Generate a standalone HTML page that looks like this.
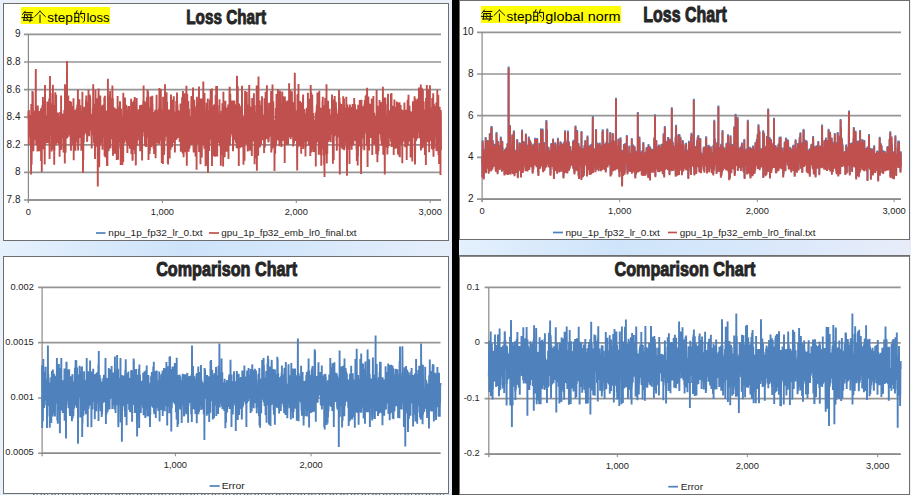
<!DOCTYPE html>
<html><head><meta charset="utf-8"><style>
html,body{margin:0;padding:0;width:911px;height:495px;overflow:hidden;}
body{background:#eaf1fb;font-family:"Liberation Sans", sans-serif;}
svg{position:absolute;left:0;top:0;}
svg text{font-family:"Liberation Sans", sans-serif;}
</style></head><body>
<svg width="911" height="495" viewBox="0 0 911 495">
<defs>
<linearGradient id="gl" x1="0" x2="1" y1="0" y2="0"><stop offset="0" stop-color="#e6f1fd"/><stop offset="0.4" stop-color="#cee3fa"/><stop offset="0.6" stop-color="#d3e6fb"/><stop offset="1" stop-color="#e6eefb"/></linearGradient>
<linearGradient id="gr" x1="0" x2="1" y1="0" y2="0"><stop offset="0" stop-color="#e4f0fd"/><stop offset="0.35" stop-color="#cfe4fa"/><stop offset="0.65" stop-color="#d8e8fb"/><stop offset="1" stop-color="#e8ecf9"/></linearGradient>
</defs>
<rect x="0" y="238" width="452" height="20" fill="url(#gl)"/>
<rect x="459" y="237" width="452" height="20" fill="url(#gr)"/>
<rect x="3.5" y="3.5" width="445" height="237" fill="#fff" stroke="#6e6e6e" stroke-width="1"/>
<rect x="459.5" y="0.5" width="450" height="239" fill="#fff" stroke="#6e6e6e" stroke-width="1"/>
<rect x="3.5" y="256.5" width="445" height="237" fill="#fff" stroke="#6e6e6e" stroke-width="1"/>
<rect x="459.5" y="255.5" width="450" height="239" fill="#fff" stroke="#6e6e6e" stroke-width="1"/>
<line x1="459" y1="256.5" x2="909" y2="256.5" stroke="#8a8a8a" stroke-width="1"/>
<rect x="0" y="494" width="452" height="1" fill="#dbeaf8"/>
<line x1="33" y1="494.5" x2="446" y2="494.5" stroke="#707070" stroke-width="1" stroke-dasharray="1.3 2.2 1 3.1 1.3 1.8"/>
<rect x="452" y="0" width="7" height="495" fill="#000"/>
<line x1="24" y1="34.4" x2="441" y2="34.4" stroke="#959595" stroke-width="1.7"/>
<text x="20.5" y="37.3" text-anchor="end" font-size="10" fill="#1e1e1e">9</text>
<line x1="24" y1="62.0" x2="441" y2="62.0" stroke="#959595" stroke-width="1.7"/>
<text x="20.5" y="64.9" text-anchor="end" font-size="10" fill="#1e1e1e">8.8</text>
<line x1="24" y1="89.6" x2="441" y2="89.6" stroke="#959595" stroke-width="1.7"/>
<text x="20.5" y="92.5" text-anchor="end" font-size="10" fill="#1e1e1e">8.6</text>
<line x1="24" y1="117.2" x2="441" y2="117.2" stroke="#959595" stroke-width="1.7"/>
<text x="20.5" y="120.10000000000001" text-anchor="end" font-size="10" fill="#1e1e1e">8.4</text>
<line x1="24" y1="144.8" x2="441" y2="144.8" stroke="#959595" stroke-width="1.7"/>
<text x="20.5" y="147.70000000000002" text-anchor="end" font-size="10" fill="#1e1e1e">8.2</text>
<line x1="24" y1="172.4" x2="441" y2="172.4" stroke="#959595" stroke-width="1.7"/>
<text x="20.5" y="175.3" text-anchor="end" font-size="10" fill="#1e1e1e">8</text>
<line x1="24" y1="200" x2="441" y2="200" stroke="#959595" stroke-width="1.7"/>
<text x="20.5" y="202.9" text-anchor="end" font-size="10" fill="#1e1e1e">7.8</text>
<line x1="28.4" y1="34.4" x2="28.4" y2="203" stroke="#8a8a8a" stroke-width="1.2"/>
<line x1="28.4" y1="200" x2="441" y2="200" stroke="#8a8a8a" stroke-width="1.3"/>
<line x1="28.4" y1="200" x2="28.4" y2="203" stroke="#8a8a8a" stroke-width="1"/>
<text x="28.4" y="214.8" text-anchor="middle" font-size="9.3" fill="#1e1e1e">0</text>
<line x1="162.4" y1="200" x2="162.4" y2="203" stroke="#8a8a8a" stroke-width="1"/>
<text x="162.4" y="214.8" text-anchor="middle" font-size="9.3" fill="#1e1e1e">1,000</text>
<line x1="296.3" y1="200" x2="296.3" y2="203" stroke="#8a8a8a" stroke-width="1"/>
<text x="296.3" y="214.8" text-anchor="middle" font-size="9.3" fill="#1e1e1e">2,000</text>
<line x1="430.2" y1="200" x2="430.2" y2="203" stroke="#8a8a8a" stroke-width="1"/>
<text x="430.2" y="214.8" text-anchor="middle" font-size="9.3" fill="#1e1e1e">3,000</text>
<polyline fill="none" stroke="#c0504d" stroke-width="1.9" stroke-linejoin="bevel" points="28.4,118.8 28.5,111.3 28.7,119.1 28.8,145.3 28.9,110.0 29.1,117.3 29.2,133.1 29.3,115.2 29.5,118.8 29.6,119.9 29.7,124.2 29.9,115.9 30.0,136.4 30.1,127.3 30.3,132.4 30.4,115.1 30.5,124.1 30.7,129.4 30.8,137.2 30.9,128.8 31.1,174.4 31.2,129.1 31.3,104.0 31.5,108.6 31.6,164.7 31.7,155.0 31.9,127.6 32.0,131.5 32.1,121.3 32.3,121.3 32.4,90.9 32.6,142.6 32.7,130.9 32.8,92.1 33.0,114.4 33.1,114.2 33.2,133.0 33.4,151.2 33.5,122.1 33.6,123.0 33.8,144.4 33.9,135.7 34.0,125.9 34.2,139.9 34.3,126.3 34.4,123.3 34.6,124.2 34.7,132.9 34.8,115.3 35.0,110.5 35.1,119.7 35.2,137.9 35.4,113.2 35.5,132.9 35.6,110.8 35.8,69.1 35.9,110.3 36.0,125.2 36.2,144.9 36.3,129.9 36.4,124.0 36.6,120.6 36.7,140.7 36.8,142.7 37.0,121.7 37.1,132.4 37.2,121.2 37.4,112.8 37.5,151.4 37.6,120.9 37.8,105.4 37.9,129.8 38.0,138.0 38.2,113.0 38.3,121.0 38.4,110.7 38.6,130.5 38.7,148.7 38.8,126.8 39.0,132.2 39.1,112.6 39.2,121.9 39.4,151.2 39.5,144.2 39.6,110.9 39.8,114.2 39.9,135.3 40.1,125.1 40.2,117.9 40.3,117.5 40.5,111.0 40.6,121.0 40.7,126.6 40.9,129.2 41.0,108.2 41.1,161.1 41.3,127.3 41.4,124.5 41.5,147.8 41.7,119.7 41.8,172.1 41.9,111.2 42.1,127.0 42.2,114.3 42.3,105.5 42.5,118.9 42.6,139.0 42.7,149.2 42.9,96.9 43.0,126.8 43.1,136.0 43.3,122.6 43.4,128.0 43.5,111.3 43.7,124.4 43.8,124.7 43.9,136.4 44.1,117.4 44.2,141.4 44.3,114.3 44.5,100.5 44.6,149.3 44.7,164.4 44.9,115.0 45.0,84.9 45.1,140.9 45.3,144.9 45.4,115.5 45.5,138.3 45.7,133.0 45.8,130.4 45.9,116.3 46.1,131.3 46.2,120.4 46.3,127.6 46.5,138.3 46.6,129.9 46.7,140.0 46.9,124.7 47.0,142.8 47.1,142.3 47.3,101.4 47.4,125.6 47.6,125.6 47.7,116.6 47.8,131.5 48.0,128.4 48.1,117.9 48.2,120.2 48.4,143.3 48.5,111.4 48.6,134.2 48.8,141.6 48.9,139.1 49.0,130.9 49.2,98.6 49.3,143.5 49.4,122.1 49.6,158.9 49.7,124.7 49.8,110.3 50.0,76.0 50.1,134.7 50.2,120.9 50.4,113.4 50.5,114.0 50.6,93.1 50.8,121.3 50.9,134.1 51.0,126.7 51.2,125.8 51.3,123.0 51.4,125.2 51.6,121.9 51.7,151.5 51.8,111.4 52.0,133.9 52.1,143.5 52.2,114.5 52.4,103.6 52.5,116.8 52.6,122.1 52.8,139.6 52.9,84.7 53.0,110.6 53.2,142.9 53.3,137.2 53.4,123.3 53.6,149.6 53.7,122.0 53.8,132.1 54.0,105.1 54.1,109.3 54.2,164.7 54.4,124.0 54.5,150.5 54.6,106.8 54.8,121.9 54.9,115.8 55.0,141.7 55.2,95.3 55.3,92.3 55.5,141.7 55.6,118.6 55.7,135.4 55.9,125.0 56.0,144.8 56.1,94.7 56.3,140.1 56.4,129.3 56.5,116.5 56.7,134.9 56.8,128.4 56.9,133.6 57.1,126.7 57.2,143.3 57.3,131.6 57.5,127.9 57.6,129.9 57.7,123.6 57.9,129.2 58.0,112.4 58.1,129.7 58.3,126.6 58.4,135.1 58.5,132.9 58.7,144.7 58.8,116.2 58.9,142.7 59.1,136.4 59.2,118.7 59.3,118.0 59.5,130.8 59.6,156.7 59.7,117.7 59.9,120.3 60.0,147.0 60.1,112.1 60.3,135.6 60.4,142.4 60.5,122.9 60.7,127.2 60.8,121.1 60.9,150.1 61.1,95.4 61.2,134.0 61.3,149.0 61.5,114.5 61.6,130.1 61.7,119.2 61.9,129.8 62.0,125.3 62.1,120.4 62.3,136.3 62.4,113.5 62.5,131.9 62.7,138.3 62.8,123.1 63.0,117.2 63.1,128.0 63.2,138.1 63.4,114.4 63.5,152.5 63.6,140.8 63.8,123.7 63.9,146.1 64.0,123.9 64.2,125.2 64.3,109.9 64.4,139.0 64.6,134.3 64.7,119.0 64.8,163.6 65.0,84.2 65.1,135.5 65.2,136.0 65.4,110.5 65.5,124.9 65.6,152.7 65.8,114.2 65.9,110.6 66.0,131.5 66.2,128.8 66.3,116.5 66.4,138.8 66.6,117.2 66.7,121.0 66.8,135.0 67.0,61.0 67.1,127.8 67.2,138.2 67.4,108.2 67.5,121.9 67.6,111.6 67.8,122.0 67.9,120.0 68.0,136.7 68.2,113.5 68.3,95.6 68.4,129.1 68.6,133.6 68.7,126.7 68.8,131.8 69.0,135.3 69.1,121.9 69.2,128.7 69.4,101.0 69.5,124.0 69.6,118.8 69.8,108.8 69.9,128.8 70.0,101.0 70.2,134.1 70.3,136.9 70.5,129.8 70.6,125.8 70.7,146.4 70.9,124.5 71.0,150.7 71.1,101.7 71.3,125.3 71.4,134.3 71.5,138.6 71.7,130.2 71.8,127.6 71.9,140.7 72.1,138.7 72.2,127.0 72.3,132.3 72.5,108.9 72.6,105.8 72.7,123.7 72.9,116.4 73.0,145.3 73.1,113.7 73.3,124.4 73.4,116.1 73.5,98.2 73.7,160.3 73.8,119.7 73.9,141.5 74.1,114.4 74.2,144.9 74.3,131.8 74.5,120.6 74.6,114.0 74.7,122.7 74.9,136.5 75.0,132.7 75.1,109.7 75.3,123.9 75.4,150.8 75.5,110.3 75.7,117.2 75.8,109.9 75.9,129.3 76.1,110.6 76.2,140.8 76.3,114.7 76.5,131.7 76.6,113.0 76.7,107.7 76.9,135.6 77.0,124.6 77.1,123.2 77.3,104.7 77.4,112.3 77.5,143.2 77.7,116.4 77.8,111.8 77.9,89.7 78.1,150.6 78.2,132.3 78.4,102.4 78.5,145.4 78.6,142.9 78.8,115.4 78.9,107.4 79.0,134.4 79.2,115.0 79.3,121.8 79.4,99.3 79.6,123.7 79.7,107.8 79.8,138.1 80.0,126.5 80.1,125.1 80.2,105.3 80.4,114.3 80.5,135.6 80.6,112.6 80.8,111.2 80.9,125.3 81.0,127.7 81.2,126.6 81.3,150.7 81.4,120.5 81.6,119.8 81.7,137.4 81.8,111.6 82.0,145.5 82.1,132.3 82.2,131.1 82.4,91.7 82.5,149.1 82.6,114.5 82.8,108.4 82.9,117.5 83.0,173.0 83.2,139.6 83.3,160.0 83.4,111.2 83.6,142.6 83.7,128.7 83.8,142.4 84.0,106.7 84.1,109.7 84.2,135.0 84.4,109.0 84.5,121.5 84.6,125.7 84.8,122.6 84.9,126.8 85.0,113.7 85.2,118.6 85.3,129.1 85.4,107.4 85.6,133.3 85.7,118.9 85.9,116.7 86.0,99.8 86.1,131.6 86.3,95.6 86.4,120.7 86.5,126.6 86.7,134.3 86.8,114.2 86.9,122.9 87.1,141.3 87.2,141.7 87.3,132.6 87.5,134.5 87.6,106.2 87.7,101.7 87.9,109.8 88.0,118.0 88.1,130.6 88.3,122.9 88.4,109.6 88.5,89.7 88.7,109.2 88.8,128.3 88.9,123.2 89.1,131.5 89.2,136.3 89.3,126.7 89.5,120.7 89.6,94.4 89.7,123.0 89.9,102.1 90.0,95.6 90.1,122.6 90.3,98.2 90.4,112.4 90.5,130.6 90.7,119.7 90.8,123.6 90.9,127.7 91.1,127.2 91.2,121.7 91.3,117.1 91.5,138.2 91.6,124.2 91.7,148.5 91.9,119.9 92.0,114.1 92.1,121.5 92.3,119.6 92.4,114.7 92.5,134.9 92.7,128.1 92.8,116.1 92.9,108.2 93.1,118.0 93.2,84.3 93.4,125.8 93.5,108.4 93.6,104.1 93.8,126.5 93.9,137.5 94.0,143.4 94.2,121.9 94.3,106.7 94.4,120.2 94.6,121.8 94.7,130.7 94.8,115.7 95.0,158.9 95.1,121.0 95.2,124.3 95.4,146.7 95.5,90.0 95.6,147.0 95.8,142.1 95.9,144.1 96.0,107.1 96.2,139.1 96.3,114.2 96.4,115.5 96.6,120.7 96.7,145.8 96.8,134.7 97.0,98.2 97.1,145.7 97.2,138.3 97.4,127.6 97.5,112.1 97.6,121.0 97.8,186.4 97.9,142.2 98.0,110.0 98.2,116.1 98.3,150.8 98.4,100.6 98.6,88.6 98.7,137.6 98.8,124.4 99.0,103.0 99.1,149.1 99.2,167.3 99.4,146.2 99.5,134.5 99.6,134.7 99.8,115.7 99.9,121.2 100.0,145.4 100.2,116.4 100.3,95.5 100.4,106.3 100.6,109.7 100.7,125.2 100.8,109.8 101.0,141.1 101.1,113.6 101.3,127.1 101.4,107.6 101.5,118.2 101.7,143.2 101.8,123.7 101.9,106.3 102.1,143.8 102.2,134.7 102.3,138.1 102.5,149.8 102.6,110.4 102.7,104.8 102.9,113.0 103.0,121.9 103.1,126.7 103.3,122.0 103.4,137.5 103.5,111.5 103.7,109.1 103.8,110.9 103.9,134.3 104.1,124.6 104.2,128.5 104.3,97.2 104.5,123.0 104.6,156.0 104.7,119.5 104.9,95.7 105.0,114.9 105.1,111.8 105.3,125.3 105.4,157.5 105.5,154.9 105.7,145.9 105.8,128.0 105.9,121.0 106.1,114.9 106.2,131.4 106.3,110.6 106.5,130.4 106.6,137.2 106.7,112.3 106.9,140.5 107.0,165.9 107.1,142.9 107.3,124.4 107.4,165.9 107.5,131.6 107.7,131.2 107.8,148.7 107.9,78.8 108.1,133.3 108.2,134.6 108.3,105.7 108.5,119.8 108.6,151.2 108.8,139.6 108.9,114.6 109.0,95.5 109.2,119.6 109.3,120.9 109.4,96.0 109.6,126.2 109.7,130.8 109.8,148.4 110.0,134.0 110.1,90.9 110.2,148.6 110.4,125.6 110.5,148.3 110.6,123.7 110.8,111.5 110.9,129.6 111.0,114.0 111.2,114.1 111.3,118.5 111.4,98.2 111.6,113.2 111.7,130.5 111.8,136.5 112.0,139.2 112.1,118.0 112.2,130.8 112.4,85.6 112.5,96.1 112.6,129.0 112.8,130.8 112.9,98.5 113.0,155.7 113.2,132.8 113.3,110.3 113.4,140.1 113.6,133.1 113.7,131.0 113.8,114.9 114.0,123.2 114.1,119.0 114.2,115.9 114.4,124.9 114.5,107.6 114.6,137.0 114.8,148.4 114.9,153.8 115.0,151.3 115.2,134.2 115.3,108.8 115.4,122.5 115.6,134.9 115.7,142.4 115.8,133.8 116.0,131.7 116.1,134.3 116.2,148.2 116.4,132.9 116.5,109.0 116.7,160.1 116.8,129.1 116.9,159.2 117.1,122.3 117.2,137.2 117.3,158.6 117.5,123.6 117.6,96.1 117.7,123.4 117.9,106.6 118.0,126.3 118.1,159.7 118.3,117.3 118.4,131.9 118.5,148.5 118.7,112.6 118.8,120.5 118.9,133.6 119.1,111.2 119.2,139.1 119.3,114.8 119.5,140.1 119.6,116.5 119.7,142.7 119.9,101.2 120.0,121.0 120.1,102.1 120.3,138.2 120.4,132.7 120.5,111.6 120.7,165.1 120.8,142.1 120.9,108.5 121.1,117.6 121.2,109.4 121.3,130.1 121.5,116.1 121.6,136.8 121.7,147.1 121.9,152.2 122.0,133.9 122.1,133.9 122.3,135.1 122.4,165.1 122.5,157.0 122.7,133.6 122.8,120.5 122.9,134.3 123.1,139.1 123.2,162.0 123.3,92.7 123.5,142.7 123.6,98.1 123.7,100.1 123.9,120.7 124.0,134.2 124.2,123.0 124.3,143.5 124.4,120.9 124.6,125.0 124.7,116.5 124.8,109.9 125.0,97.4 125.1,131.3 125.2,108.4 125.4,137.8 125.5,139.4 125.6,135.0 125.8,140.8 125.9,109.5 126.0,110.4 126.2,104.8 126.3,125.6 126.4,120.8 126.6,134.4 126.7,143.6 126.8,118.1 127.0,120.9 127.1,142.9 127.2,115.9 127.4,153.1 127.5,128.1 127.6,135.4 127.8,133.7 127.9,142.6 128.0,110.0 128.2,116.2 128.3,106.3 128.4,123.2 128.6,146.1 128.7,131.4 128.8,144.4 129.0,118.2 129.1,106.1 129.2,120.2 129.4,135.1 129.5,131.5 129.6,122.3 129.8,148.7 129.9,123.2 130.0,122.4 130.2,134.3 130.3,132.3 130.4,122.9 130.6,138.8 130.7,138.8 130.8,113.2 131.0,122.1 131.1,98.8 131.2,141.5 131.4,154.2 131.5,110.6 131.7,110.4 131.8,137.6 131.9,149.3 132.1,126.6 132.2,153.9 132.3,131.3 132.5,160.8 132.6,129.7 132.7,159.9 132.9,129.7 133.0,101.7 133.1,130.3 133.3,113.7 133.4,136.3 133.5,140.3 133.7,150.0 133.8,109.4 133.9,127.0 134.1,100.2 134.2,145.0 134.3,129.7 134.5,125.0 134.6,103.6 134.7,97.1 134.9,136.7 135.0,144.5 135.1,154.1 135.3,104.9 135.4,127.7 135.5,136.8 135.7,127.2 135.8,165.6 135.9,154.0 136.1,111.4 136.2,120.1 136.3,124.0 136.5,142.5 136.6,117.0 136.7,98.0 136.9,146.0 137.0,126.2 137.1,133.4 137.3,120.7 137.4,126.2 137.5,128.8 137.7,140.6 137.8,126.7 137.9,136.3 138.1,128.8 138.2,127.5 138.3,116.0 138.5,135.7 138.6,131.6 138.7,109.3 138.9,129.9 139.0,130.6 139.1,112.6 139.3,122.1 139.4,125.0 139.6,122.9 139.7,146.3 139.8,119.0 140.0,105.2 140.1,117.2 140.2,151.3 140.4,121.8 140.5,140.8 140.6,130.0 140.8,124.3 140.9,145.4 141.0,104.9 141.2,127.4 141.3,113.6 141.4,116.2 141.6,104.8 141.7,107.2 141.8,149.8 142.0,125.6 142.1,160.4 142.2,133.3 142.4,114.7 142.5,111.5 142.6,105.5 142.8,132.2 142.9,121.0 143.0,124.6 143.2,105.8 143.3,100.7 143.4,131.8 143.6,85.5 143.7,126.1 143.8,131.9 144.0,116.4 144.1,113.9 144.2,117.3 144.4,136.4 144.5,102.4 144.6,125.1 144.8,101.3 144.9,103.6 145.0,146.3 145.2,141.6 145.3,141.9 145.4,121.9 145.6,125.0 145.7,121.5 145.8,138.8 146.0,119.0 146.1,103.3 146.2,147.1 146.4,128.9 146.5,121.7 146.6,127.8 146.8,128.8 146.9,97.3 147.1,105.1 147.2,112.0 147.3,137.8 147.5,89.7 147.6,119.8 147.7,134.8 147.9,130.9 148.0,133.3 148.1,91.5 148.3,122.2 148.4,124.5 148.5,159.9 148.7,113.6 148.8,142.4 148.9,143.5 149.1,115.6 149.2,139.2 149.3,112.0 149.5,107.4 149.6,154.0 149.7,127.5 149.9,150.5 150.0,126.3 150.1,110.7 150.3,147.1 150.4,96.4 150.5,130.2 150.7,144.2 150.8,127.3 150.9,112.6 151.1,147.3 151.2,125.2 151.3,147.2 151.5,106.0 151.6,122.7 151.7,132.0 151.9,108.6 152.0,145.8 152.1,131.5 152.3,95.7 152.4,127.2 152.5,103.5 152.7,122.0 152.8,136.3 152.9,129.0 153.1,123.8 153.2,131.6 153.3,138.2 153.5,137.5 153.6,148.8 153.7,123.3 153.9,118.7 154.0,113.0 154.1,153.9 154.3,112.1 154.4,125.3 154.6,147.9 154.7,123.4 154.8,111.9 155.0,116.6 155.1,113.3 155.2,109.8 155.4,110.6 155.5,125.5 155.6,158.2 155.8,137.1 155.9,119.2 156.0,132.4 156.2,113.9 156.3,112.1 156.4,124.0 156.6,94.7 156.7,140.4 156.8,109.9 157.0,132.3 157.1,137.2 157.2,115.3 157.4,134.6 157.5,111.0 157.6,143.3 157.8,124.1 157.9,138.1 158.0,128.4 158.2,130.6 158.3,142.7 158.4,114.1 158.6,144.5 158.7,140.2 158.8,110.3 159.0,108.9 159.1,113.8 159.2,119.0 159.4,88.0 159.5,143.8 159.6,136.3 159.8,140.3 159.9,110.0 160.0,119.8 160.2,106.6 160.3,108.8 160.4,128.0 160.6,137.5 160.7,140.3 160.8,89.0 161.0,108.9 161.1,114.9 161.2,129.8 161.4,127.6 161.5,129.9 161.6,129.6 161.8,162.9 161.9,125.3 162.0,130.5 162.2,119.7 162.3,121.0 162.5,110.7 162.6,124.6 162.7,111.6 162.9,164.1 163.0,142.0 163.1,96.7 163.3,143.9 163.4,128.8 163.5,113.0 163.7,138.5 163.8,112.8 163.9,147.2 164.1,155.0 164.2,145.7 164.3,150.8 164.5,124.7 164.6,129.5 164.7,119.1 164.9,141.0 165.0,84.2 165.1,125.9 165.3,125.1 165.4,117.1 165.5,128.3 165.7,134.5 165.8,123.0 165.9,109.7 166.1,113.8 166.2,109.4 166.3,133.5 166.5,136.8 166.6,92.3 166.7,128.2 166.9,116.8 167.0,112.6 167.1,101.7 167.3,146.1 167.4,132.1 167.5,131.4 167.7,129.3 167.8,163.1 167.9,126.1 168.1,164.4 168.2,119.8 168.3,116.0 168.5,115.1 168.6,143.9 168.7,109.4 168.9,138.5 169.0,144.3 169.1,140.4 169.3,138.3 169.4,122.0 169.5,111.5 169.7,158.4 169.8,133.4 170.0,110.3 170.1,121.5 170.2,116.6 170.4,148.8 170.5,109.5 170.6,149.8 170.8,121.7 170.9,102.9 171.0,94.6 171.2,116.5 171.3,110.6 171.4,134.4 171.6,132.4 171.7,106.0 171.8,124.7 172.0,126.8 172.1,147.3 172.2,122.3 172.4,114.4 172.5,137.5 172.6,132.9 172.8,99.5 172.9,121.9 173.0,129.4 173.2,143.0 173.3,134.7 173.4,128.8 173.6,103.0 173.7,134.7 173.8,96.2 174.0,139.8 174.1,130.7 174.2,111.5 174.4,128.8 174.5,138.3 174.6,127.2 174.8,117.9 174.9,152.6 175.0,129.1 175.2,126.9 175.3,131.7 175.4,113.4 175.6,134.3 175.7,131.1 175.8,124.6 176.0,113.6 176.1,128.8 176.2,101.0 176.4,139.8 176.5,104.6 176.6,139.0 176.8,127.9 176.9,119.4 177.0,92.4 177.2,111.0 177.3,131.8 177.5,104.5 177.6,128.7 177.7,138.0 177.9,118.2 178.0,123.9 178.1,110.1 178.3,134.2 178.4,119.3 178.5,115.2 178.7,120.9 178.8,125.9 178.9,136.5 179.1,110.9 179.2,123.2 179.3,117.5 179.5,131.1 179.6,125.2 179.7,142.0 179.9,124.1 180.0,113.2 180.1,124.0 180.3,111.7 180.4,120.4 180.5,103.6 180.7,128.5 180.8,151.7 180.9,118.6 181.1,128.2 181.2,141.1 181.3,115.1 181.5,121.3 181.6,118.5 181.7,130.9 181.9,122.5 182.0,121.5 182.1,97.2 182.3,136.5 182.4,125.7 182.5,119.7 182.7,153.2 182.8,151.2 182.9,90.9 183.1,153.8 183.2,116.3 183.3,139.1 183.5,137.7 183.6,157.3 183.7,140.0 183.9,113.0 184.0,147.8 184.1,116.0 184.3,120.6 184.4,93.2 184.5,133.2 184.7,105.4 184.8,111.4 184.9,130.2 185.1,152.2 185.2,101.5 185.4,147.5 185.5,133.3 185.6,111.6 185.8,107.8 185.9,139.2 186.0,126.2 186.2,129.8 186.3,106.7 186.4,85.7 186.6,155.0 186.7,111.0 186.8,165.7 187.0,125.5 187.1,143.4 187.2,93.8 187.4,123.0 187.5,137.5 187.6,133.7 187.8,134.9 187.9,122.6 188.0,128.2 188.2,115.2 188.3,101.0 188.4,114.5 188.6,145.3 188.7,151.7 188.8,137.8 189.0,108.8 189.1,131.0 189.2,136.4 189.4,123.5 189.5,148.4 189.6,144.0 189.8,117.6 189.9,130.7 190.0,133.1 190.2,120.8 190.3,135.2 190.4,136.8 190.6,133.3 190.7,116.3 190.8,124.9 191.0,145.0 191.1,130.8 191.2,115.6 191.4,96.0 191.5,144.2 191.6,120.5 191.8,130.0 191.9,112.7 192.0,118.7 192.2,102.3 192.3,117.6 192.4,134.6 192.6,134.5 192.7,119.4 192.9,119.6 193.0,87.5 193.1,99.1 193.3,144.7 193.4,120.4 193.5,147.3 193.7,152.5 193.8,114.0 193.9,117.1 194.1,142.6 194.2,99.7 194.3,141.6 194.5,144.7 194.6,115.5 194.7,122.5 194.9,128.6 195.0,127.1 195.1,122.5 195.3,128.3 195.4,128.8 195.5,156.4 195.7,147.6 195.8,116.3 195.9,137.4 196.1,117.4 196.2,106.3 196.3,131.8 196.5,121.6 196.6,169.8 196.7,115.0 196.9,96.7 197.0,101.6 197.1,114.1 197.3,128.0 197.4,139.7 197.5,144.0 197.7,118.4 197.8,118.7 197.9,129.0 198.1,112.7 198.2,135.9 198.3,108.5 198.5,125.6 198.6,126.8 198.7,126.3 198.9,127.8 199.0,86.4 199.1,152.1 199.3,123.4 199.4,106.4 199.5,114.8 199.7,131.1 199.8,98.4 199.9,143.4 200.1,147.2 200.2,117.2 200.4,149.5 200.5,164.3 200.6,112.1 200.8,114.1 200.9,114.5 201.0,134.1 201.2,123.3 201.3,141.7 201.4,98.5 201.6,113.6 201.7,114.4 201.8,157.5 202.0,113.3 202.1,102.4 202.2,106.8 202.4,113.6 202.5,126.3 202.6,131.7 202.8,116.6 202.9,120.1 203.0,122.5 203.2,131.3 203.3,81.4 203.4,145.0 203.6,126.7 203.7,135.6 203.8,109.8 204.0,103.4 204.1,106.4 204.2,114.3 204.4,148.8 204.5,93.0 204.6,118.0 204.8,128.0 204.9,126.0 205.0,131.8 205.2,119.5 205.3,121.3 205.4,132.1 205.6,166.3 205.7,126.9 205.8,118.6 206.0,117.8 206.1,128.7 206.2,119.0 206.4,109.8 206.5,133.7 206.6,102.8 206.8,157.5 206.9,146.4 207.0,140.7 207.2,165.4 207.3,142.2 207.4,106.2 207.6,106.3 207.7,124.6 207.8,98.6 208.0,172.7 208.1,134.1 208.3,122.3 208.4,128.4 208.5,114.4 208.7,150.2 208.8,110.2 208.9,133.5 209.1,112.5 209.2,150.9 209.3,132.9 209.5,124.9 209.6,111.8 209.7,145.7 209.9,99.5 210.0,118.4 210.1,134.6 210.3,106.7 210.4,124.5 210.5,107.6 210.7,88.9 210.8,113.8 210.9,134.6 211.1,133.0 211.2,116.9 211.3,121.5 211.5,139.5 211.6,136.9 211.7,115.5 211.9,88.6 212.0,166.1 212.1,114.5 212.3,129.5 212.4,113.7 212.5,112.3 212.7,125.3 212.8,142.4 212.9,148.4 213.1,156.1 213.2,106.5 213.3,129.4 213.5,134.7 213.6,130.5 213.7,147.5 213.9,121.2 214.0,104.9 214.1,107.9 214.3,151.1 214.4,104.2 214.5,138.3 214.7,156.7 214.8,145.8 214.9,141.6 215.1,126.2 215.2,142.6 215.3,150.3 215.5,130.3 215.6,95.3 215.8,137.3 215.9,118.7 216.0,124.8 216.2,86.0 216.3,156.4 216.4,108.5 216.6,146.5 216.7,135.5 216.8,127.6 217.0,86.1 217.1,138.3 217.2,156.4 217.4,105.3 217.5,139.5 217.6,130.0 217.8,126.5 217.9,124.5 218.0,128.8 218.2,121.8 218.3,119.9 218.4,112.5 218.6,133.0 218.7,138.1 218.8,143.2 219.0,116.7 219.1,126.9 219.2,117.3 219.4,117.6 219.5,99.3 219.6,123.0 219.8,114.2 219.9,145.5 220.0,143.6 220.2,131.3 220.3,145.8 220.4,115.3 220.6,147.7 220.7,125.2 220.8,165.7 221.0,144.0 221.1,131.8 221.2,130.5 221.4,155.1 221.5,124.7 221.6,110.8 221.8,116.0 221.9,136.9 222.0,135.8 222.2,145.4 222.3,116.3 222.4,103.3 222.6,134.9 222.7,153.7 222.8,123.3 223.0,115.1 223.1,166.5 223.3,124.3 223.4,91.8 223.5,113.4 223.7,117.7 223.8,120.1 223.9,109.6 224.1,141.7 224.2,140.1 224.3,120.1 224.5,137.6 224.6,122.5 224.7,157.3 224.9,114.5 225.0,113.1 225.1,126.0 225.3,124.1 225.4,100.8 225.5,144.1 225.7,141.4 225.8,144.3 225.9,133.6 226.1,143.0 226.2,126.2 226.3,137.2 226.5,150.0 226.6,151.6 226.7,107.4 226.9,127.9 227.0,130.4 227.1,126.4 227.3,128.1 227.4,114.7 227.5,117.8 227.7,136.2 227.8,140.0 227.9,144.2 228.1,146.9 228.2,104.4 228.3,141.5 228.5,159.1 228.6,140.3 228.7,139.4 228.9,121.5 229.0,141.0 229.1,118.3 229.3,120.6 229.4,106.6 229.5,92.1 229.7,86.8 229.8,105.2 229.9,145.4 230.1,133.3 230.2,122.8 230.3,93.7 230.5,115.9 230.6,107.5 230.7,129.6 230.9,117.3 231.0,115.3 231.2,134.0 231.3,114.3 231.4,109.6 231.6,129.3 231.7,110.4 231.8,100.4 232.0,125.7 232.1,126.7 232.2,131.7 232.4,136.6 232.5,124.2 232.6,133.3 232.8,131.7 232.9,139.1 233.0,151.3 233.2,141.7 233.3,121.4 233.4,145.7 233.6,137.1 233.7,100.4 233.8,108.7 234.0,137.8 234.1,117.0 234.2,137.1 234.4,100.6 234.5,136.0 234.6,125.4 234.8,104.5 234.9,139.9 235.0,105.7 235.2,139.7 235.3,122.8 235.4,131.3 235.6,128.0 235.7,124.0 235.8,127.7 236.0,142.8 236.1,112.6 236.2,114.9 236.4,105.8 236.5,104.2 236.6,147.9 236.8,105.8 236.9,105.6 237.0,75.8 237.2,109.7 237.3,102.8 237.4,135.0 237.6,148.4 237.7,132.0 237.8,86.2 238.0,122.4 238.1,145.6 238.2,130.2 238.4,142.1 238.5,132.5 238.7,124.6 238.8,166.1 238.9,120.3 239.1,103.4 239.2,129.2 239.3,132.1 239.5,108.5 239.6,146.2 239.7,145.8 239.9,148.2 240.0,128.4 240.1,119.6 240.3,127.3 240.4,117.1 240.5,112.6 240.7,117.9 240.8,138.8 240.9,130.1 241.1,105.8 241.2,142.5 241.3,129.8 241.5,132.4 241.6,128.6 241.7,142.9 241.9,147.3 242.0,85.7 242.1,110.5 242.3,137.0 242.4,126.6 242.5,114.7 242.7,131.0 242.8,115.7 242.9,135.4 243.1,131.3 243.2,126.9 243.3,132.8 243.5,164.8 243.6,125.2 243.7,121.3 243.9,117.8 244.0,141.4 244.1,119.9 244.3,122.0 244.4,153.7 244.5,160.7 244.7,117.7 244.8,140.6 244.9,109.3 245.1,91.0 245.2,134.6 245.3,136.3 245.5,125.5 245.6,114.5 245.7,143.4 245.9,105.3 246.0,109.3 246.1,114.6 246.3,133.8 246.4,110.5 246.6,111.5 246.7,144.4 246.8,91.7 247.0,130.0 247.1,119.3 247.2,133.6 247.4,119.0 247.5,106.6 247.6,138.1 247.8,151.6 247.9,132.3 248.0,146.0 248.2,137.3 248.3,127.2 248.4,126.2 248.6,104.5 248.7,141.4 248.8,119.5 249.0,133.2 249.1,103.2 249.2,85.0 249.4,120.2 249.5,98.3 249.6,133.6 249.8,150.7 249.9,145.4 250.0,150.4 250.2,140.4 250.3,129.0 250.4,106.7 250.6,113.9 250.7,117.7 250.8,131.9 251.0,136.7 251.1,124.5 251.2,122.9 251.4,121.0 251.5,119.1 251.6,127.0 251.8,155.9 251.9,142.9 252.0,138.3 252.2,98.0 252.3,132.0 252.4,114.4 252.6,101.8 252.7,119.9 252.8,131.5 253.0,129.9 253.1,141.6 253.2,120.3 253.4,107.2 253.5,116.1 253.6,112.9 253.8,113.7 253.9,93.2 254.1,135.4 254.2,122.7 254.3,114.0 254.5,105.3 254.6,164.2 254.7,133.7 254.9,128.7 255.0,141.8 255.1,111.8 255.3,121.9 255.4,131.8 255.5,151.6 255.7,146.6 255.8,141.2 255.9,118.1 256.1,144.9 256.2,158.5 256.3,148.7 256.5,134.9 256.6,98.7 256.7,85.4 256.9,170.7 257.0,110.3 257.1,103.0 257.3,104.9 257.4,127.3 257.5,146.3 257.7,133.2 257.8,155.2 257.9,121.6 258.1,113.0 258.2,155.7 258.3,126.3 258.5,76.4 258.6,105.5 258.7,103.4 258.9,112.7 259.0,136.5 259.1,131.4 259.3,106.2 259.4,135.2 259.5,126.2 259.7,100.5 259.8,123.4 259.9,147.5 260.1,130.2 260.2,115.3 260.3,128.6 260.5,107.0 260.6,105.1 260.7,136.0 260.9,133.6 261.0,127.3 261.1,144.8 261.3,119.5 261.4,128.5 261.6,113.0 261.7,135.2 261.8,139.7 262.0,96.2 262.1,139.7 262.2,135.0 262.4,137.3 262.5,130.5 262.6,140.2 262.8,126.3 262.9,136.9 263.0,132.3 263.2,119.8 263.3,114.4 263.4,118.1 263.6,137.4 263.7,119.2 263.8,127.5 264.0,127.2 264.1,153.1 264.2,114.8 264.4,127.7 264.5,98.2 264.6,115.3 264.8,143.4 264.9,147.4 265.0,107.0 265.2,139.4 265.3,114.5 265.4,130.2 265.6,91.7 265.7,124.1 265.8,101.1 266.0,104.0 266.1,132.7 266.2,130.5 266.4,101.4 266.5,125.1 266.6,139.0 266.8,105.8 266.9,85.2 267.0,125.6 267.2,102.4 267.3,127.4 267.4,103.1 267.6,128.5 267.7,103.3 267.8,115.9 268.0,127.4 268.1,120.7 268.2,133.1 268.4,142.4 268.5,141.2 268.6,125.1 268.8,141.1 268.9,117.1 269.0,115.5 269.2,116.4 269.3,131.9 269.5,123.0 269.6,124.3 269.7,102.6 269.9,136.7 270.0,129.9 270.1,127.5 270.3,126.0 270.4,135.6 270.5,133.7 270.7,107.4 270.8,133.8 270.9,108.9 271.1,90.9 271.2,103.0 271.3,152.4 271.5,111.1 271.6,115.8 271.7,114.7 271.9,149.5 272.0,111.2 272.1,140.8 272.3,102.6 272.4,106.2 272.5,84.4 272.7,129.5 272.8,147.7 272.9,106.5 273.1,109.3 273.2,129.4 273.3,101.4 273.5,112.1 273.6,143.8 273.7,128.7 273.9,130.2 274.0,124.8 274.1,120.0 274.3,134.2 274.4,126.2 274.5,171.0 274.7,124.2 274.8,127.4 274.9,127.9 275.1,124.6 275.2,153.7 275.3,120.4 275.5,139.4 275.6,121.2 275.7,146.5 275.9,108.1 276.0,119.1 276.1,144.5 276.3,119.0 276.4,135.0 276.5,94.0 276.7,115.0 276.8,135.5 277.0,119.1 277.1,123.2 277.2,103.5 277.4,116.9 277.5,114.4 277.6,140.5 277.8,109.9 277.9,89.0 278.0,112.3 278.2,123.1 278.3,119.9 278.4,137.7 278.6,119.5 278.7,140.0 278.8,121.7 279.0,128.6 279.1,135.6 279.2,113.0 279.4,146.2 279.5,122.9 279.6,143.5 279.8,93.0 279.9,90.6 280.0,108.7 280.2,91.9 280.3,112.7 280.4,113.5 280.6,129.0 280.7,136.5 280.8,120.1 281.0,130.7 281.1,129.2 281.2,110.5 281.4,124.2 281.5,147.1 281.6,125.6 281.8,134.3 281.9,126.8 282.0,139.6 282.2,102.9 282.3,91.6 282.4,139.8 282.6,111.7 282.7,112.5 282.8,139.3 283.0,120.4 283.1,99.5 283.2,108.5 283.4,96.2 283.5,140.9 283.6,134.1 283.8,117.5 283.9,116.4 284.0,121.7 284.2,128.3 284.3,128.7 284.5,131.9 284.6,114.9 284.7,163.0 284.9,96.5 285.0,130.6 285.1,145.1 285.3,113.5 285.4,144.7 285.5,116.1 285.7,128.7 285.8,112.8 285.9,109.7 286.1,101.6 286.2,130.3 286.3,127.0 286.5,122.6 286.6,145.0 286.7,112.9 286.9,120.3 287.0,143.9 287.1,103.0 287.3,100.6 287.4,143.5 287.5,113.3 287.7,102.4 287.8,109.0 287.9,138.2 288.1,144.9 288.2,124.4 288.3,130.5 288.5,122.7 288.6,124.3 288.7,114.2 288.9,131.6 289.0,125.3 289.1,83.2 289.3,124.8 289.4,110.9 289.5,118.1 289.7,119.3 289.8,137.4 289.9,114.4 290.1,123.6 290.2,109.7 290.3,90.0 290.5,119.9 290.6,110.7 290.7,139.3 290.9,121.0 291.0,98.1 291.1,123.9 291.3,133.2 291.4,119.7 291.5,126.0 291.7,126.9 291.8,129.0 291.9,91.2 292.1,137.0 292.2,129.7 292.4,132.2 292.5,103.2 292.6,127.6 292.8,102.2 292.9,120.5 293.0,123.5 293.2,146.5 293.3,103.8 293.4,114.5 293.6,116.7 293.7,125.1 293.8,129.9 294.0,143.5 294.1,108.1 294.2,118.9 294.4,129.0 294.5,133.4 294.6,121.4 294.8,72.7 294.9,97.1 295.0,111.0 295.2,132.9 295.3,141.1 295.4,127.2 295.6,138.0 295.7,122.2 295.8,116.9 296.0,113.2 296.1,116.8 296.2,126.5 296.4,113.8 296.5,137.6 296.6,124.7 296.8,110.5 296.9,118.9 297.0,143.9 297.2,170.5 297.3,149.4 297.4,94.7 297.6,148.3 297.7,125.8 297.8,94.1 298.0,106.3 298.1,102.5 298.2,131.6 298.4,111.8 298.5,84.1 298.6,124.2 298.8,117.0 298.9,128.7 299.0,123.9 299.2,117.7 299.3,101.5 299.4,138.1 299.6,146.5 299.7,123.3 299.9,120.4 300.0,101.1 300.1,112.3 300.3,133.8 300.4,114.7 300.5,105.9 300.7,119.2 300.8,129.3 300.9,113.0 301.1,129.6 301.2,153.8 301.3,102.6 301.5,144.6 301.6,129.3 301.7,129.1 301.9,129.4 302.0,128.6 302.1,147.2 302.3,115.7 302.4,123.7 302.5,123.6 302.7,107.1 302.8,106.6 302.9,102.8 303.1,94.6 303.2,117.0 303.3,148.9 303.5,120.9 303.6,124.1 303.7,123.2 303.9,133.9 304.0,138.5 304.1,111.6 304.3,108.9 304.4,142.3 304.5,115.8 304.7,127.2 304.8,130.7 304.9,113.5 305.1,125.3 305.2,133.4 305.3,123.6 305.5,156.5 305.6,134.1 305.7,131.7 305.9,147.0 306.0,121.8 306.1,120.4 306.3,134.3 306.4,127.4 306.5,113.9 306.7,107.7 306.8,136.9 306.9,119.3 307.1,108.2 307.2,125.3 307.4,137.2 307.5,137.1 307.6,130.0 307.8,141.4 307.9,92.7 308.0,134.0 308.2,118.9 308.3,122.1 308.4,114.8 308.6,131.2 308.7,145.8 308.8,98.8 309.0,126.3 309.1,123.2 309.2,121.9 309.4,104.9 309.5,112.9 309.6,106.3 309.8,112.0 309.9,122.7 310.0,121.0 310.2,137.0 310.3,156.1 310.4,128.9 310.6,142.3 310.7,85.1 310.8,100.1 311.0,106.3 311.1,133.9 311.2,92.2 311.4,152.4 311.5,144.5 311.6,137.6 311.8,140.5 311.9,123.0 312.0,122.0 312.2,94.5 312.3,109.2 312.4,105.6 312.6,118.4 312.7,127.5 312.8,136.1 313.0,149.3 313.1,139.1 313.2,131.2 313.4,112.9 313.5,152.1 313.6,147.0 313.8,121.6 313.9,141.9 314.0,119.7 314.2,131.7 314.3,137.1 314.4,146.4 314.6,126.6 314.7,136.7 314.8,134.8 315.0,135.2 315.1,122.0 315.3,122.7 315.4,152.5 315.5,127.6 315.7,118.7 315.8,166.5 315.9,112.5 316.1,121.7 316.2,143.3 316.3,137.4 316.5,110.4 316.6,136.2 316.7,108.6 316.9,104.6 317.0,142.0 317.1,118.0 317.3,126.8 317.4,92.6 317.5,111.6 317.7,133.2 317.8,118.5 317.9,139.7 318.1,127.5 318.2,121.7 318.3,122.6 318.5,120.1 318.6,139.5 318.7,154.7 318.9,130.8 319.0,139.2 319.1,136.1 319.3,90.7 319.4,106.3 319.5,127.7 319.7,147.8 319.8,145.7 319.9,119.1 320.1,107.7 320.2,129.5 320.3,122.7 320.5,120.8 320.6,107.8 320.7,154.9 320.9,122.3 321.0,118.3 321.1,109.6 321.3,165.8 321.4,142.4 321.5,134.1 321.7,149.2 321.8,121.7 321.9,121.7 322.1,116.6 322.2,140.3 322.3,143.0 322.5,100.4 322.6,121.8 322.8,96.8 322.9,117.6 323.0,148.1 323.2,111.8 323.3,104.9 323.4,131.8 323.6,155.4 323.7,114.0 323.8,126.9 324.0,120.2 324.1,164.6 324.2,117.3 324.4,164.6 324.5,177.0 324.6,110.4 324.8,153.8 324.9,154.4 325.0,131.7 325.2,98.1 325.3,98.6 325.4,134.2 325.6,108.4 325.7,115.2 325.8,120.3 326.0,118.7 326.1,136.0 326.2,111.6 326.4,107.4 326.5,84.3 326.6,109.7 326.8,163.6 326.9,143.6 327.0,119.0 327.2,123.2 327.3,154.1 327.4,126.5 327.6,130.0 327.7,125.1 327.8,126.2 328.0,109.5 328.1,100.8 328.2,113.3 328.4,142.0 328.5,138.1 328.6,134.8 328.8,125.1 328.9,131.0 329.0,129.8 329.2,138.9 329.3,108.9 329.4,110.5 329.6,108.8 329.7,125.4 329.8,116.8 330.0,138.6 330.1,140.2 330.3,132.7 330.4,114.6 330.5,126.4 330.7,142.3 330.8,122.5 330.9,117.1 331.1,121.3 331.2,134.5 331.3,122.8 331.5,130.6 331.6,129.1 331.7,125.3 331.9,111.8 332.0,94.6 332.1,98.8 332.3,113.7 332.4,130.1 332.5,128.7 332.7,128.0 332.8,105.2 332.9,163.7 333.1,119.5 333.2,155.5 333.3,123.7 333.5,102.4 333.6,138.1 333.7,160.1 333.9,102.8 334.0,99.4 334.1,115.5 334.3,103.4 334.4,136.2 334.5,104.6 334.7,96.1 334.8,113.1 334.9,118.8 335.1,102.7 335.2,105.2 335.3,135.3 335.5,101.5 335.6,111.3 335.7,120.7 335.9,102.4 336.0,108.4 336.1,111.3 336.3,131.3 336.4,109.8 336.5,140.9 336.7,125.1 336.8,150.2 336.9,150.3 337.1,116.0 337.2,124.4 337.3,121.7 337.5,113.6 337.6,117.5 337.7,137.3 337.9,121.8 338.0,124.1 338.2,131.3 338.3,125.0 338.4,128.9 338.6,133.4 338.7,128.4 338.8,119.3 339.0,90.0 339.1,136.1 339.2,114.6 339.4,146.4 339.5,97.5 339.6,128.3 339.8,174.4 339.9,102.5 340.0,107.1 340.2,146.8 340.3,114.0 340.4,126.5 340.6,112.9 340.7,120.4 340.8,111.0 341.0,118.1 341.1,125.0 341.2,104.0 341.4,147.5 341.5,129.8 341.6,138.1 341.8,125.1 341.9,129.7 342.0,125.2 342.2,130.8 342.3,130.4 342.4,149.3 342.6,123.6 342.7,118.1 342.8,132.5 343.0,133.5 343.1,133.4 343.2,96.2 343.4,120.1 343.5,116.9 343.6,127.9 343.8,131.1 343.9,137.2 344.0,98.4 344.2,150.3 344.3,118.3 344.4,123.5 344.6,127.2 344.7,148.2 344.8,142.9 345.0,107.5 345.1,134.3 345.2,109.1 345.4,112.5 345.5,114.0 345.7,111.1 345.8,142.6 345.9,130.9 346.1,112.5 346.2,143.6 346.3,96.8 346.5,132.4 346.6,124.5 346.7,139.9 346.9,117.6 347.0,175.8 347.1,127.4 347.3,141.7 347.4,104.5 347.5,149.7 347.7,116.4 347.8,119.8 347.9,116.6 348.1,140.0 348.2,107.2 348.3,108.3 348.5,121.2 348.6,118.7 348.7,126.3 348.9,113.5 349.0,137.0 349.1,114.9 349.3,117.3 349.4,146.4 349.5,163.9 349.7,125.8 349.8,126.6 349.9,104.5 350.1,123.1 350.2,132.0 350.3,145.9 350.5,125.5 350.6,133.5 350.7,141.9 350.9,126.2 351.0,107.4 351.1,122.8 351.3,141.1 351.4,119.1 351.5,142.0 351.7,149.7 351.8,116.5 351.9,133.3 352.1,106.7 352.2,119.5 352.3,137.4 352.5,121.0 352.6,103.9 352.7,127.6 352.9,141.6 353.0,135.3 353.2,137.7 353.3,143.6 353.4,145.5 353.6,118.0 353.7,107.1 353.8,130.6 354.0,112.3 354.1,110.4 354.2,98.0 354.4,128.0 354.5,130.6 354.6,118.2 354.8,123.4 354.9,120.2 355.0,104.3 355.2,132.0 355.3,121.7 355.4,140.9 355.6,127.8 355.7,136.0 355.8,137.4 356.0,128.8 356.1,132.4 356.2,119.3 356.4,112.4 356.5,149.2 356.6,109.3 356.8,161.0 356.9,121.4 357.0,114.0 357.2,135.8 357.3,129.1 357.4,138.0 357.6,111.2 357.7,165.5 357.8,141.1 358.0,156.6 358.1,122.6 358.2,104.8 358.4,106.5 358.5,114.9 358.6,121.6 358.8,137.9 358.9,106.2 359.0,115.7 359.2,139.2 359.3,146.2 359.4,135.8 359.6,108.4 359.7,105.7 359.8,99.9 360.0,138.2 360.1,131.5 360.2,103.6 360.4,122.2 360.5,113.5 360.6,146.9 360.8,131.7 360.9,126.0 361.1,174.0 361.2,132.4 361.3,151.9 361.5,99.7 361.6,123.4 361.7,149.1 361.9,108.5 362.0,124.7 362.1,114.2 362.3,128.8 362.4,138.2 362.5,137.8 362.7,120.1 362.8,113.2 362.9,117.7 363.1,115.2 363.2,106.3 363.3,120.9 363.5,109.4 363.6,107.7 363.7,120.7 363.9,126.6 364.0,132.3 364.1,144.5 364.3,150.2 364.4,104.2 364.5,125.4 364.7,133.9 364.8,99.9 364.9,109.6 365.1,124.1 365.2,108.9 365.3,128.0 365.5,119.2 365.6,95.8 365.7,108.0 365.9,129.2 366.0,113.7 366.1,105.9 366.3,126.6 366.4,131.4 366.5,94.6 366.7,129.4 366.8,145.7 366.9,122.2 367.1,87.7 367.2,114.2 367.3,108.9 367.5,158.8 367.6,167.1 367.7,104.5 367.9,130.2 368.0,102.6 368.1,115.9 368.3,117.2 368.4,96.6 368.6,131.5 368.7,130.9 368.8,121.6 369.0,119.8 369.1,150.4 369.2,103.5 369.4,119.5 369.5,125.8 369.6,113.2 369.8,129.5 369.9,103.8 370.0,122.0 370.2,111.5 370.3,137.2 370.4,127.5 370.6,117.0 370.7,138.1 370.8,133.6 371.0,123.8 371.1,105.2 371.2,110.8 371.4,108.6 371.5,118.1 371.6,108.6 371.8,98.4 371.9,120.3 372.0,116.1 372.2,113.7 372.3,155.1 372.4,124.6 372.6,116.4 372.7,111.0 372.8,128.2 373.0,107.4 373.1,133.3 373.2,125.8 373.4,96.1 373.5,144.7 373.6,124.3 373.8,125.4 373.9,124.5 374.0,131.6 374.2,112.7 374.3,140.2 374.4,144.2 374.6,115.4 374.7,142.1 374.8,117.1 375.0,122.8 375.1,134.1 375.2,128.7 375.4,124.7 375.5,116.0 375.6,133.3 375.8,126.6 375.9,146.2 376.0,127.7 376.2,154.0 376.3,124.1 376.5,130.6 376.6,89.9 376.7,102.8 376.9,125.8 377.0,108.3 377.1,119.0 377.3,141.8 377.4,162.3 377.5,105.8 377.7,117.4 377.8,154.9 377.9,113.4 378.1,109.1 378.2,134.6 378.3,111.1 378.5,151.2 378.6,127.2 378.7,123.2 378.9,111.2 379.0,117.4 379.1,120.2 379.3,114.9 379.4,134.2 379.5,100.1 379.7,129.2 379.8,111.0 379.9,123.7 380.1,127.6 380.2,114.3 380.3,116.5 380.5,102.1 380.6,106.5 380.7,132.7 380.9,115.7 381.0,122.0 381.1,136.4 381.3,141.3 381.4,119.6 381.5,132.2 381.7,145.8 381.8,125.2 381.9,120.1 382.1,122.0 382.2,142.9 382.3,132.9 382.5,101.8 382.6,136.0 382.7,128.9 382.9,86.8 383.0,118.1 383.1,131.7 383.3,154.8 383.4,118.8 383.5,146.0 383.7,124.2 383.8,137.7 384.0,150.6 384.1,97.4 384.2,125.6 384.4,109.2 384.5,112.1 384.6,135.7 384.8,174.4 384.9,129.7 385.0,108.6 385.2,117.1 385.3,129.7 385.4,97.5 385.6,115.7 385.7,116.7 385.8,136.6 386.0,117.5 386.1,147.5 386.2,116.7 386.4,139.0 386.5,121.1 386.6,128.5 386.8,120.4 386.9,118.4 387.0,125.0 387.2,125.0 387.3,148.0 387.4,154.6 387.6,104.0 387.7,115.0 387.8,147.9 388.0,93.7 388.1,135.6 388.2,116.1 388.4,117.5 388.5,122.6 388.6,114.6 388.8,146.3 388.9,124.9 389.0,128.4 389.2,123.0 389.3,128.8 389.4,134.6 389.6,136.1 389.7,110.3 389.8,138.0 390.0,118.7 390.1,118.9 390.2,126.1 390.4,117.7 390.5,115.9 390.6,133.1 390.8,119.2 390.9,94.1 391.0,141.7 391.2,129.4 391.3,136.9 391.5,92.9 391.6,147.1 391.7,124.6 391.9,109.8 392.0,138.6 392.1,126.9 392.3,136.2 392.4,146.2 392.5,126.0 392.7,116.9 392.8,131.2 392.9,122.2 393.1,113.9 393.2,105.8 393.3,144.6 393.5,115.0 393.6,134.8 393.7,155.1 393.9,137.4 394.0,114.7 394.1,120.1 394.3,142.5 394.4,99.4 394.5,118.6 394.7,126.1 394.8,133.7 394.9,118.4 395.1,131.3 395.2,107.0 395.3,120.1 395.5,115.3 395.6,130.1 395.7,148.8 395.9,116.7 396.0,141.3 396.1,126.9 396.3,125.5 396.4,137.8 396.5,111.1 396.7,148.1 396.8,101.5 396.9,134.7 397.1,109.9 397.2,104.7 397.3,139.1 397.5,137.1 397.6,110.4 397.7,122.4 397.9,124.1 398.0,154.6 398.1,151.6 398.3,116.9 398.4,102.6 398.5,136.8 398.7,139.2 398.8,122.1 398.9,118.1 399.1,116.5 399.2,132.5 399.4,156.5 399.5,102.3 399.6,133.4 399.8,105.5 399.9,157.2 400.0,119.6 400.2,133.4 400.3,142.7 400.4,110.0 400.6,104.9 400.7,134.8 400.8,115.2 401.0,142.6 401.1,135.3 401.2,129.5 401.4,131.1 401.5,115.4 401.6,144.7 401.8,110.1 401.9,110.1 402.0,129.0 402.2,144.3 402.3,163.3 402.4,126.5 402.6,136.9 402.7,123.9 402.8,142.3 403.0,125.5 403.1,126.6 403.2,125.4 403.4,121.0 403.5,120.9 403.6,110.2 403.8,138.0 403.9,114.1 404.0,123.0 404.2,132.2 404.3,141.3 404.4,102.4 404.6,121.7 404.7,133.6 404.8,124.2 405.0,125.3 405.1,133.7 405.2,147.2 405.4,122.9 405.5,127.9 405.6,129.8 405.8,109.7 405.9,146.0 406.0,140.4 406.2,122.7 406.3,112.1 406.4,115.5 406.6,113.7 406.7,160.1 406.9,117.4 407.0,118.6 407.1,114.4 407.3,136.1 407.4,117.1 407.5,109.2 407.7,99.7 407.8,121.1 407.9,146.1 408.1,124.1 408.2,114.8 408.3,116.9 408.5,94.7 408.6,128.1 408.7,141.1 408.9,135.0 409.0,114.5 409.1,137.6 409.3,141.4 409.4,138.1 409.5,105.7 409.7,121.1 409.8,130.1 409.9,111.4 410.1,114.0 410.2,140.2 410.3,111.6 410.5,120.9 410.6,157.4 410.7,143.5 410.9,120.6 411.0,117.0 411.1,129.2 411.3,140.5 411.4,120.7 411.5,153.6 411.7,115.8 411.8,127.0 411.9,125.0 412.1,134.9 412.2,111.5 412.3,161.4 412.5,138.3 412.6,115.3 412.7,135.6 412.9,101.3 413.0,117.7 413.1,136.5 413.3,106.8 413.4,125.7 413.5,115.0 413.7,134.0 413.8,133.7 413.9,113.0 414.1,122.6 414.2,136.1 414.4,138.0 414.5,113.8 414.6,96.2 414.8,137.3 414.9,113.2 415.0,164.6 415.2,145.8 415.3,113.2 415.4,98.8 415.6,122.9 415.7,115.2 415.8,119.8 416.0,107.9 416.1,141.0 416.2,113.7 416.4,130.6 416.5,129.2 416.6,123.9 416.8,127.0 416.9,135.9 417.0,127.8 417.2,138.7 417.3,100.3 417.4,112.7 417.6,130.3 417.7,98.6 417.8,103.4 418.0,116.0 418.1,132.2 418.2,119.7 418.4,114.7 418.5,101.8 418.6,126.6 418.8,132.7 418.9,87.5 419.0,101.8 419.2,118.8 419.3,138.3 419.4,116.1 419.6,106.1 419.7,111.8 419.8,110.8 420.0,123.1 420.1,105.8 420.2,133.3 420.4,130.7 420.5,131.7 420.6,134.0 420.8,84.6 420.9,150.6 421.0,120.1 421.2,139.5 421.3,143.6 421.4,122.3 421.6,148.7 421.7,125.4 421.8,87.7 422.0,125.8 422.1,116.7 422.3,137.5 422.4,116.4 422.5,147.7 422.7,121.1 422.8,126.2 422.9,89.8 423.1,125.6 423.2,130.1 423.3,133.3 423.5,143.5 423.6,112.3 423.7,101.5 423.9,130.4 424.0,113.3 424.1,130.3 424.3,118.3 424.4,117.4 424.5,147.5 424.7,137.0 424.8,109.8 424.9,155.1 425.1,124.7 425.2,130.2 425.3,139.6 425.5,124.0 425.6,119.9 425.7,116.3 425.9,165.1 426.0,98.1 426.1,132.5 426.3,108.3 426.4,126.8 426.5,134.2 426.7,126.0 426.8,85.1 426.9,100.0 427.1,130.5 427.2,121.4 427.3,107.1 427.5,115.7 427.6,123.6 427.7,128.0 427.9,142.2 428.0,113.0 428.1,107.4 428.3,89.4 428.4,133.9 428.5,114.7 428.7,125.7 428.8,105.1 428.9,126.7 429.1,135.6 429.2,152.3 429.3,113.8 429.5,122.7 429.6,107.3 429.8,134.1 429.9,85.3 430.0,136.6 430.2,117.1 430.3,118.6 430.4,107.6 430.6,128.0 430.7,140.1 430.8,141.2 431.0,112.3 431.1,123.7 431.2,119.9 431.4,138.5 431.5,123.3 431.6,122.1 431.8,115.7 431.9,149.0 432.0,137.9 432.2,98.0 432.3,132.0 432.4,127.1 432.6,132.1 432.7,149.7 432.8,143.0 433.0,119.8 433.1,136.5 433.2,93.3 433.4,149.7 433.5,156.8 433.6,132.0 433.8,145.1 433.9,103.7 434.0,132.6 434.2,117.6 434.3,148.5 434.4,115.3 434.6,115.7 434.7,106.1 434.8,122.4 435.0,117.7 435.1,123.3 435.2,111.2 435.4,132.6 435.5,117.3 435.6,135.1 435.8,114.7 435.9,130.5 436.0,136.4 436.2,136.9 436.3,102.5 436.4,151.0 436.6,149.8 436.7,115.9 436.8,142.1 437.0,133.7 437.1,134.1 437.3,89.8 437.4,137.1 437.5,137.9 437.7,132.6 437.8,122.6 437.9,118.3 438.1,149.9 438.2,119.2 438.3,95.1 438.5,155.0 438.6,117.2 438.7,114.1 438.9,123.9 439.0,129.5 439.1,164.1 439.3,107.2 439.4,131.6 439.5,129.7 439.7,106.8 439.8,163.9 439.9,127.5 440.1,116.9 440.2,114.9 440.3,116.7 440.5,175.0 440.6,121.9 440.7,110.1 440.9,114.1 441.0,150.1"/>
<line x1="477" y1="32.3" x2="901" y2="32.3" stroke="#959595" stroke-width="1.7"/>
<text x="473.5" y="35.199999999999996" text-anchor="end" font-size="10" fill="#1e1e1e">10</text>
<line x1="477" y1="74.0" x2="901" y2="74.0" stroke="#959595" stroke-width="1.7"/>
<text x="473.5" y="76.9" text-anchor="end" font-size="10" fill="#1e1e1e">8</text>
<line x1="477" y1="115.7" x2="901" y2="115.7" stroke="#959595" stroke-width="1.7"/>
<text x="473.5" y="118.60000000000001" text-anchor="end" font-size="10" fill="#1e1e1e">6</text>
<line x1="477" y1="157.4" x2="901" y2="157.4" stroke="#959595" stroke-width="1.7"/>
<text x="473.5" y="160.3" text-anchor="end" font-size="10" fill="#1e1e1e">4</text>
<line x1="477" y1="199.1" x2="901" y2="199.1" stroke="#959595" stroke-width="1.7"/>
<text x="473.5" y="202.0" text-anchor="end" font-size="10" fill="#1e1e1e">2</text>
<line x1="482.1" y1="32.3" x2="482.1" y2="202.1" stroke="#8a8a8a" stroke-width="1.2"/>
<line x1="482.1" y1="199.1" x2="901" y2="199.1" stroke="#8a8a8a" stroke-width="1.3"/>
<line x1="482.1" y1="199.1" x2="482.1" y2="202.1" stroke="#8a8a8a" stroke-width="1"/>
<text x="482.1" y="214.3" text-anchor="middle" font-size="9.3" fill="#1e1e1e">0</text>
<line x1="619.7" y1="199.1" x2="619.7" y2="202.1" stroke="#8a8a8a" stroke-width="1"/>
<text x="619.7" y="214.3" text-anchor="middle" font-size="9.3" fill="#1e1e1e">1,000</text>
<line x1="757.3" y1="199.1" x2="757.3" y2="202.1" stroke="#8a8a8a" stroke-width="1"/>
<text x="757.3" y="214.3" text-anchor="middle" font-size="9.3" fill="#1e1e1e">2,000</text>
<line x1="894.1" y1="199.1" x2="894.1" y2="202.1" stroke="#8a8a8a" stroke-width="1"/>
<text x="894.1" y="214.3" text-anchor="middle" font-size="9.3" fill="#1e1e1e">3,000</text>
<polyline fill="none" stroke="#4f81bd" stroke-width="1.9" stroke-linejoin="bevel" points="482.1,156.6 482.2,162.9 482.4,162.0 482.5,176.5 482.6,140.2 482.8,147.2 482.9,161.2 483.1,151.0 483.2,155.8 483.3,163.1 483.5,148.9 483.6,161.0 483.7,178.3 483.9,164.9 484.0,154.0 484.2,159.1 484.3,153.1 484.4,163.4 484.6,157.1 484.7,165.7 484.8,150.3 485.0,156.5 485.1,155.2 485.3,154.4 485.4,166.6 485.5,150.8 485.7,137.1 485.8,171.2 485.9,171.8 486.1,170.3 486.2,150.2 486.4,157.0 486.5,147.8 486.6,151.4 486.8,156.2 486.9,155.6 487.0,159.6 487.2,149.8 487.3,167.4 487.5,161.8 487.6,155.9 487.7,139.9 487.9,164.6 488.0,167.0 488.1,162.9 488.3,148.8 488.4,160.1 488.6,145.0 488.7,172.6 488.8,147.1 489.0,148.1 489.1,169.5 489.2,156.6 489.4,146.2 489.5,157.2 489.7,148.4 489.8,133.1 489.9,155.5 490.1,160.4 490.2,164.5 490.3,151.9 490.5,159.7 490.6,159.6 490.7,158.9 490.9,151.9 491.0,166.8 491.2,170.2 491.3,126.3 491.4,146.4 491.6,157.3 491.7,126.1 491.8,158.1 492.0,164.3 492.1,153.5 492.3,158.7 492.4,168.2 492.5,165.4 492.7,140.1 492.8,154.7 492.9,154.1 493.1,160.3 493.2,163.8 493.4,149.4 493.5,158.8 493.6,164.4 493.8,159.1 493.9,165.5 494.0,156.2 494.2,147.0 494.3,165.0 494.5,143.8 494.6,163.7 494.7,156.6 494.9,165.0 495.0,159.9 495.1,157.5 495.3,161.7 495.4,164.0 495.6,163.7 495.7,164.9 495.8,170.5 496.0,160.3 496.1,154.2 496.2,149.3 496.4,151.9 496.5,132.0 496.7,155.0 496.8,161.8 496.9,138.9 497.1,166.6 497.2,148.6 497.3,165.8 497.5,154.6 497.6,173.0 497.8,149.3 497.9,159.3 498.0,165.9 498.2,141.0 498.3,150.6 498.4,157.5 498.6,164.2 498.7,158.3 498.9,159.4 499.0,151.1 499.1,150.4 499.3,163.6 499.4,162.6 499.5,162.5 499.7,168.8 499.8,163.0 499.9,158.8 500.1,151.4 500.2,145.0 500.4,164.8 500.5,152.8 500.6,161.8 500.8,136.6 500.9,158.4 501.0,153.3 501.2,165.8 501.3,164.8 501.5,156.2 501.6,161.3 501.7,154.7 501.9,170.5 502.0,151.8 502.1,165.6 502.3,140.7 502.4,160.5 502.6,147.4 502.7,169.3 502.8,154.0 503.0,165.5 503.1,162.2 503.2,157.7 503.4,160.7 503.5,155.6 503.7,150.9 503.8,151.9 503.9,158.8 504.1,169.0 504.2,164.8 504.3,159.7 504.5,174.2 504.6,150.9 504.8,160.1 504.9,160.2 505.0,148.9 505.2,151.7 505.3,156.0 505.4,166.3 505.6,155.2 505.7,154.8 505.9,165.4 506.0,148.0 506.1,153.3 506.3,173.2 506.4,156.9 506.5,168.4 506.7,147.0 506.8,150.4 507.0,167.1 507.1,165.5 507.2,157.1 507.4,160.1 507.5,142.9 507.6,151.1 507.8,160.6 507.9,152.7 508.0,173.7 508.2,155.2 508.3,149.8 508.5,159.6 508.6,66.6 508.7,152.8 508.9,138.1 509.0,156.2 509.1,167.4 509.3,143.8 509.4,172.8 509.6,153.5 509.7,163.1 509.8,149.3 510.0,125.1 510.1,145.2 510.2,155.4 510.4,171.8 510.5,173.4 510.7,160.9 510.8,145.5 510.9,157.0 511.1,157.6 511.2,160.3 511.3,151.2 511.5,154.7 511.6,155.7 511.8,166.4 511.9,146.7 512.0,144.8 512.2,168.8 512.3,134.2 512.4,151.4 512.6,162.4 512.7,172.9 512.9,152.0 513.0,152.9 513.1,163.2 513.3,172.1 513.4,147.2 513.5,163.1 513.7,162.1 513.8,130.4 514.0,136.1 514.1,148.8 514.2,161.9 514.4,151.8 514.5,175.1 514.6,156.9 514.8,164.3 514.9,168.4 515.1,170.5 515.2,153.0 515.3,157.0 515.5,156.4 515.6,149.8 515.7,165.0 515.9,168.0 516.0,171.8 516.2,160.7 516.3,150.6 516.4,159.1 516.6,151.8 516.7,167.5 516.8,161.8 517.0,164.2 517.1,167.9 517.2,138.9 517.4,149.6 517.5,164.1 517.7,164.1 517.8,177.1 517.9,169.2 518.1,153.6 518.2,168.1 518.3,160.8 518.5,166.1 518.6,161.7 518.8,168.3 518.9,170.1 519.0,165.6 519.2,163.3 519.3,160.0 519.4,156.8 519.6,142.3 519.7,149.7 519.9,159.6 520.0,150.5 520.1,163.2 520.3,143.0 520.4,152.2 520.5,168.3 520.7,150.1 520.8,149.5 521.0,176.2 521.1,163.5 521.2,161.3 521.4,172.1 521.5,166.0 521.6,165.1 521.8,152.4 521.9,154.3 522.1,129.5 522.2,160.4 522.3,145.8 522.5,156.2 522.6,154.4 522.7,166.4 522.9,171.7 523.0,163.3 523.2,149.6 523.3,141.0 523.4,151.1 523.6,152.1 523.7,163.7 523.8,141.4 524.0,143.4 524.1,161.2 524.3,157.0 524.4,164.9 524.5,142.0 524.7,152.8 524.8,157.4 524.9,152.7 525.1,152.4 525.2,160.0 525.3,166.6 525.5,166.9 525.6,170.1 525.8,152.2 525.9,133.4 526.0,169.8 526.2,155.1 526.3,152.6 526.4,164.6 526.6,154.5 526.7,165.4 526.9,144.6 527.0,161.4 527.1,155.3 527.3,149.8 527.4,159.9 527.5,170.2 527.7,160.7 527.8,148.9 528.0,156.8 528.1,154.0 528.2,165.0 528.4,154.8 528.5,149.2 528.6,155.7 528.8,136.6 528.9,157.9 529.1,164.7 529.2,168.9 529.3,144.9 529.5,156.5 529.6,146.3 529.7,151.8 529.9,139.8 530.0,143.7 530.2,159.3 530.3,153.5 530.4,145.5 530.6,166.1 530.7,141.6 530.8,144.2 531.0,146.6 531.1,157.7 531.3,153.2 531.4,165.2 531.5,155.4 531.7,161.0 531.8,155.2 531.9,160.2 532.1,153.3 532.2,144.5 532.4,166.6 532.5,147.1 532.6,171.3 532.8,172.3 532.9,156.9 533.0,155.8 533.2,151.8 533.3,168.9 533.4,156.4 533.6,154.7 533.7,143.6 533.9,156.8 534.0,150.9 534.1,164.0 534.3,157.5 534.4,159.7 534.5,149.2 534.7,164.1 534.8,162.9 535.0,150.4 535.1,137.8 535.2,152.3 535.4,153.1 535.5,158.9 535.6,145.4 535.8,150.8 535.9,138.4 536.1,152.9 536.2,163.8 536.3,160.8 536.5,164.1 536.6,166.1 536.7,143.5 536.9,148.2 537.0,166.0 537.2,137.9 537.3,153.7 537.4,163.9 537.6,152.4 537.7,156.6 537.8,162.5 538.0,171.0 538.1,155.6 538.3,153.3 538.4,174.9 538.5,150.8 538.7,150.2 538.8,160.1 538.9,155.0 539.1,158.4 539.2,163.0 539.4,159.1 539.5,142.7 539.6,167.7 539.8,153.8 539.9,154.3 540.0,162.0 540.2,159.8 540.3,167.3 540.5,163.2 540.6,155.9 540.7,153.0 540.9,163.6 541.0,128.5 541.1,161.0 541.3,154.9 541.4,158.1 541.6,159.6 541.7,143.4 541.8,160.3 542.0,143.1 542.1,145.1 542.2,164.8 542.4,146.2 542.5,161.7 542.6,128.6 542.8,159.5 542.9,164.1 543.1,171.0 543.2,166.8 543.3,161.2 543.5,164.6 543.6,166.3 543.7,162.2 543.9,158.1 544.0,141.9 544.2,169.7 544.3,161.1 544.4,164.3 544.6,168.4 544.7,166.7 544.8,164.0 545.0,149.6 545.1,158.1 545.3,161.0 545.4,150.7 545.5,153.8 545.7,158.4 545.8,152.9 545.9,163.4 546.1,150.5 546.2,152.1 546.4,120.1 546.5,166.4 546.6,141.3 546.8,155.6 546.9,128.9 547.0,162.1 547.2,148.4 547.3,160.3 547.5,154.2 547.6,148.6 547.7,163.3 547.9,157.4 548.0,155.1 548.1,155.5 548.3,151.0 548.4,146.7 548.6,148.7 548.7,154.2 548.8,159.6 549.0,165.8 549.1,162.8 549.2,161.1 549.4,150.1 549.5,159.7 549.7,166.7 549.8,150.7 549.9,163.4 550.1,163.1 550.2,158.6 550.3,152.2 550.5,174.5 550.6,165.8 550.7,155.0 550.9,159.7 551.0,163.8 551.2,161.2 551.3,142.9 551.4,160.5 551.6,149.9 551.7,149.1 551.8,160.5 552.0,152.5 552.1,160.5 552.3,161.8 552.4,165.9 552.5,148.3 552.7,160.1 552.8,161.4 552.9,165.9 553.1,138.4 553.2,149.7 553.4,157.8 553.5,162.6 553.6,168.9 553.8,154.0 553.9,177.7 554.0,168.1 554.2,145.4 554.3,149.4 554.5,164.7 554.6,161.5 554.7,160.4 554.9,155.3 555.0,158.0 555.1,169.8 555.3,142.2 555.4,153.9 555.6,144.5 555.7,144.6 555.8,158.7 556.0,153.7 556.1,149.9 556.2,149.6 556.4,158.3 556.5,162.1 556.7,156.5 556.8,163.6 556.9,161.7 557.1,172.5 557.2,156.1 557.3,165.5 557.5,161.7 557.6,157.5 557.8,154.1 557.9,137.8 558.0,155.1 558.2,168.4 558.3,155.8 558.4,162.1 558.6,153.3 558.7,162.9 558.9,163.0 559.0,161.4 559.1,162.4 559.3,171.4 559.4,162.8 559.5,157.2 559.7,145.5 559.8,159.7 559.9,160.4 560.1,151.8 560.2,152.2 560.4,141.3 560.5,151.8 560.6,157.4 560.8,144.1 560.9,142.1 561.0,161.4 561.2,155.9 561.3,170.6 561.5,160.5 561.6,164.8 561.7,159.3 561.9,161.6 562.0,158.9 562.1,158.3 562.3,152.9 562.4,155.3 562.6,162.3 562.7,168.0 562.8,145.4 563.0,143.5 563.1,161.4 563.2,152.3 563.4,169.7 563.5,177.2 563.7,159.9 563.8,143.0 563.9,166.3 564.1,164.6 564.2,141.6 564.3,172.3 564.5,151.6 564.6,153.1 564.8,159.5 564.9,156.0 565.0,130.2 565.2,167.1 565.3,160.5 565.4,159.9 565.6,163.7 565.7,168.7 565.9,142.0 566.0,155.8 566.1,171.7 566.3,163.9 566.4,154.1 566.5,154.2 566.7,169.6 566.8,158.8 567.0,155.6 567.1,154.4 567.2,154.4 567.4,172.3 567.5,139.4 567.6,156.2 567.8,139.9 567.9,130.6 568.0,159.5 568.2,168.2 568.3,149.9 568.5,159.8 568.6,162.1 568.7,166.8 568.9,141.3 569.0,162.1 569.1,169.6 569.3,162.1 569.4,167.8 569.6,156.9 569.7,162.0 569.8,167.1 570.0,152.7 570.1,163.9 570.2,151.5 570.4,146.1 570.5,161.5 570.7,163.9 570.8,156.6 570.9,149.9 571.1,158.4 571.2,157.1 571.3,158.6 571.5,155.6 571.6,152.6 571.8,164.5 571.9,162.7 572.0,158.1 572.2,164.3 572.3,157.4 572.4,153.6 572.6,158.8 572.7,163.8 572.9,165.2 573.0,141.0 573.1,150.3 573.3,167.9 573.4,165.8 573.5,139.7 573.7,143.7 573.8,157.5 574.0,147.4 574.1,170.6 574.2,158.6 574.4,151.7 574.5,173.2 574.6,165.3 574.8,151.3 574.9,147.7 575.1,163.8 575.2,156.0 575.3,142.7 575.5,125.4 575.6,169.5 575.7,159.2 575.9,162.1 576.0,145.9 576.1,157.2 576.3,165.4 576.4,133.5 576.6,162.9 576.7,154.2 576.8,152.3 577.0,151.2 577.1,157.1 577.2,130.0 577.4,159.2 577.5,170.1 577.7,160.6 577.8,160.4 577.9,160.2 578.1,157.4 578.2,164.0 578.3,145.6 578.5,143.0 578.6,175.3 578.8,158.6 578.9,164.7 579.0,177.7 579.2,154.9 579.3,163.9 579.4,162.0 579.6,164.2 579.7,148.2 579.9,146.6 580.0,156.1 580.1,152.1 580.3,159.6 580.4,157.3 580.5,164.9 580.7,158.3 580.8,164.6 581.0,155.1 581.1,150.7 581.2,155.6 581.4,178.7 581.5,130.9 581.6,174.6 581.8,158.4 581.9,163.4 582.1,162.5 582.2,169.5 582.3,158.0 582.5,160.7 582.6,163.9 582.7,160.7 582.9,163.5 583.0,176.0 583.2,148.0 583.3,161.0 583.4,166.3 583.6,155.5 583.7,164.0 583.8,174.8 584.0,149.8 584.1,171.5 584.3,160.2 584.4,157.1 584.5,144.9 584.7,146.6 584.8,156.6 584.9,164.6 585.1,161.7 585.2,147.6 585.3,140.0 585.5,153.0 585.6,163.6 585.8,148.1 585.9,161.3 586.0,161.5 586.2,160.4 586.3,152.4 586.4,155.4 586.6,148.4 586.7,145.2 586.9,153.1 587.0,175.3 587.1,171.2 587.3,156.3 587.4,158.3 587.5,135.5 587.7,158.0 587.8,159.1 588.0,148.7 588.1,147.5 588.2,159.8 588.4,153.3 588.5,167.0 588.6,165.5 588.8,145.6 588.9,168.9 589.1,148.7 589.2,151.2 589.3,150.3 589.5,148.8 589.6,152.3 589.7,173.8 589.9,165.8 590.0,162.6 590.2,148.7 590.3,166.7 590.4,163.3 590.6,160.4 590.7,144.3 590.8,168.8 591.0,168.1 591.1,151.3 591.3,173.3 591.4,154.1 591.5,161.0 591.7,169.7 591.8,160.7 591.9,165.4 592.1,155.5 592.2,153.6 592.4,142.2 592.5,157.0 592.6,156.0 592.8,116.1 592.9,157.1 593.0,146.8 593.2,171.8 593.3,150.7 593.4,161.4 593.6,156.1 593.7,153.8 593.9,148.7 594.0,154.6 594.1,160.1 594.3,153.8 594.4,156.6 594.5,158.5 594.7,154.8 594.8,148.3 595.0,155.3 595.1,155.2 595.2,167.1 595.4,157.6 595.5,171.0 595.6,149.7 595.8,164.3 595.9,143.8 596.1,128.9 596.2,159.9 596.3,143.4 596.5,152.7 596.6,161.2 596.7,163.5 596.9,151.1 597.0,142.6 597.2,153.1 597.3,168.4 597.4,165.0 597.6,158.3 597.7,143.0 597.8,153.7 598.0,153.3 598.1,144.5 598.3,158.1 598.4,157.0 598.5,157.8 598.7,170.1 598.8,151.9 598.9,152.4 599.1,146.8 599.2,165.9 599.4,163.0 599.5,147.2 599.6,153.1 599.8,142.5 599.9,163.3 600.0,154.2 600.2,161.8 600.3,153.2 600.5,160.2 600.6,151.0 600.7,145.6 600.9,149.7 601.0,170.1 601.1,147.0 601.3,151.8 601.4,164.6 601.6,163.4 601.7,155.9 601.8,150.6 602.0,159.9 602.1,168.9 602.2,153.4 602.4,154.4 602.5,130.4 602.6,166.5 602.8,129.3 602.9,138.4 603.1,153.2 603.2,139.3 603.3,155.0 603.5,146.6 603.6,162.2 603.7,155.2 603.9,164.4 604.0,168.4 604.2,158.3 604.3,161.5 604.4,150.5 604.6,143.4 604.7,157.4 604.8,155.3 605.0,154.2 605.1,169.1 605.3,153.4 605.4,155.8 605.5,156.3 605.7,165.0 605.8,171.2 605.9,158.1 606.1,153.0 606.2,142.8 606.4,145.0 606.5,141.6 606.6,152.6 606.8,144.8 606.9,157.8 607.0,150.1 607.2,147.1 607.3,128.5 607.5,153.8 607.6,166.4 607.7,142.5 607.9,162.7 608.0,156.6 608.1,158.6 608.3,163.6 608.4,142.9 608.6,150.5 608.7,161.4 608.8,155.5 609.0,159.9 609.1,150.4 609.2,159.5 609.4,162.7 609.5,161.8 609.7,160.1 609.8,153.6 609.9,164.0 610.1,157.1 610.2,152.2 610.3,131.9 610.5,148.2 610.6,175.4 610.7,160.8 610.9,159.9 611.0,153.5 611.2,140.8 611.3,149.5 611.4,173.8 611.6,153.7 611.7,155.5 611.8,152.7 612.0,143.2 612.1,165.6 612.3,145.9 612.4,169.7 612.5,156.1 612.7,153.1 612.8,132.9 612.9,162.6 613.1,170.0 613.2,150.2 613.4,162.4 613.5,141.2 613.6,162.8 613.8,164.2 613.9,144.7 614.0,156.1 614.2,147.3 614.3,168.4 614.5,140.4 614.6,162.0 614.7,149.2 614.9,165.4 615.0,169.4 615.1,159.3 615.3,155.4 615.4,141.4 615.6,153.9 615.7,150.4 615.8,151.0 616.0,97.7 616.1,164.1 616.2,145.0 616.4,158.6 616.5,154.9 616.7,162.0 616.8,146.1 616.9,167.6 617.1,168.1 617.2,159.2 617.3,166.9 617.5,150.8 617.6,148.7 617.8,163.9 617.9,150.1 618.0,163.2 618.2,158.0 618.3,157.6 618.4,138.6 618.6,157.6 618.7,165.3 618.9,165.4 619.0,146.0 619.1,171.0 619.3,161.8 619.4,161.1 619.5,176.0 619.7,161.9 619.8,148.2 619.9,155.8 620.1,165.5 620.2,151.4 620.4,153.2 620.5,137.2 620.6,164.3 620.8,161.4 620.9,157.6 621.0,159.2 621.2,157.2 621.3,159.0 621.5,164.0 621.6,170.8 621.7,162.9 621.9,169.4 622.0,166.9 622.1,185.3 622.3,153.5 622.4,150.1 622.6,166.8 622.7,155.4 622.8,150.7 623.0,158.7 623.1,171.3 623.2,174.7 623.4,150.9 623.5,149.7 623.7,155.9 623.8,167.1 623.9,144.1 624.1,146.7 624.2,158.9 624.3,160.4 624.5,173.6 624.6,151.5 624.8,171.3 624.9,152.2 625.0,151.7 625.2,157.7 625.3,142.9 625.4,161.4 625.6,153.1 625.7,151.1 625.9,156.4 626.0,162.2 626.1,146.7 626.3,154.7 626.4,160.3 626.5,160.0 626.7,157.4 626.8,134.9 627.0,157.6 627.1,160.7 627.2,167.4 627.4,168.6 627.5,173.3 627.6,156.5 627.8,158.4 627.9,167.2 628.0,170.6 628.2,161.5 628.3,163.2 628.5,169.5 628.6,156.0 628.7,157.5 628.9,159.2 629.0,151.5 629.1,164.3 629.3,145.5 629.4,167.2 629.6,154.0 629.7,152.8 629.8,161.0 630.0,155.5 630.1,169.1 630.2,170.7 630.4,160.5 630.5,164.9 630.7,153.2 630.8,158.5 630.9,153.0 631.1,155.8 631.2,156.9 631.3,157.9 631.5,162.0 631.6,162.8 631.8,138.0 631.9,172.5 632.0,160.4 632.2,149.2 632.3,154.9 632.4,144.9 632.6,153.7 632.7,169.0 632.9,161.7 633.0,170.1 633.1,149.4 633.3,144.6 633.4,162.6 633.5,153.7 633.7,162.3 633.8,170.3 634.0,162.6 634.1,171.3 634.2,163.6 634.4,156.9 634.5,152.0 634.6,146.1 634.8,161.6 634.9,156.6 635.1,154.8 635.2,153.6 635.3,177.3 635.5,165.2 635.6,151.2 635.7,167.8 635.9,156.4 636.0,150.8 636.1,173.3 636.3,160.4 636.4,156.5 636.6,158.6 636.7,170.8 636.8,155.5 637.0,163.5 637.1,150.9 637.2,154.7 637.4,163.4 637.5,157.1 637.7,164.6 637.8,112.1 637.9,171.2 638.1,160.8 638.2,151.2 638.3,157.7 638.5,158.9 638.6,164.1 638.8,163.2 638.9,151.8 639.0,170.6 639.2,137.8 639.3,159.3 639.4,136.5 639.6,147.5 639.7,162.3 639.9,151.9 640.0,156.4 640.1,154.6 640.3,151.4 640.4,163.5 640.5,164.1 640.7,162.4 640.8,169.7 641.0,161.1 641.1,156.8 641.2,156.6 641.4,157.1 641.5,162.3 641.6,151.5 641.8,174.3 641.9,162.2 642.1,161.7 642.2,150.5 642.3,152.7 642.5,151.5 642.6,158.8 642.7,150.0 642.9,167.1 643.0,158.3 643.2,174.7 643.3,142.1 643.4,143.4 643.6,164.0 643.7,166.0 643.8,174.6 644.0,170.9 644.1,157.9 644.3,160.3 644.4,170.5 644.5,163.1 644.7,164.4 644.8,154.6 644.9,152.3 645.1,160.7 645.2,157.8 645.3,158.9 645.5,174.5 645.6,157.2 645.8,159.3 645.9,151.8 646.0,172.8 646.2,151.7 646.3,164.1 646.4,156.3 646.6,147.1 646.7,170.3 646.9,169.1 647.0,149.3 647.1,167.9 647.3,166.5 647.4,153.1 647.5,160.4 647.7,151.4 647.8,155.9 648.0,158.7 648.1,149.3 648.2,176.7 648.4,159.3 648.5,144.1 648.6,147.7 648.8,157.5 648.9,154.3 649.1,166.1 649.2,163.6 649.3,155.9 649.5,176.6 649.6,145.9 649.7,168.7 649.9,160.9 650.0,179.4 650.2,159.7 650.3,147.2 650.4,168.0 650.6,150.4 650.7,163.3 650.8,161.0 651.0,148.8 651.1,160.7 651.3,152.0 651.4,157.2 651.5,159.7 651.7,161.3 651.8,171.5 651.9,164.4 652.1,156.7 652.2,156.3 652.4,169.9 652.5,148.7 652.6,152.8 652.8,168.5 652.9,166.6 653.0,153.4 653.2,171.6 653.3,164.2 653.4,158.5 653.6,159.1 653.7,158.5 653.9,154.4 654.0,164.6 654.1,162.1 654.3,137.2 654.4,169.1 654.5,161.8 654.7,157.0 654.8,163.4 655.0,114.3 655.1,157.3 655.2,150.9 655.4,176.1 655.5,146.6 655.6,147.0 655.8,164.3 655.9,145.3 656.1,155.6 656.2,149.2 656.3,139.9 656.5,157.1 656.6,166.3 656.7,158.0 656.9,168.2 657.0,164.6 657.2,164.3 657.3,163.9 657.4,146.8 657.6,150.1 657.7,165.3 657.8,147.0 658.0,170.9 658.1,163.3 658.3,159.0 658.4,146.3 658.5,151.0 658.7,153.6 658.8,145.1 658.9,151.1 659.1,144.5 659.2,164.3 659.4,171.0 659.5,161.3 659.6,149.9 659.8,155.4 659.9,149.4 660.0,151.1 660.2,153.0 660.3,150.0 660.5,163.8 660.6,147.3 660.7,166.1 660.9,158.8 661.0,169.1 661.1,153.1 661.3,170.0 661.4,144.0 661.6,168.5 661.7,155.4 661.8,159.0 662.0,165.1 662.1,145.7 662.2,161.5 662.4,143.4 662.5,166.2 662.6,164.5 662.8,173.0 662.9,152.6 663.1,149.1 663.2,155.7 663.3,159.1 663.5,165.4 663.6,133.3 663.7,150.7 663.9,171.9 664.0,160.4 664.2,176.2 664.3,142.1 664.4,137.6 664.6,143.3 664.7,158.1 664.8,126.1 665.0,168.9 665.1,152.8 665.3,164.0 665.4,160.9 665.5,163.1 665.7,160.3 665.8,149.1 665.9,140.7 666.1,156.2 666.2,157.4 666.4,166.7 666.5,167.6 666.6,166.3 666.8,149.2 666.9,155.3 667.0,148.3 667.2,153.7 667.3,161.0 667.5,167.6 667.6,160.7 667.7,169.0 667.9,137.1 668.0,155.1 668.1,160.7 668.3,137.1 668.4,160.8 668.6,152.3 668.7,158.9 668.8,154.1 669.0,160.6 669.1,152.8 669.2,143.3 669.4,167.6 669.5,174.1 669.7,144.1 669.8,155.8 669.9,149.0 670.1,159.8 670.2,141.9 670.3,138.8 670.5,166.9 670.6,150.9 670.7,162.5 670.9,170.1 671.0,159.9 671.2,151.9 671.3,168.3 671.4,167.7 671.6,145.2 671.7,157.0 671.8,107.2 672.0,166.8 672.1,163.0 672.3,156.3 672.4,155.7 672.5,156.1 672.7,141.5 672.8,156.0 672.9,169.7 673.1,164.8 673.2,158.0 673.4,145.1 673.5,163.4 673.6,160.9 673.8,157.8 673.9,163.5 674.0,164.5 674.2,159.7 674.3,148.1 674.5,153.2 674.6,160.1 674.7,153.9 674.9,168.0 675.0,148.1 675.1,150.7 675.3,154.9 675.4,170.4 675.6,136.8 675.7,175.5 675.8,165.8 676.0,165.2 676.1,124.7 676.2,169.5 676.4,155.5 676.5,159.0 676.7,160.1 676.8,149.5 676.9,143.6 677.1,154.0 677.2,160.0 677.3,174.6 677.5,143.1 677.6,160.2 677.8,171.9 677.9,156.2 678.0,143.3 678.2,158.8 678.3,167.1 678.4,134.2 678.6,151.8 678.7,154.3 678.8,147.8 679.0,173.8 679.1,158.1 679.3,158.9 679.4,133.9 679.5,162.3 679.7,162.1 679.8,168.6 679.9,164.3 680.1,159.1 680.2,154.9 680.4,159.1 680.5,136.8 680.6,152.8 680.8,151.4 680.9,143.9 681.0,151.4 681.2,161.8 681.3,169.7 681.5,154.1 681.6,164.4 681.7,144.4 681.9,163.8 682.0,174.1 682.1,157.0 682.3,147.0 682.4,159.2 682.6,155.7 682.7,156.0 682.8,140.0 683.0,154.6 683.1,157.7 683.2,162.7 683.4,170.4 683.5,143.5 683.7,146.3 683.8,165.4 683.9,151.8 684.1,154.5 684.2,160.9 684.3,160.3 684.5,150.5 684.6,167.5 684.8,162.1 684.9,158.3 685.0,157.7 685.2,159.5 685.3,155.6 685.4,152.7 685.6,165.2 685.7,156.9 685.9,162.2 686.0,142.7 686.1,169.0 686.3,159.8 686.4,151.1 686.5,160.3 686.7,160.7 686.8,162.4 687.0,154.9 687.1,167.4 687.2,158.5 687.4,158.6 687.5,169.5 687.6,155.2 687.8,161.8 687.9,154.9 688.0,149.5 688.2,154.5 688.3,177.9 688.5,154.7 688.6,170.4 688.7,164.2 688.9,140.8 689.0,157.6 689.1,142.1 689.3,159.2 689.4,157.5 689.6,166.9 689.7,148.5 689.8,159.4 690.0,151.7 690.1,153.5 690.2,152.5 690.4,154.5 690.5,157.8 690.7,157.5 690.8,163.4 690.9,173.7 691.1,152.9 691.2,135.9 691.3,146.9 691.5,132.8 691.6,152.8 691.8,165.4 691.9,165.6 692.0,150.1 692.2,154.0 692.3,158.6 692.4,150.1 692.6,164.5 692.7,152.2 692.9,159.5 693.0,155.6 693.1,145.3 693.3,158.3 693.4,143.3 693.5,143.8 693.7,163.5 693.8,98.8 694.0,167.2 694.1,157.8 694.2,149.9 694.4,174.3 694.5,146.9 694.6,145.8 694.8,157.9 694.9,154.4 695.1,154.9 695.2,158.7 695.3,146.4 695.5,160.2 695.6,157.3 695.7,153.5 695.9,148.6 696.0,146.0 696.1,168.9 696.3,172.7 696.4,158.1 696.6,157.3 696.7,165.9 696.8,154.0 697.0,150.8 697.1,153.2 697.2,140.0 697.4,165.5 697.5,156.5 697.7,136.8 697.8,150.3 697.9,166.1 698.1,154.9 698.2,145.1 698.3,135.0 698.5,150.4 698.6,145.2 698.8,166.0 698.9,158.9 699.0,144.9 699.2,164.9 699.3,157.3 699.4,171.4 699.6,141.8 699.7,157.9 699.9,151.3 700.0,168.9 700.1,167.5 700.3,138.0 700.4,159.7 700.5,161.4 700.7,151.8 700.8,151.4 701.0,172.0 701.1,164.9 701.2,156.2 701.4,156.6 701.5,153.4 701.6,160.4 701.8,159.2 701.9,154.7 702.1,162.6 702.2,163.8 702.3,161.5 702.5,156.6 702.6,158.0 702.7,160.9 702.9,158.9 703.0,157.1 703.2,153.7 703.3,153.3 703.4,167.3 703.6,147.2 703.7,169.5 703.8,151.5 704.0,162.7 704.1,151.2 704.3,146.4 704.4,171.5 704.5,151.0 704.7,154.2 704.8,160.7 704.9,153.1 705.1,161.0 705.2,155.5 705.3,165.4 705.5,149.1 705.6,151.1 705.8,149.6 705.9,162.3 706.0,137.9 706.2,136.3 706.3,157.4 706.4,160.3 706.6,160.2 706.7,150.2 706.9,146.7 707.0,163.1 707.1,172.4 707.3,152.5 707.4,157.2 707.5,155.2 707.7,151.9 707.8,166.0 708.0,156.2 708.1,159.4 708.2,153.3 708.4,144.9 708.5,156.8 708.6,164.2 708.8,144.7 708.9,150.2 709.1,158.8 709.2,171.1 709.3,164.4 709.5,155.7 709.6,152.0 709.7,161.7 709.9,153.1 710.0,162.6 710.2,160.9 710.3,152.2 710.4,159.6 710.6,155.9 710.7,148.9 710.8,146.3 711.0,162.3 711.1,159.5 711.3,168.0 711.4,167.9 711.5,154.6 711.7,161.8 711.8,171.8 711.9,152.5 712.1,164.5 712.2,160.2 712.4,153.7 712.5,153.8 712.6,158.0 712.8,172.8 712.9,152.3 713.0,162.6 713.2,169.0 713.3,174.2 713.4,144.7 713.6,156.3 713.7,156.6 713.9,151.9 714.0,158.3 714.1,169.4 714.3,119.8 714.4,148.1 714.5,152.8 714.7,142.4 714.8,138.3 715.0,164.4 715.1,161.5 715.2,149.3 715.4,156.1 715.5,155.7 715.6,148.8 715.8,150.7 715.9,161.5 716.1,156.5 716.2,163.7 716.3,159.4 716.5,166.8 716.6,172.8 716.7,162.0 716.9,162.7 717.0,149.2 717.2,142.1 717.3,157.5 717.4,153.3 717.6,163.1 717.7,165.4 717.8,160.2 718.0,160.2 718.1,155.0 718.3,156.7 718.4,105.5 718.5,159.7 718.7,170.8 718.8,156.7 718.9,163.4 719.1,155.9 719.2,146.9 719.4,163.2 719.5,158.5 719.6,153.0 719.8,165.6 719.9,155.8 720.0,152.7 720.2,150.1 720.3,147.2 720.5,152.6 720.6,154.1 720.7,168.9 720.9,176.6 721.0,165.8 721.1,143.8 721.3,156.7 721.4,174.7 721.5,161.4 721.7,154.4 721.8,172.1 722.0,152.4 722.1,167.2 722.2,147.8 722.4,157.4 722.5,130.0 722.6,168.5 722.8,155.2 722.9,169.6 723.1,146.6 723.2,156.6 723.3,148.9 723.5,156.7 723.6,167.3 723.7,163.2 723.9,167.7 724.0,166.3 724.2,156.3 724.3,147.3 724.4,149.4 724.6,152.9 724.7,162.5 724.8,152.9 725.0,164.8 725.1,155.8 725.3,149.7 725.4,159.3 725.5,161.7 725.7,161.4 725.8,151.9 725.9,160.4 726.1,169.1 726.2,161.3 726.4,166.4 726.5,142.8 726.6,157.5 726.8,169.4 726.9,155.2 727.0,150.9 727.2,154.1 727.3,160.8 727.5,156.3 727.6,155.1 727.7,148.0 727.9,154.3 728.0,134.2 728.1,159.5 728.3,142.5 728.4,157.5 728.6,171.0 728.7,167.2 728.8,171.8 729.0,171.1 729.1,146.0 729.2,179.1 729.4,152.0 729.5,165.1 729.7,157.7 729.8,166.3 729.9,177.6 730.1,159.9 730.2,161.6 730.3,159.1 730.5,135.3 730.6,153.6 730.7,149.8 730.9,167.8 731.0,163.2 731.2,155.0 731.3,172.1 731.4,144.6 731.6,155.2 731.7,157.8 731.8,159.5 732.0,159.8 732.1,162.1 732.3,144.1 732.4,151.3 732.5,145.7 732.7,160.4 732.8,165.1 732.9,144.5 733.1,167.7 733.2,163.0 733.4,151.1 733.5,147.4 733.6,168.4 733.8,160.2 733.9,157.6 734.0,159.0 734.2,165.0 734.3,126.2 734.5,162.4 734.6,160.0 734.7,174.8 734.9,158.9 735.0,172.9 735.1,151.3 735.3,153.4 735.4,162.3 735.6,113.7 735.7,157.0 735.8,159.3 736.0,154.7 736.1,159.1 736.2,162.1 736.4,164.7 736.5,141.3 736.7,156.3 736.8,158.2 736.9,151.3 737.1,161.4 737.2,161.4 737.3,151.8 737.5,148.2 737.6,117.1 737.8,169.9 737.9,157.6 738.0,158.4 738.2,154.0 738.3,165.6 738.4,166.9 738.6,159.3 738.7,165.7 738.8,167.0 739.0,158.9 739.1,149.6 739.3,157.1 739.4,147.7 739.5,166.6 739.7,151.8 739.8,158.5 739.9,165.7 740.1,162.0 740.2,165.6 740.4,160.3 740.5,164.7 740.6,146.3 740.8,161.5 740.9,169.8 741.0,160.2 741.2,155.0 741.3,161.2 741.5,150.4 741.6,166.1 741.7,165.6 741.9,142.6 742.0,158.5 742.1,153.6 742.3,154.0 742.4,153.2 742.6,158.1 742.7,160.2 742.8,148.3 743.0,162.8 743.1,157.6 743.2,152.2 743.4,162.0 743.5,170.7 743.7,154.4 743.8,148.4 743.9,156.3 744.1,171.7 744.2,152.8 744.3,139.0 744.5,170.9 744.6,177.7 744.8,160.8 744.9,158.0 745.0,151.5 745.2,151.1 745.3,157.9 745.4,153.8 745.6,155.7 745.7,157.6 745.9,159.3 746.0,160.1 746.1,152.2 746.3,155.0 746.4,162.4 746.5,148.5 746.7,164.8 746.8,160.8 747.0,157.6 747.1,173.3 747.2,162.1 747.4,150.9 747.5,151.3 747.6,168.5 747.8,119.8 747.9,167.6 748.0,160.9 748.2,159.4 748.3,171.3 748.5,156.0 748.6,158.2 748.7,159.5 748.9,164.5 749.0,160.5 749.1,172.6 749.3,156.9 749.4,157.1 749.6,159.9 749.7,168.4 749.8,146.8 750.0,148.3 750.1,173.2 750.2,155.2 750.4,157.6 750.5,177.4 750.7,154.2 750.8,152.9 750.9,152.3 751.1,157.4 751.2,164.3 751.3,163.2 751.5,154.2 751.6,147.8 751.8,162.9 751.9,161.2 752.0,152.4 752.2,174.9 752.3,154.8 752.4,160.8 752.6,175.1 752.7,151.7 752.9,166.3 753.0,151.5 753.1,145.6 753.3,168.7 753.4,168.4 753.5,158.8 753.7,172.2 753.8,152.0 754.0,157.1 754.1,149.5 754.2,172.7 754.4,156.8 754.5,154.4 754.6,172.4 754.8,150.3 754.9,169.5 755.1,157.0 755.2,169.0 755.3,151.3 755.5,141.9 755.6,158.0 755.7,158.2 755.9,146.0 756.0,162.2 756.1,157.9 756.3,150.7 756.4,154.5 756.6,143.0 756.7,146.9 756.8,139.1 757.0,158.3 757.1,147.4 757.2,164.8 757.4,149.4 757.5,140.5 757.7,133.7 757.8,167.8 757.9,159.2 758.1,151.0 758.2,164.9 758.3,152.5 758.5,124.2 758.6,161.6 758.8,162.0 758.9,165.1 759.0,154.6 759.2,145.2 759.3,154.7 759.4,130.6 759.6,169.1 759.7,162.3 759.9,151.0 760.0,166.6 760.1,154.1 760.3,149.6 760.4,155.7 760.5,159.2 760.7,148.3 760.8,153.4 761.0,150.4 761.1,152.1 761.2,162.9 761.4,166.2 761.5,160.4 761.6,155.5 761.8,158.9 761.9,148.2 762.1,154.9 762.2,147.9 762.3,156.1 762.5,163.2 762.6,149.2 762.7,152.5 762.9,164.2 763.0,160.6 763.2,130.3 763.3,176.9 763.4,146.3 763.6,156.6 763.7,157.7 763.8,159.7 764.0,161.5 764.1,132.7 764.2,160.9 764.4,159.7 764.5,149.6 764.7,153.6 764.8,158.7 764.9,159.6 765.1,167.9 765.2,146.8 765.3,165.9 765.5,175.1 765.6,147.1 765.8,150.1 765.9,154.0 766.0,161.6 766.2,145.7 766.3,166.1 766.4,173.7 766.6,155.7 766.7,149.6 766.9,151.4 767.0,136.0 767.1,149.3 767.3,159.1 767.4,158.8 767.5,148.7 767.7,157.6 767.8,158.3 768.0,170.9 768.1,159.8 768.2,108.4 768.4,155.0 768.5,155.9 768.6,150.4 768.8,139.1 768.9,158.6 769.1,142.8 769.2,166.3 769.3,155.6 769.5,147.9 769.6,137.1 769.7,166.1 769.9,159.2 770.0,177.4 770.2,157.9 770.3,164.9 770.4,169.9 770.6,167.0 770.7,157.7 770.8,167.8 771.0,139.1 771.1,145.0 771.3,171.7 771.4,161.2 771.5,143.9 771.7,142.6 771.8,146.1 771.9,168.4 772.1,160.1 772.2,144.4 772.4,155.9 772.5,160.8 772.6,152.2 772.8,147.4 772.9,155.6 773.0,154.6 773.2,146.5 773.3,161.7 773.4,164.5 773.6,149.7 773.7,166.7 773.9,152.3 774.0,117.8 774.1,148.9 774.3,166.7 774.4,145.9 774.5,154.3 774.7,159.6 774.8,164.2 775.0,158.3 775.1,164.7 775.2,166.8 775.4,146.6 775.5,151.4 775.6,145.0 775.8,168.0 775.9,172.1 776.1,169.7 776.2,151.0 776.3,149.4 776.5,171.5 776.6,147.3 776.7,160.9 776.9,166.9 777.0,157.8 777.2,151.8 777.3,159.0 777.4,158.6 777.6,164.2 777.7,168.6 777.8,160.4 778.0,170.0 778.1,151.5 778.3,164.3 778.4,144.3 778.5,169.8 778.7,143.3 778.8,164.6 778.9,164.6 779.1,154.5 779.2,148.6 779.4,157.6 779.5,160.3 779.6,136.8 779.8,152.4 779.9,167.1 780.0,159.5 780.2,140.2 780.3,154.2 780.5,149.4 780.6,136.4 780.7,162.4 780.9,153.8 781.0,163.0 781.1,157.3 781.3,152.3 781.4,168.1 781.5,156.0 781.7,156.0 781.8,147.2 782.0,162.5 782.1,167.8 782.2,153.7 782.4,166.6 782.5,155.7 782.6,152.1 782.8,164.8 782.9,158.5 783.1,166.1 783.2,176.4 783.3,169.1 783.5,173.5 783.6,157.3 783.7,166.4 783.9,158.8 784.0,158.0 784.2,147.3 784.3,160.6 784.4,161.1 784.6,152.9 784.7,141.5 784.8,158.3 785.0,154.5 785.1,159.4 785.3,163.6 785.4,170.0 785.5,158.4 785.7,160.0 785.8,159.9 785.9,137.4 786.1,160.7 786.2,154.7 786.4,160.8 786.5,146.2 786.6,160.2 786.8,138.9 786.9,160.1 787.0,150.4 787.2,148.0 787.3,159.9 787.5,149.6 787.6,157.2 787.7,164.2 787.9,163.5 788.0,154.7 788.1,139.7 788.3,162.0 788.4,152.7 788.6,164.6 788.7,155.4 788.8,168.4 789.0,164.5 789.1,157.9 789.2,164.2 789.4,160.2 789.5,148.1 789.7,159.0 789.8,164.0 789.9,168.0 790.1,162.5 790.2,146.7 790.3,158.6 790.5,159.2 790.6,151.1 790.7,149.9 790.9,148.2 791.0,161.0 791.2,165.6 791.3,171.2 791.4,163.8 791.6,161.3 791.7,151.2 791.8,155.1 792.0,162.9 792.1,149.6 792.3,168.3 792.4,166.7 792.5,167.7 792.7,167.0 792.8,160.2 792.9,165.1 793.1,164.4 793.2,144.8 793.4,169.7 793.5,166.5 793.6,160.0 793.8,153.8 793.9,153.4 794.0,160.3 794.2,161.1 794.3,160.2 794.5,150.9 794.6,165.6 794.7,175.5 794.9,156.2 795.0,167.5 795.1,158.4 795.3,144.3 795.4,157.0 795.6,139.3 795.7,170.6 795.8,155.8 796.0,154.3 796.1,150.1 796.2,164.1 796.4,156.5 796.5,156.8 796.7,157.1 796.8,169.0 796.9,171.5 797.1,152.9 797.2,154.7 797.3,157.5 797.5,151.9 797.6,147.4 797.8,167.4 797.9,150.4 798.0,143.0 798.2,148.0 798.3,152.2 798.4,151.1 798.6,169.3 798.7,162.0 798.8,147.8 799.0,142.9 799.1,153.3 799.3,161.5 799.4,158.8 799.5,149.4 799.7,136.8 799.8,150.0 799.9,162.0 800.1,151.6 800.2,153.4 800.4,132.2 800.5,151.8 800.6,157.1 800.8,158.1 800.9,167.5 801.0,166.2 801.2,161.5 801.3,164.2 801.5,155.6 801.6,156.4 801.7,148.3 801.9,142.2 802.0,155.9 802.1,159.1 802.3,171.9 802.4,153.8 802.6,151.1 802.7,163.9 802.8,160.7 803.0,163.3 803.1,147.0 803.2,151.5 803.4,145.4 803.5,129.0 803.7,130.1 803.8,164.5 803.9,165.9 804.1,155.6 804.2,162.1 804.3,138.9 804.5,161.0 804.6,163.2 804.8,147.9 804.9,145.4 805.0,164.4 805.2,161.5 805.3,160.5 805.4,158.8 805.6,140.1 805.7,145.0 805.9,147.0 806.0,144.8 806.1,157.2 806.3,149.0 806.4,158.0 806.5,163.8 806.7,140.6 806.8,171.2 807.0,157.4 807.1,162.4 807.2,170.6 807.4,160.7 807.5,156.8 807.6,153.1 807.8,164.4 807.9,150.3 808.0,154.6 808.2,149.8 808.3,172.4 808.5,161.4 808.6,162.8 808.7,152.1 808.9,163.7 809.0,161.8 809.1,166.9 809.3,167.3 809.4,165.3 809.6,148.3 809.7,166.3 809.8,175.6 810.0,154.9 810.1,161.5 810.2,152.4 810.4,152.6 810.5,160.4 810.7,161.3 810.8,162.4 810.9,157.7 811.1,164.2 811.2,155.9 811.3,144.1 811.5,163.3 811.6,163.0 811.8,163.0 811.9,151.9 812.0,151.4 812.2,143.4 812.3,150.9 812.4,156.4 812.6,153.3 812.7,168.1 812.9,152.2 813.0,155.9 813.1,136.1 813.3,143.9 813.4,164.3 813.5,162.2 813.7,149.0 813.8,173.2 814.0,165.0 814.1,153.9 814.2,151.3 814.4,155.7 814.5,146.1 814.6,159.7 814.8,156.5 814.9,159.0 815.1,166.3 815.2,156.9 815.3,162.0 815.5,156.6 815.6,176.4 815.7,156.3 815.9,162.0 816.0,162.5 816.1,156.9 816.3,161.4 816.4,148.5 816.6,145.2 816.7,148.9 816.8,148.1 817.0,153.9 817.1,156.9 817.2,167.6 817.4,160.4 817.5,145.4 817.7,149.9 817.8,161.4 817.9,156.1 818.1,147.0 818.2,158.5 818.3,141.0 818.5,163.5 818.6,149.6 818.8,150.5 818.9,155.5 819.0,154.3 819.2,152.0 819.3,174.1 819.4,152.7 819.6,145.9 819.7,153.3 819.9,145.9 820.0,166.6 820.1,157.5 820.3,153.9 820.4,159.2 820.5,145.4 820.7,152.4 820.8,161.3 821.0,149.1 821.1,149.1 821.2,160.6 821.4,151.0 821.5,153.4 821.6,153.6 821.8,167.1 821.9,144.4 822.1,124.5 822.2,157.0 822.3,153.6 822.5,153.6 822.6,159.4 822.7,161.7 822.9,155.8 823.0,161.8 823.2,160.9 823.3,166.3 823.4,159.1 823.6,147.0 823.7,154.7 823.8,156.2 824.0,159.4 824.1,160.3 824.2,168.6 824.4,140.1 824.5,162.7 824.7,168.5 824.8,152.8 824.9,154.2 825.1,160.9 825.2,168.3 825.3,167.6 825.5,140.8 825.6,157.5 825.8,162.0 825.9,137.6 826.0,161.1 826.2,164.1 826.3,151.3 826.4,153.0 826.6,140.8 826.7,168.8 826.9,153.7 827.0,169.7 827.1,152.1 827.3,161.9 827.4,160.3 827.5,162.6 827.7,148.4 827.8,140.1 828.0,157.0 828.1,158.5 828.2,160.6 828.4,151.4 828.5,164.8 828.6,128.7 828.8,158.3 828.9,139.0 829.1,154.8 829.2,167.3 829.3,168.7 829.5,159.8 829.6,162.3 829.7,158.4 829.9,165.7 830.0,131.7 830.2,134.3 830.3,170.4 830.4,151.7 830.6,144.5 830.7,159.1 830.8,158.2 831.0,145.7 831.1,151.2 831.3,166.2 831.4,144.3 831.5,160.4 831.7,137.4 831.8,164.3 831.9,173.5 832.1,155.4 832.2,144.5 832.4,151.5 832.5,154.9 832.6,164.1 832.8,147.6 832.9,170.8 833.0,148.9 833.2,166.3 833.3,161.6 833.4,167.1 833.6,164.1 833.7,141.7 833.9,166.2 834.0,154.8 834.1,163.3 834.3,146.7 834.4,167.6 834.5,156.6 834.7,148.0 834.8,133.1 835.0,166.3 835.1,164.0 835.2,157.1 835.4,142.0 835.5,165.2 835.6,148.9 835.8,162.1 835.9,165.4 836.1,169.4 836.2,155.6 836.3,147.4 836.5,157.7 836.6,173.0 836.7,161.7 836.9,147.6 837.0,148.6 837.2,154.4 837.3,142.3 837.4,167.3 837.6,167.1 837.7,131.9 837.8,150.7 838.0,158.8 838.1,161.3 838.3,175.4 838.4,149.1 838.5,173.0 838.7,172.4 838.8,157.6 838.9,142.2 839.1,160.7 839.2,153.8 839.4,161.1 839.5,153.7 839.6,170.6 839.8,135.5 839.9,165.5 840.0,152.1 840.2,173.1 840.3,139.3 840.5,153.4 840.6,119.1 840.7,163.1 840.9,147.4 841.0,127.1 841.1,157.9 841.3,144.6 841.4,165.2 841.5,150.5 841.7,137.5 841.8,139.7 842.0,147.2 842.1,154.5 842.2,165.7 842.4,143.2 842.5,163.4 842.6,145.7 842.8,160.5 842.9,157.5 843.1,157.6 843.2,151.9 843.3,161.5 843.5,156.0 843.6,162.2 843.7,152.7 843.9,155.0 844.0,153.7 844.2,164.9 844.3,154.7 844.4,157.4 844.6,152.3 844.7,157.3 844.8,166.0 845.0,150.9 845.1,163.7 845.3,155.3 845.4,173.9 845.5,153.2 845.7,151.7 845.8,165.8 845.9,152.5 846.1,161.4 846.2,144.4 846.4,151.9 846.5,168.5 846.6,160.0 846.8,172.2 846.9,161.1 847.0,153.1 847.2,150.3 847.3,159.2 847.5,160.4 847.6,156.7 847.7,163.4 847.9,155.2 848.0,147.2 848.1,156.4 848.3,149.9 848.4,164.8 848.6,162.5 848.7,155.0 848.8,137.2 849.0,110.6 849.1,140.8 849.2,157.7 849.4,145.8 849.5,171.5 849.7,153.1 849.8,174.2 849.9,145.9 850.1,153.6 850.2,146.6 850.3,154.3 850.5,162.4 850.6,164.4 850.7,156.3 850.9,143.0 851.0,152.1 851.2,162.8 851.3,163.0 851.4,164.2 851.6,160.0 851.7,158.9 851.8,162.3 852.0,158.0 852.1,170.8 852.3,142.3 852.4,155.8 852.5,142.7 852.7,155.4 852.8,159.8 852.9,157.2 853.1,155.9 853.2,163.7 853.4,161.3 853.5,138.2 853.6,148.8 853.8,127.0 853.9,152.9 854.0,165.0 854.2,143.8 854.3,166.3 854.5,149.1 854.6,157.5 854.7,157.4 854.9,164.7 855.0,160.0 855.1,164.3 855.3,165.1 855.4,153.3 855.6,130.8 855.7,160.7 855.8,147.9 856.0,157.8 856.1,163.8 856.2,178.2 856.4,151.6 856.5,146.4 856.7,156.6 856.8,156.3 856.9,164.6 857.1,160.0 857.2,140.5 857.3,174.9 857.5,153.9 857.6,142.8 857.8,149.9 857.9,149.0 858.0,159.8 858.2,146.4 858.3,146.1 858.4,157.8 858.6,140.5 858.7,161.7 858.8,176.0 859.0,157.5 859.1,158.5 859.3,164.7 859.4,161.4 859.5,162.1 859.7,171.8 859.8,145.2 859.9,157.3 860.1,130.1 860.2,157.5 860.4,153.6 860.5,169.6 860.6,147.4 860.8,166.4 860.9,152.2 861.0,148.3 861.2,149.9 861.3,164.3 861.5,164.1 861.6,150.0 861.7,145.6 861.9,142.8 862.0,157.5 862.1,158.2 862.3,138.9 862.4,162.3 862.6,149.9 862.7,159.9 862.8,168.8 863.0,166.5 863.1,153.0 863.2,155.2 863.4,152.6 863.5,160.3 863.7,161.6 863.8,154.6 863.9,158.9 864.1,170.1 864.2,161.1 864.3,140.1 864.5,163.8 864.6,152.1 864.8,158.0 864.9,150.4 865.0,164.7 865.2,167.8 865.3,153.2 865.4,163.4 865.6,157.7 865.7,160.1 865.9,148.1 866.0,155.0 866.1,156.1 866.3,165.6 866.4,170.0 866.5,164.6 866.7,149.5 866.8,150.9 866.9,152.0 867.1,161.0 867.2,166.1 867.4,146.4 867.5,179.9 867.6,152.5 867.8,165.5 867.9,163.4 868.0,151.5 868.2,150.6 868.3,165.9 868.5,155.0 868.6,167.2 868.7,145.7 868.9,151.4 869.0,134.0 869.1,142.7 869.3,163.3 869.4,155.9 869.6,161.8 869.7,156.4 869.8,150.3 870.0,157.8 870.1,157.2 870.2,168.7 870.4,152.4 870.5,158.0 870.7,152.0 870.8,147.9 870.9,178.6 871.1,151.3 871.2,163.1 871.3,148.9 871.5,158.2 871.6,163.1 871.8,160.0 871.9,169.5 872.0,163.6 872.2,161.8 872.3,157.8 872.4,158.8 872.6,163.6 872.7,159.8 872.9,174.4 873.0,157.3 873.1,153.0 873.3,150.8 873.4,147.9 873.5,160.1 873.7,159.0 873.8,162.4 874.0,162.5 874.1,157.3 874.2,145.3 874.4,171.8 874.5,162.8 874.6,156.0 874.8,166.9 874.9,154.8 875.1,169.7 875.2,161.7 875.3,171.7 875.5,156.3 875.6,165.4 875.7,152.9 875.9,161.4 876.0,166.9 876.1,162.6 876.3,157.8 876.4,159.1 876.6,161.2 876.7,162.1 876.8,159.0 877.0,151.3 877.1,164.1 877.2,155.2 877.4,169.9 877.5,150.6 877.7,156.0 877.8,162.4 877.9,162.2 878.1,172.6 878.2,180.4 878.3,161.5 878.5,170.6 878.6,163.2 878.8,154.1 878.9,157.9 879.0,157.0 879.2,164.1 879.3,151.5 879.4,159.6 879.6,151.4 879.7,136.8 879.9,174.6 880.0,163.7 880.1,159.3 880.3,165.6 880.4,149.6 880.5,162.4 880.7,142.9 880.8,152.3 881.0,155.6 881.1,159.6 881.2,151.5 881.4,154.9 881.5,145.1 881.6,155.6 881.8,149.6 881.9,155.6 882.1,156.3 882.2,171.7 882.3,159.3 882.5,155.8 882.6,168.9 882.7,170.5 882.9,162.0 883.0,156.7 883.2,172.7 883.3,156.5 883.4,150.3 883.6,161.5 883.7,157.2 883.8,155.1 884.0,164.9 884.1,153.6 884.2,155.2 884.4,169.3 884.5,154.5 884.7,151.0 884.8,168.2 884.9,151.1 885.1,161.6 885.2,170.1 885.3,167.8 885.5,166.7 885.6,154.3 885.8,163.4 885.9,162.7 886.0,169.5 886.2,159.1 886.3,169.4 886.4,165.0 886.6,153.6 886.7,153.1 886.9,163.8 887.0,159.7 887.1,154.3 887.3,159.3 887.4,147.6 887.5,146.2 887.7,160.0 887.8,169.2 888.0,160.5 888.1,146.0 888.2,148.3 888.4,147.7 888.5,148.4 888.6,163.5 888.8,156.5 888.9,148.6 889.1,156.5 889.2,150.6 889.3,167.2 889.5,168.8 889.6,138.4 889.7,151.6 889.9,153.1 890.0,144.4 890.2,135.8 890.3,131.3 890.4,176.6 890.6,155.1 890.7,148.8 890.8,173.5 891.0,172.6 891.1,160.2 891.3,139.4 891.4,149.5 891.5,136.3 891.7,155.8 891.8,148.1 891.9,143.3 892.1,154.1 892.2,158.5 892.4,157.2 892.5,177.6 892.6,155.4 892.8,172.9 892.9,165.3 893.0,151.7 893.2,154.7 893.3,173.8 893.4,153.4 893.6,151.2 893.7,156.5 893.9,151.8 894.0,178.0 894.1,171.7 894.3,160.1 894.4,160.9 894.5,168.2 894.7,158.6 894.8,165.1 895.0,158.9 895.1,165.5 895.2,148.1 895.4,135.2 895.5,163.1 895.6,157.7 895.8,157.6 895.9,154.0 896.1,159.6 896.2,174.9 896.3,154.8 896.5,159.2 896.6,166.9 896.7,159.8 896.9,162.4 897.0,155.9 897.2,160.8 897.3,160.4 897.4,156.9 897.6,155.7 897.7,157.8 897.8,146.5 898.0,155.7 898.1,164.4 898.3,140.5 898.4,156.8 898.5,142.3 898.7,166.7 898.8,152.6 898.9,140.5 899.1,145.4 899.2,157.0 899.4,162.8 899.5,163.0 899.6,159.4 899.8,165.9 899.9,164.1 900.0,166.1 900.2,166.1 900.3,155.6 900.5,171.6 900.6,156.3 900.7,151.3 900.9,165.7 901.0,165.4"/>
<polyline fill="none" stroke="#c0504d" stroke-width="1.9" stroke-linejoin="bevel" points="482.1,157.8 482.2,164.1 482.4,163.2 482.5,177.7 482.6,141.4 482.8,148.4 482.9,162.4 483.1,152.2 483.2,157.0 483.3,164.3 483.5,150.1 483.6,162.2 483.7,179.5 483.9,166.1 484.0,155.2 484.2,160.3 484.3,154.3 484.4,164.6 484.6,158.3 484.7,166.9 484.8,151.5 485.0,157.7 485.1,156.4 485.3,155.6 485.4,167.8 485.5,152.0 485.7,138.3 485.8,172.4 485.9,173.0 486.1,171.5 486.2,151.4 486.4,158.2 486.5,149.0 486.6,152.6 486.8,157.4 486.9,156.8 487.0,160.8 487.2,151.0 487.3,168.6 487.5,163.0 487.6,157.1 487.7,141.1 487.9,165.8 488.0,168.2 488.1,164.1 488.3,150.0 488.4,161.3 488.6,146.2 488.7,173.8 488.8,148.3 489.0,149.3 489.1,170.7 489.2,157.8 489.4,147.4 489.5,158.4 489.7,149.6 489.8,134.3 489.9,156.7 490.1,161.6 490.2,165.7 490.3,153.1 490.5,160.9 490.6,160.8 490.7,160.1 490.9,153.1 491.0,168.0 491.2,171.4 491.3,127.5 491.4,147.6 491.6,158.5 491.7,127.3 491.8,159.3 492.0,165.5 492.1,154.7 492.3,159.9 492.4,169.4 492.5,166.6 492.7,141.3 492.8,155.9 492.9,155.3 493.1,161.5 493.2,165.0 493.4,150.6 493.5,160.0 493.6,165.6 493.8,160.3 493.9,166.7 494.0,157.4 494.2,148.2 494.3,166.2 494.5,145.0 494.6,164.9 494.7,157.8 494.9,166.2 495.0,161.1 495.1,158.7 495.3,162.9 495.4,165.2 495.6,164.9 495.7,166.1 495.8,171.7 496.0,161.5 496.1,155.4 496.2,150.5 496.4,153.1 496.5,133.2 496.7,156.2 496.8,163.0 496.9,140.1 497.1,167.8 497.2,149.8 497.3,167.0 497.5,155.8 497.6,174.2 497.8,150.5 497.9,160.5 498.0,167.1 498.2,142.2 498.3,151.8 498.4,158.7 498.6,165.4 498.7,159.5 498.9,160.6 499.0,152.3 499.1,151.6 499.3,164.8 499.4,163.8 499.5,163.7 499.7,170.0 499.8,164.2 499.9,160.0 500.1,152.6 500.2,146.2 500.4,166.0 500.5,154.0 500.6,163.0 500.8,137.8 500.9,159.6 501.0,154.5 501.2,167.0 501.3,166.0 501.5,157.4 501.6,162.5 501.7,155.9 501.9,171.7 502.0,153.0 502.1,166.8 502.3,141.9 502.4,161.7 502.6,148.6 502.7,170.5 502.8,155.2 503.0,166.7 503.1,163.4 503.2,158.9 503.4,161.9 503.5,156.8 503.7,152.1 503.8,153.1 503.9,160.0 504.1,170.2 504.2,166.0 504.3,160.9 504.5,175.4 504.6,152.1 504.8,161.3 504.9,161.4 505.0,150.1 505.2,152.9 505.3,157.2 505.4,167.5 505.6,156.4 505.7,156.0 505.9,166.6 506.0,149.2 506.1,154.5 506.3,174.4 506.4,158.1 506.5,169.6 506.7,148.2 506.8,151.6 507.0,168.3 507.1,166.7 507.2,158.3 507.4,161.3 507.5,144.1 507.6,152.3 507.8,161.8 507.9,153.9 508.0,174.9 508.2,156.4 508.3,151.0 508.5,160.8 508.6,67.8 508.7,154.0 508.9,139.3 509.0,157.4 509.1,168.6 509.3,145.0 509.4,174.0 509.6,154.7 509.7,164.3 509.8,150.5 510.0,126.3 510.1,146.4 510.2,156.6 510.4,173.0 510.5,174.6 510.7,162.1 510.8,146.7 510.9,158.2 511.1,158.8 511.2,161.5 511.3,152.4 511.5,155.9 511.6,156.9 511.8,167.6 511.9,147.9 512.0,146.0 512.2,170.0 512.3,135.4 512.4,152.6 512.6,163.6 512.7,174.1 512.9,153.2 513.0,154.1 513.1,164.4 513.3,173.3 513.4,148.4 513.5,164.3 513.7,163.3 513.8,131.6 514.0,137.3 514.1,150.0 514.2,163.1 514.4,153.0 514.5,176.3 514.6,158.1 514.8,165.5 514.9,169.6 515.1,171.7 515.2,154.2 515.3,158.2 515.5,157.6 515.6,151.0 515.7,166.2 515.9,169.2 516.0,173.0 516.2,161.9 516.3,151.8 516.4,160.3 516.6,153.0 516.7,168.7 516.8,163.0 517.0,165.4 517.1,169.1 517.2,140.1 517.4,150.8 517.5,165.3 517.7,165.3 517.8,178.3 517.9,170.4 518.1,154.8 518.2,169.3 518.3,162.0 518.5,167.3 518.6,162.9 518.8,169.5 518.9,171.3 519.0,166.8 519.2,164.5 519.3,161.2 519.4,158.0 519.6,143.5 519.7,150.9 519.9,160.8 520.0,151.7 520.1,164.4 520.3,144.2 520.4,153.4 520.5,169.5 520.7,151.3 520.8,150.7 521.0,177.4 521.1,164.7 521.2,162.5 521.4,173.3 521.5,167.2 521.6,166.3 521.8,153.6 521.9,155.5 522.1,130.7 522.2,161.6 522.3,147.0 522.5,157.4 522.6,155.6 522.7,167.6 522.9,172.9 523.0,164.5 523.2,150.8 523.3,142.2 523.4,152.3 523.6,153.3 523.7,164.9 523.8,142.6 524.0,144.6 524.1,162.4 524.3,158.2 524.4,166.1 524.5,143.2 524.7,154.0 524.8,158.6 524.9,153.9 525.1,153.6 525.2,161.2 525.3,167.8 525.5,168.1 525.6,171.3 525.8,153.4 525.9,134.6 526.0,171.0 526.2,156.3 526.3,153.8 526.4,165.8 526.6,155.7 526.7,166.6 526.9,145.8 527.0,162.6 527.1,156.5 527.3,151.0 527.4,161.1 527.5,171.4 527.7,161.9 527.8,150.1 528.0,158.0 528.1,155.2 528.2,166.2 528.4,156.0 528.5,150.4 528.6,156.9 528.8,137.8 528.9,159.1 529.1,165.9 529.2,170.1 529.3,146.1 529.5,157.7 529.6,147.5 529.7,153.0 529.9,141.0 530.0,144.9 530.2,160.5 530.3,154.7 530.4,146.7 530.6,167.3 530.7,142.8 530.8,145.4 531.0,147.8 531.1,158.9 531.3,154.4 531.4,166.4 531.5,156.6 531.7,162.2 531.8,156.4 531.9,161.4 532.1,154.5 532.2,145.7 532.4,167.8 532.5,148.3 532.6,172.5 532.8,173.5 532.9,158.1 533.0,157.0 533.2,153.0 533.3,170.1 533.4,157.6 533.6,155.9 533.7,144.8 533.9,158.0 534.0,152.1 534.1,165.2 534.3,158.7 534.4,160.9 534.5,150.4 534.7,165.3 534.8,164.1 535.0,151.6 535.1,139.0 535.2,153.5 535.4,154.3 535.5,160.1 535.6,146.6 535.8,152.0 535.9,139.6 536.1,154.1 536.2,165.0 536.3,162.0 536.5,165.3 536.6,167.3 536.7,144.7 536.9,149.4 537.0,167.2 537.2,139.1 537.3,154.9 537.4,165.1 537.6,153.6 537.7,157.8 537.8,163.7 538.0,172.2 538.1,156.8 538.3,154.5 538.4,176.1 538.5,152.0 538.7,151.4 538.8,161.3 538.9,156.2 539.1,159.6 539.2,164.2 539.4,160.3 539.5,143.9 539.6,168.9 539.8,155.0 539.9,155.5 540.0,163.2 540.2,161.0 540.3,168.5 540.5,164.4 540.6,157.1 540.7,154.2 540.9,164.8 541.0,129.7 541.1,162.2 541.3,156.1 541.4,159.3 541.6,160.8 541.7,144.6 541.8,161.5 542.0,144.3 542.1,146.3 542.2,166.0 542.4,147.4 542.5,162.9 542.6,129.8 542.8,160.7 542.9,165.3 543.1,172.2 543.2,168.0 543.3,162.4 543.5,165.8 543.6,167.5 543.7,163.4 543.9,159.3 544.0,143.1 544.2,170.9 544.3,162.3 544.4,165.5 544.6,169.6 544.7,167.9 544.8,165.2 545.0,150.8 545.1,159.3 545.3,162.2 545.4,151.9 545.5,155.0 545.7,159.6 545.8,154.1 545.9,164.6 546.1,151.7 546.2,153.3 546.4,121.3 546.5,167.6 546.6,142.5 546.8,156.8 546.9,130.1 547.0,163.3 547.2,149.6 547.3,161.5 547.5,155.4 547.6,149.8 547.7,164.5 547.9,158.6 548.0,156.3 548.1,156.7 548.3,152.2 548.4,147.9 548.6,149.9 548.7,155.4 548.8,160.8 549.0,167.0 549.1,164.0 549.2,162.3 549.4,151.3 549.5,160.9 549.7,167.9 549.8,151.9 549.9,164.6 550.1,164.3 550.2,159.8 550.3,153.4 550.5,175.7 550.6,167.0 550.7,156.2 550.9,160.9 551.0,165.0 551.2,162.4 551.3,144.1 551.4,161.7 551.6,151.1 551.7,150.3 551.8,161.7 552.0,153.7 552.1,161.7 552.3,163.0 552.4,167.1 552.5,149.5 552.7,161.3 552.8,162.6 552.9,167.1 553.1,139.6 553.2,150.9 553.4,159.0 553.5,163.8 553.6,170.1 553.8,155.2 553.9,178.9 554.0,169.3 554.2,146.6 554.3,150.6 554.5,165.9 554.6,162.7 554.7,161.6 554.9,156.5 555.0,159.2 555.1,171.0 555.3,143.4 555.4,155.1 555.6,145.7 555.7,145.8 555.8,159.9 556.0,154.9 556.1,151.1 556.2,150.8 556.4,159.5 556.5,163.3 556.7,157.7 556.8,164.8 556.9,162.9 557.1,173.7 557.2,157.3 557.3,166.7 557.5,162.9 557.6,158.7 557.8,155.3 557.9,139.0 558.0,156.3 558.2,169.6 558.3,157.0 558.4,163.3 558.6,154.5 558.7,164.1 558.9,164.2 559.0,162.6 559.1,163.6 559.3,172.6 559.4,164.0 559.5,158.4 559.7,146.7 559.8,160.9 559.9,161.6 560.1,153.0 560.2,153.4 560.4,142.5 560.5,153.0 560.6,158.6 560.8,145.3 560.9,143.3 561.0,162.6 561.2,157.1 561.3,171.8 561.5,161.7 561.6,166.0 561.7,160.5 561.9,162.8 562.0,160.1 562.1,159.5 562.3,154.1 562.4,156.5 562.6,163.5 562.7,169.2 562.8,146.6 563.0,144.7 563.1,162.6 563.2,153.5 563.4,170.9 563.5,178.4 563.7,161.1 563.8,144.2 563.9,167.5 564.1,165.8 564.2,142.8 564.3,173.5 564.5,152.8 564.6,154.3 564.8,160.7 564.9,157.2 565.0,131.4 565.2,168.3 565.3,161.7 565.4,161.1 565.6,164.9 565.7,169.9 565.9,143.2 566.0,157.0 566.1,172.9 566.3,165.1 566.4,155.3 566.5,155.4 566.7,170.8 566.8,160.0 567.0,156.8 567.1,155.6 567.2,155.6 567.4,173.5 567.5,140.6 567.6,157.4 567.8,141.1 567.9,131.8 568.0,160.7 568.2,169.4 568.3,151.1 568.5,161.0 568.6,163.3 568.7,168.0 568.9,142.5 569.0,163.3 569.1,170.8 569.3,163.3 569.4,169.0 569.6,158.1 569.7,163.2 569.8,168.3 570.0,153.9 570.1,165.1 570.2,152.7 570.4,147.3 570.5,162.7 570.7,165.1 570.8,157.8 570.9,151.1 571.1,159.6 571.2,158.3 571.3,159.8 571.5,156.8 571.6,153.8 571.8,165.7 571.9,163.9 572.0,159.3 572.2,165.5 572.3,158.6 572.4,154.8 572.6,160.0 572.7,165.0 572.9,166.4 573.0,142.2 573.1,151.5 573.3,169.1 573.4,167.0 573.5,140.9 573.7,144.9 573.8,158.7 574.0,148.6 574.1,171.8 574.2,159.8 574.4,152.9 574.5,174.4 574.6,166.5 574.8,152.5 574.9,148.9 575.1,165.0 575.2,157.2 575.3,143.9 575.5,126.6 575.6,170.7 575.7,160.4 575.9,163.3 576.0,147.1 576.1,158.4 576.3,166.6 576.4,134.7 576.6,164.1 576.7,155.4 576.8,153.5 577.0,152.4 577.1,158.3 577.2,131.2 577.4,160.4 577.5,171.3 577.7,161.8 577.8,161.6 577.9,161.4 578.1,158.6 578.2,165.2 578.3,146.8 578.5,144.2 578.6,176.5 578.8,159.8 578.9,165.9 579.0,178.9 579.2,156.1 579.3,165.1 579.4,163.2 579.6,165.4 579.7,149.4 579.9,147.8 580.0,157.3 580.1,153.3 580.3,160.8 580.4,158.5 580.5,166.1 580.7,159.5 580.8,165.8 581.0,156.3 581.1,151.9 581.2,156.8 581.4,179.9 581.5,132.1 581.6,175.8 581.8,159.6 581.9,164.6 582.1,163.7 582.2,170.7 582.3,159.2 582.5,161.9 582.6,165.1 582.7,161.9 582.9,164.7 583.0,177.2 583.2,149.2 583.3,162.2 583.4,167.5 583.6,156.7 583.7,165.2 583.8,176.0 584.0,151.0 584.1,172.7 584.3,161.4 584.4,158.3 584.5,146.1 584.7,147.8 584.8,157.8 584.9,165.8 585.1,162.9 585.2,148.8 585.3,141.2 585.5,154.2 585.6,164.8 585.8,149.3 585.9,162.5 586.0,162.7 586.2,161.6 586.3,153.6 586.4,156.6 586.6,149.6 586.7,146.4 586.9,154.3 587.0,176.5 587.1,172.4 587.3,157.5 587.4,159.5 587.5,136.7 587.7,159.2 587.8,160.3 588.0,149.9 588.1,148.7 588.2,161.0 588.4,154.5 588.5,168.2 588.6,166.7 588.8,146.8 588.9,170.1 589.1,149.9 589.2,152.4 589.3,151.5 589.5,150.0 589.6,153.5 589.7,175.0 589.9,167.0 590.0,163.8 590.2,149.9 590.3,167.9 590.4,164.5 590.6,161.6 590.7,145.5 590.8,170.0 591.0,169.3 591.1,152.5 591.3,174.5 591.4,155.3 591.5,162.2 591.7,170.9 591.8,161.9 591.9,166.6 592.1,156.7 592.2,154.8 592.4,143.4 592.5,158.2 592.6,157.2 592.8,117.3 592.9,158.3 593.0,148.0 593.2,173.0 593.3,151.9 593.4,162.6 593.6,157.3 593.7,155.0 593.9,149.9 594.0,155.8 594.1,161.3 594.3,155.0 594.4,157.8 594.5,159.7 594.7,156.0 594.8,149.5 595.0,156.5 595.1,156.4 595.2,168.3 595.4,158.8 595.5,172.2 595.6,150.9 595.8,165.5 595.9,145.0 596.1,130.1 596.2,161.1 596.3,144.6 596.5,153.9 596.6,162.4 596.7,164.7 596.9,152.3 597.0,143.8 597.2,154.3 597.3,169.6 597.4,166.2 597.6,159.5 597.7,144.2 597.8,154.9 598.0,154.5 598.1,145.7 598.3,159.3 598.4,158.2 598.5,159.0 598.7,171.3 598.8,153.1 598.9,153.6 599.1,148.0 599.2,167.1 599.4,164.2 599.5,148.4 599.6,154.3 599.8,143.7 599.9,164.5 600.0,155.4 600.2,163.0 600.3,154.4 600.5,161.4 600.6,152.2 600.7,146.8 600.9,150.9 601.0,171.3 601.1,148.2 601.3,153.0 601.4,165.8 601.6,164.6 601.7,157.1 601.8,151.8 602.0,161.1 602.1,170.1 602.2,154.6 602.4,155.6 602.5,131.6 602.6,167.7 602.8,130.5 602.9,139.6 603.1,154.4 603.2,140.5 603.3,156.2 603.5,147.8 603.6,163.4 603.7,156.4 603.9,165.6 604.0,169.6 604.2,159.5 604.3,162.7 604.4,151.7 604.6,144.6 604.7,158.6 604.8,156.5 605.0,155.4 605.1,170.3 605.3,154.6 605.4,157.0 605.5,157.5 605.7,166.2 605.8,172.4 605.9,159.3 606.1,154.2 606.2,144.0 606.4,146.2 606.5,142.8 606.6,153.8 606.8,146.0 606.9,159.0 607.0,151.3 607.2,148.3 607.3,129.7 607.5,155.0 607.6,167.6 607.7,143.7 607.9,163.9 608.0,157.8 608.1,159.8 608.3,164.8 608.4,144.1 608.6,151.7 608.7,162.6 608.8,156.7 609.0,161.1 609.1,151.6 609.2,160.7 609.4,163.9 609.5,163.0 609.7,161.3 609.8,154.8 609.9,165.2 610.1,158.3 610.2,153.4 610.3,133.1 610.5,149.4 610.6,176.6 610.7,162.0 610.9,161.1 611.0,154.7 611.2,142.0 611.3,150.7 611.4,175.0 611.6,154.9 611.7,156.7 611.8,153.9 612.0,144.4 612.1,166.8 612.3,147.1 612.4,170.9 612.5,157.3 612.7,154.3 612.8,134.1 612.9,163.8 613.1,171.2 613.2,151.4 613.4,163.6 613.5,142.4 613.6,164.0 613.8,165.4 613.9,145.9 614.0,157.3 614.2,148.5 614.3,169.6 614.5,141.6 614.6,163.2 614.7,150.4 614.9,166.6 615.0,170.6 615.1,160.5 615.3,156.6 615.4,142.6 615.6,155.1 615.7,151.6 615.8,152.2 616.0,98.9 616.1,165.3 616.2,146.2 616.4,159.8 616.5,156.1 616.7,163.2 616.8,147.3 616.9,168.8 617.1,169.3 617.2,160.4 617.3,168.1 617.5,152.0 617.6,149.9 617.8,165.1 617.9,151.3 618.0,164.4 618.2,159.2 618.3,158.8 618.4,139.8 618.6,158.8 618.7,166.5 618.9,166.6 619.0,147.2 619.1,172.2 619.3,163.0 619.4,162.3 619.5,177.2 619.7,163.1 619.8,149.4 619.9,157.0 620.1,166.7 620.2,152.6 620.4,154.4 620.5,138.4 620.6,165.5 620.8,162.6 620.9,158.8 621.0,160.4 621.2,158.4 621.3,160.2 621.5,165.2 621.6,172.0 621.7,164.1 621.9,170.6 622.0,168.1 622.1,186.5 622.3,154.7 622.4,151.3 622.6,168.0 622.7,156.6 622.8,151.9 623.0,159.9 623.1,172.5 623.2,175.9 623.4,152.1 623.5,150.9 623.7,157.1 623.8,168.3 623.9,145.3 624.1,147.9 624.2,160.1 624.3,161.6 624.5,174.8 624.6,152.7 624.8,172.5 624.9,153.4 625.0,152.9 625.2,158.9 625.3,144.1 625.4,162.6 625.6,154.3 625.7,152.3 625.9,157.6 626.0,163.4 626.1,147.9 626.3,155.9 626.4,161.5 626.5,161.2 626.7,158.6 626.8,136.1 627.0,158.8 627.1,161.9 627.2,168.6 627.4,169.8 627.5,174.5 627.6,157.7 627.8,159.6 627.9,168.4 628.0,171.8 628.2,162.7 628.3,164.4 628.5,170.7 628.6,157.2 628.7,158.7 628.9,160.4 629.0,152.7 629.1,165.5 629.3,146.7 629.4,168.4 629.6,155.2 629.7,154.0 629.8,162.2 630.0,156.7 630.1,170.3 630.2,171.9 630.4,161.7 630.5,166.1 630.7,154.4 630.8,159.7 630.9,154.2 631.1,157.0 631.2,158.1 631.3,159.1 631.5,163.2 631.6,164.0 631.8,139.2 631.9,173.7 632.0,161.6 632.2,150.4 632.3,156.1 632.4,146.1 632.6,154.9 632.7,170.2 632.9,162.9 633.0,171.3 633.1,150.6 633.3,145.8 633.4,163.8 633.5,154.9 633.7,163.5 633.8,171.5 634.0,163.8 634.1,172.5 634.2,164.8 634.4,158.1 634.5,153.2 634.6,147.3 634.8,162.8 634.9,157.8 635.1,156.0 635.2,154.8 635.3,178.5 635.5,166.4 635.6,152.4 635.7,169.0 635.9,157.6 636.0,152.0 636.1,174.5 636.3,161.6 636.4,157.7 636.6,159.8 636.7,172.0 636.8,156.7 637.0,164.7 637.1,152.1 637.2,155.9 637.4,164.6 637.5,158.3 637.7,165.8 637.8,113.3 637.9,172.4 638.1,162.0 638.2,152.4 638.3,158.9 638.5,160.1 638.6,165.3 638.8,164.4 638.9,153.0 639.0,171.8 639.2,139.0 639.3,160.5 639.4,137.7 639.6,148.7 639.7,163.5 639.9,153.1 640.0,157.6 640.1,155.8 640.3,152.6 640.4,164.7 640.5,165.3 640.7,163.6 640.8,170.9 641.0,162.3 641.1,158.0 641.2,157.8 641.4,158.3 641.5,163.5 641.6,152.7 641.8,175.5 641.9,163.4 642.1,162.9 642.2,151.7 642.3,153.9 642.5,152.7 642.6,160.0 642.7,151.2 642.9,168.3 643.0,159.5 643.2,175.9 643.3,143.3 643.4,144.6 643.6,165.2 643.7,167.2 643.8,175.8 644.0,172.1 644.1,159.1 644.3,161.5 644.4,171.7 644.5,164.3 644.7,165.6 644.8,155.8 644.9,153.5 645.1,161.9 645.2,159.0 645.3,160.1 645.5,175.7 645.6,158.4 645.8,160.5 645.9,153.0 646.0,174.0 646.2,152.9 646.3,165.3 646.4,157.5 646.6,148.3 646.7,171.5 646.9,170.3 647.0,150.5 647.1,169.1 647.3,167.7 647.4,154.3 647.5,161.6 647.7,152.6 647.8,157.1 648.0,159.9 648.1,150.5 648.2,177.9 648.4,160.5 648.5,145.3 648.6,148.9 648.8,158.7 648.9,155.5 649.1,167.3 649.2,164.8 649.3,157.1 649.5,177.8 649.6,147.1 649.7,169.9 649.9,162.1 650.0,180.6 650.2,160.9 650.3,148.4 650.4,169.2 650.6,151.6 650.7,164.5 650.8,162.2 651.0,150.0 651.1,161.9 651.3,153.2 651.4,158.4 651.5,160.9 651.7,162.5 651.8,172.7 651.9,165.6 652.1,157.9 652.2,157.5 652.4,171.1 652.5,149.9 652.6,154.0 652.8,169.7 652.9,167.8 653.0,154.6 653.2,172.8 653.3,165.4 653.4,159.7 653.6,160.3 653.7,159.7 653.9,155.6 654.0,165.8 654.1,163.3 654.3,138.4 654.4,170.3 654.5,163.0 654.7,158.2 654.8,164.6 655.0,115.5 655.1,158.5 655.2,152.1 655.4,177.3 655.5,147.8 655.6,148.2 655.8,165.5 655.9,146.5 656.1,156.8 656.2,150.4 656.3,141.1 656.5,158.3 656.6,167.5 656.7,159.2 656.9,169.4 657.0,165.8 657.2,165.5 657.3,165.1 657.4,148.0 657.6,151.3 657.7,166.5 657.8,148.2 658.0,172.1 658.1,164.5 658.3,160.2 658.4,147.5 658.5,152.2 658.7,154.8 658.8,146.3 658.9,152.3 659.1,145.7 659.2,165.5 659.4,172.2 659.5,162.5 659.6,151.1 659.8,156.6 659.9,150.6 660.0,152.3 660.2,154.2 660.3,151.2 660.5,165.0 660.6,148.5 660.7,167.3 660.9,160.0 661.0,170.3 661.1,154.3 661.3,171.2 661.4,145.2 661.6,169.7 661.7,156.6 661.8,160.2 662.0,166.3 662.1,146.9 662.2,162.7 662.4,144.6 662.5,167.4 662.6,165.7 662.8,174.2 662.9,153.8 663.1,150.3 663.2,156.9 663.3,160.3 663.5,166.6 663.6,134.5 663.7,151.9 663.9,173.1 664.0,161.6 664.2,177.4 664.3,143.3 664.4,138.8 664.6,144.5 664.7,159.3 664.8,127.3 665.0,170.1 665.1,154.0 665.3,165.2 665.4,162.1 665.5,164.3 665.7,161.5 665.8,150.3 665.9,141.9 666.1,157.4 666.2,158.6 666.4,167.9 666.5,168.8 666.6,167.5 666.8,150.4 666.9,156.5 667.0,149.5 667.2,154.9 667.3,162.2 667.5,168.8 667.6,161.9 667.7,170.2 667.9,138.3 668.0,156.3 668.1,161.9 668.3,138.3 668.4,162.0 668.6,153.5 668.7,160.1 668.8,155.3 669.0,161.8 669.1,154.0 669.2,144.5 669.4,168.8 669.5,175.3 669.7,145.3 669.8,157.0 669.9,150.2 670.1,161.0 670.2,143.1 670.3,140.0 670.5,168.1 670.6,152.1 670.7,163.7 670.9,171.3 671.0,161.1 671.2,153.1 671.3,169.5 671.4,168.9 671.6,146.4 671.7,158.2 671.8,108.4 672.0,168.0 672.1,164.2 672.3,157.5 672.4,156.9 672.5,157.3 672.7,142.7 672.8,157.2 672.9,170.9 673.1,166.0 673.2,159.2 673.4,146.3 673.5,164.6 673.6,162.1 673.8,159.0 673.9,164.7 674.0,165.7 674.2,160.9 674.3,149.3 674.5,154.4 674.6,161.3 674.7,155.1 674.9,169.2 675.0,149.3 675.1,151.9 675.3,156.1 675.4,171.6 675.6,138.0 675.7,176.7 675.8,167.0 676.0,166.4 676.1,125.9 676.2,170.7 676.4,156.7 676.5,160.2 676.7,161.3 676.8,150.7 676.9,144.8 677.1,155.2 677.2,161.2 677.3,175.8 677.5,144.3 677.6,161.4 677.8,173.1 677.9,157.4 678.0,144.5 678.2,160.0 678.3,168.3 678.4,135.4 678.6,153.0 678.7,155.5 678.8,149.0 679.0,175.0 679.1,159.3 679.3,160.1 679.4,135.1 679.5,163.5 679.7,163.3 679.8,169.8 679.9,165.5 680.1,160.3 680.2,156.1 680.4,160.3 680.5,138.0 680.6,154.0 680.8,152.6 680.9,145.1 681.0,152.6 681.2,163.0 681.3,170.9 681.5,155.3 681.6,165.6 681.7,145.6 681.9,165.0 682.0,175.3 682.1,158.2 682.3,148.2 682.4,160.4 682.6,156.9 682.7,157.2 682.8,141.2 683.0,155.8 683.1,158.9 683.2,163.9 683.4,171.6 683.5,144.7 683.7,147.5 683.8,166.6 683.9,153.0 684.1,155.7 684.2,162.1 684.3,161.5 684.5,151.7 684.6,168.7 684.8,163.3 684.9,159.5 685.0,158.9 685.2,160.7 685.3,156.8 685.4,153.9 685.6,166.4 685.7,158.1 685.9,163.4 686.0,143.9 686.1,170.2 686.3,161.0 686.4,152.3 686.5,161.5 686.7,161.9 686.8,163.6 687.0,156.1 687.1,168.6 687.2,159.7 687.4,159.8 687.5,170.7 687.6,156.4 687.8,163.0 687.9,156.1 688.0,150.7 688.2,155.7 688.3,179.1 688.5,155.9 688.6,171.6 688.7,165.4 688.9,142.0 689.0,158.8 689.1,143.3 689.3,160.4 689.4,158.7 689.6,168.1 689.7,149.7 689.8,160.6 690.0,152.9 690.1,154.7 690.2,153.7 690.4,155.7 690.5,159.0 690.7,158.7 690.8,164.6 690.9,174.9 691.1,154.1 691.2,137.1 691.3,148.1 691.5,134.0 691.6,154.0 691.8,166.6 691.9,166.8 692.0,151.3 692.2,155.2 692.3,159.8 692.4,151.3 692.6,165.7 692.7,153.4 692.9,160.7 693.0,156.8 693.1,146.5 693.3,159.5 693.4,144.5 693.5,145.0 693.7,164.7 693.8,100.0 694.0,168.4 694.1,159.0 694.2,151.1 694.4,175.5 694.5,148.1 694.6,147.0 694.8,159.1 694.9,155.6 695.1,156.1 695.2,159.9 695.3,147.6 695.5,161.4 695.6,158.5 695.7,154.7 695.9,149.8 696.0,147.2 696.1,170.1 696.3,173.9 696.4,159.3 696.6,158.5 696.7,167.1 696.8,155.2 697.0,152.0 697.1,154.4 697.2,141.2 697.4,166.7 697.5,157.7 697.7,138.0 697.8,151.5 697.9,167.3 698.1,156.1 698.2,146.3 698.3,136.2 698.5,151.6 698.6,146.4 698.8,167.2 698.9,160.1 699.0,146.1 699.2,166.1 699.3,158.5 699.4,172.6 699.6,143.0 699.7,159.1 699.9,152.5 700.0,170.1 700.1,168.7 700.3,139.2 700.4,160.9 700.5,162.6 700.7,153.0 700.8,152.6 701.0,173.2 701.1,166.1 701.2,157.4 701.4,157.8 701.5,154.6 701.6,161.6 701.8,160.4 701.9,155.9 702.1,163.8 702.2,165.0 702.3,162.7 702.5,157.8 702.6,159.2 702.7,162.1 702.9,160.1 703.0,158.3 703.2,154.9 703.3,154.5 703.4,168.5 703.6,148.4 703.7,170.7 703.8,152.7 704.0,163.9 704.1,152.4 704.3,147.6 704.4,172.7 704.5,152.2 704.7,155.4 704.8,161.9 704.9,154.3 705.1,162.2 705.2,156.7 705.3,166.6 705.5,150.3 705.6,152.3 705.8,150.8 705.9,163.5 706.0,139.1 706.2,137.5 706.3,158.6 706.4,161.5 706.6,161.4 706.7,151.4 706.9,147.9 707.0,164.3 707.1,173.6 707.3,153.7 707.4,158.4 707.5,156.4 707.7,153.1 707.8,167.2 708.0,157.4 708.1,160.6 708.2,154.5 708.4,146.1 708.5,158.0 708.6,165.4 708.8,145.9 708.9,151.4 709.1,160.0 709.2,172.3 709.3,165.6 709.5,156.9 709.6,153.2 709.7,162.9 709.9,154.3 710.0,163.8 710.2,162.1 710.3,153.4 710.4,160.8 710.6,157.1 710.7,150.1 710.8,147.5 711.0,163.5 711.1,160.7 711.3,169.2 711.4,169.1 711.5,155.8 711.7,163.0 711.8,173.0 711.9,153.7 712.1,165.7 712.2,161.4 712.4,154.9 712.5,155.0 712.6,159.2 712.8,174.0 712.9,153.5 713.0,163.8 713.2,170.2 713.3,175.4 713.4,145.9 713.6,157.5 713.7,157.8 713.9,153.1 714.0,159.5 714.1,170.6 714.3,121.0 714.4,149.3 714.5,154.0 714.7,143.6 714.8,139.5 715.0,165.6 715.1,162.7 715.2,150.5 715.4,157.3 715.5,156.9 715.6,150.0 715.8,151.9 715.9,162.7 716.1,157.7 716.2,164.9 716.3,160.6 716.5,168.0 716.6,174.0 716.7,163.2 716.9,163.9 717.0,150.4 717.2,143.3 717.3,158.7 717.4,154.5 717.6,164.3 717.7,166.6 717.8,161.4 718.0,161.4 718.1,156.2 718.3,157.9 718.4,106.7 718.5,160.9 718.7,172.0 718.8,157.9 718.9,164.6 719.1,157.1 719.2,148.1 719.4,164.4 719.5,159.7 719.6,154.2 719.8,166.8 719.9,157.0 720.0,153.9 720.2,151.3 720.3,148.4 720.5,153.8 720.6,155.3 720.7,170.1 720.9,177.8 721.0,167.0 721.1,145.0 721.3,157.9 721.4,175.9 721.5,162.6 721.7,155.6 721.8,173.3 722.0,153.6 722.1,168.4 722.2,149.0 722.4,158.6 722.5,131.2 722.6,169.7 722.8,156.4 722.9,170.8 723.1,147.8 723.2,157.8 723.3,150.1 723.5,157.9 723.6,168.5 723.7,164.4 723.9,168.9 724.0,167.5 724.2,157.5 724.3,148.5 724.4,150.6 724.6,154.1 724.7,163.7 724.8,154.1 725.0,166.0 725.1,157.0 725.3,150.9 725.4,160.5 725.5,162.9 725.7,162.6 725.8,153.1 725.9,161.6 726.1,170.3 726.2,162.5 726.4,167.6 726.5,144.0 726.6,158.7 726.8,170.6 726.9,156.4 727.0,152.1 727.2,155.3 727.3,162.0 727.5,157.5 727.6,156.3 727.7,149.2 727.9,155.5 728.0,135.4 728.1,160.7 728.3,143.7 728.4,158.7 728.6,172.2 728.7,168.4 728.8,173.0 729.0,172.3 729.1,147.2 729.2,180.3 729.4,153.2 729.5,166.3 729.7,158.9 729.8,167.5 729.9,178.8 730.1,161.1 730.2,162.8 730.3,160.3 730.5,136.5 730.6,154.8 730.7,151.0 730.9,169.0 731.0,164.4 731.2,156.2 731.3,173.3 731.4,145.8 731.6,156.4 731.7,159.0 731.8,160.7 732.0,161.0 732.1,163.3 732.3,145.3 732.4,152.5 732.5,146.9 732.7,161.6 732.8,166.3 732.9,145.7 733.1,168.9 733.2,164.2 733.4,152.3 733.5,148.6 733.6,169.6 733.8,161.4 733.9,158.8 734.0,160.2 734.2,166.2 734.3,127.4 734.5,163.6 734.6,161.2 734.7,176.0 734.9,160.1 735.0,174.1 735.1,152.5 735.3,154.6 735.4,163.5 735.6,114.9 735.7,158.2 735.8,160.5 736.0,155.9 736.1,160.3 736.2,163.3 736.4,165.9 736.5,142.5 736.7,157.5 736.8,159.4 736.9,152.5 737.1,162.6 737.2,162.6 737.3,153.0 737.5,149.4 737.6,118.3 737.8,171.1 737.9,158.8 738.0,159.6 738.2,155.2 738.3,166.8 738.4,168.1 738.6,160.5 738.7,166.9 738.8,168.2 739.0,160.1 739.1,150.8 739.3,158.3 739.4,148.9 739.5,167.8 739.7,153.0 739.8,159.7 739.9,166.9 740.1,163.2 740.2,166.8 740.4,161.5 740.5,165.9 740.6,147.5 740.8,162.7 740.9,171.0 741.0,161.4 741.2,156.2 741.3,162.4 741.5,151.6 741.6,167.3 741.7,166.8 741.9,143.8 742.0,159.7 742.1,154.8 742.3,155.2 742.4,154.4 742.6,159.3 742.7,161.4 742.8,149.5 743.0,164.0 743.1,158.8 743.2,153.4 743.4,163.2 743.5,171.9 743.7,155.6 743.8,149.6 743.9,157.5 744.1,172.9 744.2,154.0 744.3,140.2 744.5,172.1 744.6,178.9 744.8,162.0 744.9,159.2 745.0,152.7 745.2,152.3 745.3,159.1 745.4,155.0 745.6,156.9 745.7,158.8 745.9,160.5 746.0,161.3 746.1,153.4 746.3,156.2 746.4,163.6 746.5,149.7 746.7,166.0 746.8,162.0 747.0,158.8 747.1,174.5 747.2,163.3 747.4,152.1 747.5,152.5 747.6,169.7 747.8,121.0 747.9,168.8 748.0,162.1 748.2,160.6 748.3,172.5 748.5,157.2 748.6,159.4 748.7,160.7 748.9,165.7 749.0,161.7 749.1,173.8 749.3,158.1 749.4,158.3 749.6,161.1 749.7,169.6 749.8,148.0 750.0,149.5 750.1,174.4 750.2,156.4 750.4,158.8 750.5,178.6 750.7,155.4 750.8,154.1 750.9,153.5 751.1,158.6 751.2,165.5 751.3,164.4 751.5,155.4 751.6,149.0 751.8,164.1 751.9,162.4 752.0,153.6 752.2,176.1 752.3,156.0 752.4,162.0 752.6,176.3 752.7,152.9 752.9,167.5 753.0,152.7 753.1,146.8 753.3,169.9 753.4,169.6 753.5,160.0 753.7,173.4 753.8,153.2 754.0,158.3 754.1,150.7 754.2,173.9 754.4,158.0 754.5,155.6 754.6,173.6 754.8,151.5 754.9,170.7 755.1,158.2 755.2,170.2 755.3,152.5 755.5,143.1 755.6,159.2 755.7,159.4 755.9,147.2 756.0,163.4 756.1,159.1 756.3,151.9 756.4,155.7 756.6,144.2 756.7,148.1 756.8,140.3 757.0,159.5 757.1,148.6 757.2,166.0 757.4,150.6 757.5,141.7 757.7,134.9 757.8,169.0 757.9,160.4 758.1,152.2 758.2,166.1 758.3,153.7 758.5,125.4 758.6,162.8 758.8,163.2 758.9,166.3 759.0,155.8 759.2,146.4 759.3,155.9 759.4,131.8 759.6,170.3 759.7,163.5 759.9,152.2 760.0,167.8 760.1,155.3 760.3,150.8 760.4,156.9 760.5,160.4 760.7,149.5 760.8,154.6 761.0,151.6 761.1,153.3 761.2,164.1 761.4,167.4 761.5,161.6 761.6,156.7 761.8,160.1 761.9,149.4 762.1,156.1 762.2,149.1 762.3,157.3 762.5,164.4 762.6,150.4 762.7,153.7 762.9,165.4 763.0,161.8 763.2,131.5 763.3,178.1 763.4,147.5 763.6,157.8 763.7,158.9 763.8,160.9 764.0,162.7 764.1,133.9 764.2,162.1 764.4,160.9 764.5,150.8 764.7,154.8 764.8,159.9 764.9,160.8 765.1,169.1 765.2,148.0 765.3,167.1 765.5,176.3 765.6,148.3 765.8,151.3 765.9,155.2 766.0,162.8 766.2,146.9 766.3,167.3 766.4,174.9 766.6,156.9 766.7,150.8 766.9,152.6 767.0,137.2 767.1,150.5 767.3,160.3 767.4,160.0 767.5,149.9 767.7,158.8 767.8,159.5 768.0,172.1 768.1,161.0 768.2,109.6 768.4,156.2 768.5,157.1 768.6,151.6 768.8,140.3 768.9,159.8 769.1,144.0 769.2,167.5 769.3,156.8 769.5,149.1 769.6,138.3 769.7,167.3 769.9,160.4 770.0,178.6 770.2,159.1 770.3,166.1 770.4,171.1 770.6,168.2 770.7,158.9 770.8,169.0 771.0,140.3 771.1,146.2 771.3,172.9 771.4,162.4 771.5,145.1 771.7,143.8 771.8,147.3 771.9,169.6 772.1,161.3 772.2,145.6 772.4,157.1 772.5,162.0 772.6,153.4 772.8,148.6 772.9,156.8 773.0,155.8 773.2,147.7 773.3,162.9 773.4,165.7 773.6,150.9 773.7,167.9 773.9,153.5 774.0,119.0 774.1,150.1 774.3,167.9 774.4,147.1 774.5,155.5 774.7,160.8 774.8,165.4 775.0,159.5 775.1,165.9 775.2,168.0 775.4,147.8 775.5,152.6 775.6,146.2 775.8,169.2 775.9,173.3 776.1,170.9 776.2,152.2 776.3,150.6 776.5,172.7 776.6,148.5 776.7,162.1 776.9,168.1 777.0,159.0 777.2,153.0 777.3,160.2 777.4,159.8 777.6,165.4 777.7,169.8 777.8,161.6 778.0,171.2 778.1,152.7 778.3,165.5 778.4,145.5 778.5,171.0 778.7,144.5 778.8,165.8 778.9,165.8 779.1,155.7 779.2,149.8 779.4,158.8 779.5,161.5 779.6,138.0 779.8,153.6 779.9,168.3 780.0,160.7 780.2,141.4 780.3,155.4 780.5,150.6 780.6,137.6 780.7,163.6 780.9,155.0 781.0,164.2 781.1,158.5 781.3,153.5 781.4,169.3 781.5,157.2 781.7,157.2 781.8,148.4 782.0,163.7 782.1,169.0 782.2,154.9 782.4,167.8 782.5,156.9 782.6,153.3 782.8,166.0 782.9,159.7 783.1,167.3 783.2,177.6 783.3,170.3 783.5,174.7 783.6,158.5 783.7,167.6 783.9,160.0 784.0,159.2 784.2,148.5 784.3,161.8 784.4,162.3 784.6,154.1 784.7,142.7 784.8,159.5 785.0,155.7 785.1,160.6 785.3,164.8 785.4,171.2 785.5,159.6 785.7,161.2 785.8,161.1 785.9,138.6 786.1,161.9 786.2,155.9 786.4,162.0 786.5,147.4 786.6,161.4 786.8,140.1 786.9,161.3 787.0,151.6 787.2,149.2 787.3,161.1 787.5,150.8 787.6,158.4 787.7,165.4 787.9,164.7 788.0,155.9 788.1,140.9 788.3,163.2 788.4,153.9 788.6,165.8 788.7,156.6 788.8,169.6 789.0,165.7 789.1,159.1 789.2,165.4 789.4,161.4 789.5,149.3 789.7,160.2 789.8,165.2 789.9,169.2 790.1,163.7 790.2,147.9 790.3,159.8 790.5,160.4 790.6,152.3 790.7,151.1 790.9,149.4 791.0,162.2 791.2,166.8 791.3,172.4 791.4,165.0 791.6,162.5 791.7,152.4 791.8,156.3 792.0,164.1 792.1,150.8 792.3,169.5 792.4,167.9 792.5,168.9 792.7,168.2 792.8,161.4 792.9,166.3 793.1,165.6 793.2,146.0 793.4,170.9 793.5,167.7 793.6,161.2 793.8,155.0 793.9,154.6 794.0,161.5 794.2,162.3 794.3,161.4 794.5,152.1 794.6,166.8 794.7,176.7 794.9,157.4 795.0,168.7 795.1,159.6 795.3,145.5 795.4,158.2 795.6,140.5 795.7,171.8 795.8,157.0 796.0,155.5 796.1,151.3 796.2,165.3 796.4,157.7 796.5,158.0 796.7,158.3 796.8,170.2 796.9,172.7 797.1,154.1 797.2,155.9 797.3,158.7 797.5,153.1 797.6,148.6 797.8,168.6 797.9,151.6 798.0,144.2 798.2,149.2 798.3,153.4 798.4,152.3 798.6,170.5 798.7,163.2 798.8,149.0 799.0,144.1 799.1,154.5 799.3,162.7 799.4,160.0 799.5,150.6 799.7,138.0 799.8,151.2 799.9,163.2 800.1,152.8 800.2,154.6 800.4,133.4 800.5,153.0 800.6,158.3 800.8,159.3 800.9,168.7 801.0,167.4 801.2,162.7 801.3,165.4 801.5,156.8 801.6,157.6 801.7,149.5 801.9,143.4 802.0,157.1 802.1,160.3 802.3,173.1 802.4,155.0 802.6,152.3 802.7,165.1 802.8,161.9 803.0,164.5 803.1,148.2 803.2,152.7 803.4,146.6 803.5,130.2 803.7,131.3 803.8,165.7 803.9,167.1 804.1,156.8 804.2,163.3 804.3,140.1 804.5,162.2 804.6,164.4 804.8,149.1 804.9,146.6 805.0,165.6 805.2,162.7 805.3,161.7 805.4,160.0 805.6,141.3 805.7,146.2 805.9,148.2 806.0,146.0 806.1,158.4 806.3,150.2 806.4,159.2 806.5,165.0 806.7,141.8 806.8,172.4 807.0,158.6 807.1,163.6 807.2,171.8 807.4,161.9 807.5,158.0 807.6,154.3 807.8,165.6 807.9,151.5 808.0,155.8 808.2,151.0 808.3,173.6 808.5,162.6 808.6,164.0 808.7,153.3 808.9,164.9 809.0,163.0 809.1,168.1 809.3,168.5 809.4,166.5 809.6,149.5 809.7,167.5 809.8,176.8 810.0,156.1 810.1,162.7 810.2,153.6 810.4,153.8 810.5,161.6 810.7,162.5 810.8,163.6 810.9,158.9 811.1,165.4 811.2,157.1 811.3,145.3 811.5,164.5 811.6,164.2 811.8,164.2 811.9,153.1 812.0,152.6 812.2,144.6 812.3,152.1 812.4,157.6 812.6,154.5 812.7,169.3 812.9,153.4 813.0,157.1 813.1,137.3 813.3,145.1 813.4,165.5 813.5,163.4 813.7,150.2 813.8,174.4 814.0,166.2 814.1,155.1 814.2,152.5 814.4,156.9 814.5,147.3 814.6,160.9 814.8,157.7 814.9,160.2 815.1,167.5 815.2,158.1 815.3,163.2 815.5,157.8 815.6,177.6 815.7,157.5 815.9,163.2 816.0,163.7 816.1,158.1 816.3,162.6 816.4,149.7 816.6,146.4 816.7,150.1 816.8,149.3 817.0,155.1 817.1,158.1 817.2,168.8 817.4,161.6 817.5,146.6 817.7,151.1 817.8,162.6 817.9,157.3 818.1,148.2 818.2,159.7 818.3,142.2 818.5,164.7 818.6,150.8 818.8,151.7 818.9,156.7 819.0,155.5 819.2,153.2 819.3,175.3 819.4,153.9 819.6,147.1 819.7,154.5 819.9,147.1 820.0,167.8 820.1,158.7 820.3,155.1 820.4,160.4 820.5,146.6 820.7,153.6 820.8,162.5 821.0,150.3 821.1,150.3 821.2,161.8 821.4,152.2 821.5,154.6 821.6,154.8 821.8,168.3 821.9,145.6 822.1,125.7 822.2,158.2 822.3,154.8 822.5,154.8 822.6,160.6 822.7,162.9 822.9,157.0 823.0,163.0 823.2,162.1 823.3,167.5 823.4,160.3 823.6,148.2 823.7,155.9 823.8,157.4 824.0,160.6 824.1,161.5 824.2,169.8 824.4,141.3 824.5,163.9 824.7,169.7 824.8,154.0 824.9,155.4 825.1,162.1 825.2,169.5 825.3,168.8 825.5,142.0 825.6,158.7 825.8,163.2 825.9,138.8 826.0,162.3 826.2,165.3 826.3,152.5 826.4,154.2 826.6,142.0 826.7,170.0 826.9,154.9 827.0,170.9 827.1,153.3 827.3,163.1 827.4,161.5 827.5,163.8 827.7,149.6 827.8,141.3 828.0,158.2 828.1,159.7 828.2,161.8 828.4,152.6 828.5,166.0 828.6,129.9 828.8,159.5 828.9,140.2 829.1,156.0 829.2,168.5 829.3,169.9 829.5,161.0 829.6,163.5 829.7,159.6 829.9,166.9 830.0,132.9 830.2,135.5 830.3,171.6 830.4,152.9 830.6,145.7 830.7,160.3 830.8,159.4 831.0,146.9 831.1,152.4 831.3,167.4 831.4,145.5 831.5,161.6 831.7,138.6 831.8,165.5 831.9,174.7 832.1,156.6 832.2,145.7 832.4,152.7 832.5,156.1 832.6,165.3 832.8,148.8 832.9,172.0 833.0,150.1 833.2,167.5 833.3,162.8 833.4,168.3 833.6,165.3 833.7,142.9 833.9,167.4 834.0,156.0 834.1,164.5 834.3,147.9 834.4,168.8 834.5,157.8 834.7,149.2 834.8,134.3 835.0,167.5 835.1,165.2 835.2,158.3 835.4,143.2 835.5,166.4 835.6,150.1 835.8,163.3 835.9,166.6 836.1,170.6 836.2,156.8 836.3,148.6 836.5,158.9 836.6,174.2 836.7,162.9 836.9,148.8 837.0,149.8 837.2,155.6 837.3,143.5 837.4,168.5 837.6,168.3 837.7,133.1 837.8,151.9 838.0,160.0 838.1,162.5 838.3,176.6 838.4,150.3 838.5,174.2 838.7,173.6 838.8,158.8 838.9,143.4 839.1,161.9 839.2,155.0 839.4,162.3 839.5,154.9 839.6,171.8 839.8,136.7 839.9,166.7 840.0,153.3 840.2,174.3 840.3,140.5 840.5,154.6 840.6,120.3 840.7,164.3 840.9,148.6 841.0,128.3 841.1,159.1 841.3,145.8 841.4,166.4 841.5,151.7 841.7,138.7 841.8,140.9 842.0,148.4 842.1,155.7 842.2,166.9 842.4,144.4 842.5,164.6 842.6,146.9 842.8,161.7 842.9,158.7 843.1,158.8 843.2,153.1 843.3,162.7 843.5,157.2 843.6,163.4 843.7,153.9 843.9,156.2 844.0,154.9 844.2,166.1 844.3,155.9 844.4,158.6 844.6,153.5 844.7,158.5 844.8,167.2 845.0,152.1 845.1,164.9 845.3,156.5 845.4,175.1 845.5,154.4 845.7,152.9 845.8,167.0 845.9,153.7 846.1,162.6 846.2,145.6 846.4,153.1 846.5,169.7 846.6,161.2 846.8,173.4 846.9,162.3 847.0,154.3 847.2,151.5 847.3,160.4 847.5,161.6 847.6,157.9 847.7,164.6 847.9,156.4 848.0,148.4 848.1,157.6 848.3,151.1 848.4,166.0 848.6,163.7 848.7,156.2 848.8,138.4 849.0,111.8 849.1,142.0 849.2,158.9 849.4,147.0 849.5,172.7 849.7,154.3 849.8,175.4 849.9,147.1 850.1,154.8 850.2,147.8 850.3,155.5 850.5,163.6 850.6,165.6 850.7,157.5 850.9,144.2 851.0,153.3 851.2,164.0 851.3,164.2 851.4,165.4 851.6,161.2 851.7,160.1 851.8,163.5 852.0,159.2 852.1,172.0 852.3,143.5 852.4,157.0 852.5,143.9 852.7,156.6 852.8,161.0 852.9,158.4 853.1,157.1 853.2,164.9 853.4,162.5 853.5,139.4 853.6,150.0 853.8,128.2 853.9,154.1 854.0,166.2 854.2,145.0 854.3,167.5 854.5,150.3 854.6,158.7 854.7,158.6 854.9,165.9 855.0,161.2 855.1,165.5 855.3,166.3 855.4,154.5 855.6,132.0 855.7,161.9 855.8,149.1 856.0,159.0 856.1,165.0 856.2,179.4 856.4,152.8 856.5,147.6 856.7,157.8 856.8,157.5 856.9,165.8 857.1,161.2 857.2,141.7 857.3,176.1 857.5,155.1 857.6,144.0 857.8,151.1 857.9,150.2 858.0,161.0 858.2,147.6 858.3,147.3 858.4,159.0 858.6,141.7 858.7,162.9 858.8,177.2 859.0,158.7 859.1,159.7 859.3,165.9 859.4,162.6 859.5,163.3 859.7,173.0 859.8,146.4 859.9,158.5 860.1,131.3 860.2,158.7 860.4,154.8 860.5,170.8 860.6,148.6 860.8,167.6 860.9,153.4 861.0,149.5 861.2,151.1 861.3,165.5 861.5,165.3 861.6,151.2 861.7,146.8 861.9,144.0 862.0,158.7 862.1,159.4 862.3,140.1 862.4,163.5 862.6,151.1 862.7,161.1 862.8,170.0 863.0,167.7 863.1,154.2 863.2,156.4 863.4,153.8 863.5,161.5 863.7,162.8 863.8,155.8 863.9,160.1 864.1,171.3 864.2,162.3 864.3,141.3 864.5,165.0 864.6,153.3 864.8,159.2 864.9,151.6 865.0,165.9 865.2,169.0 865.3,154.4 865.4,164.6 865.6,158.9 865.7,161.3 865.9,149.3 866.0,156.2 866.1,157.3 866.3,166.8 866.4,171.2 866.5,165.8 866.7,150.7 866.8,152.1 866.9,153.2 867.1,162.2 867.2,167.3 867.4,147.6 867.5,181.1 867.6,153.7 867.8,166.7 867.9,164.6 868.0,152.7 868.2,151.8 868.3,167.1 868.5,156.2 868.6,168.4 868.7,146.9 868.9,152.6 869.0,135.2 869.1,143.9 869.3,164.5 869.4,157.1 869.6,163.0 869.7,157.6 869.8,151.5 870.0,159.0 870.1,158.4 870.2,169.9 870.4,153.6 870.5,159.2 870.7,153.2 870.8,149.1 870.9,179.8 871.1,152.5 871.2,164.3 871.3,150.1 871.5,159.4 871.6,164.3 871.8,161.2 871.9,170.7 872.0,164.8 872.2,163.0 872.3,159.0 872.4,160.0 872.6,164.8 872.7,161.0 872.9,175.6 873.0,158.5 873.1,154.2 873.3,152.0 873.4,149.1 873.5,161.3 873.7,160.2 873.8,163.6 874.0,163.7 874.1,158.5 874.2,146.5 874.4,173.0 874.5,164.0 874.6,157.2 874.8,168.1 874.9,156.0 875.1,170.9 875.2,162.9 875.3,172.9 875.5,157.5 875.6,166.6 875.7,154.1 875.9,162.6 876.0,168.1 876.1,163.8 876.3,159.0 876.4,160.3 876.6,162.4 876.7,163.3 876.8,160.2 877.0,152.5 877.1,165.3 877.2,156.4 877.4,171.1 877.5,151.8 877.7,157.2 877.8,163.6 877.9,163.4 878.1,173.8 878.2,181.6 878.3,162.7 878.5,171.8 878.6,164.4 878.8,155.3 878.9,159.1 879.0,158.2 879.2,165.3 879.3,152.7 879.4,160.8 879.6,152.6 879.7,138.0 879.9,175.8 880.0,164.9 880.1,160.5 880.3,166.8 880.4,150.8 880.5,163.6 880.7,144.1 880.8,153.5 881.0,156.8 881.1,160.8 881.2,152.7 881.4,156.1 881.5,146.3 881.6,156.8 881.8,150.8 881.9,156.8 882.1,157.5 882.2,172.9 882.3,160.5 882.5,157.0 882.6,170.1 882.7,171.7 882.9,163.2 883.0,157.9 883.2,173.9 883.3,157.7 883.4,151.5 883.6,162.7 883.7,158.4 883.8,156.3 884.0,166.1 884.1,154.8 884.2,156.4 884.4,170.5 884.5,155.7 884.7,152.2 884.8,169.4 884.9,152.3 885.1,162.8 885.2,171.3 885.3,169.0 885.5,167.9 885.6,155.5 885.8,164.6 885.9,163.9 886.0,170.7 886.2,160.3 886.3,170.6 886.4,166.2 886.6,154.8 886.7,154.3 886.9,165.0 887.0,160.9 887.1,155.5 887.3,160.5 887.4,148.8 887.5,147.4 887.7,161.2 887.8,170.4 888.0,161.7 888.1,147.2 888.2,149.5 888.4,148.9 888.5,149.6 888.6,164.7 888.8,157.7 888.9,149.8 889.1,157.7 889.2,151.8 889.3,168.4 889.5,170.0 889.6,139.6 889.7,152.8 889.9,154.3 890.0,145.6 890.2,137.0 890.3,132.5 890.4,177.8 890.6,156.3 890.7,150.0 890.8,174.7 891.0,173.8 891.1,161.4 891.3,140.6 891.4,150.7 891.5,137.5 891.7,157.0 891.8,149.3 891.9,144.5 892.1,155.3 892.2,159.7 892.4,158.4 892.5,178.8 892.6,156.6 892.8,174.1 892.9,166.5 893.0,152.9 893.2,155.9 893.3,175.0 893.4,154.6 893.6,152.4 893.7,157.7 893.9,153.0 894.0,179.2 894.1,172.9 894.3,161.3 894.4,162.1 894.5,169.4 894.7,159.8 894.8,166.3 895.0,160.1 895.1,166.7 895.2,149.3 895.4,136.4 895.5,164.3 895.6,158.9 895.8,158.8 895.9,155.2 896.1,160.8 896.2,176.1 896.3,156.0 896.5,160.4 896.6,168.1 896.7,161.0 896.9,163.6 897.0,157.1 897.2,162.0 897.3,161.6 897.4,158.1 897.6,156.9 897.7,159.0 897.8,147.7 898.0,156.9 898.1,165.6 898.3,141.7 898.4,158.0 898.5,143.5 898.7,167.9 898.8,153.8 898.9,141.7 899.1,146.6 899.2,158.2 899.4,164.0 899.5,164.2 899.6,160.6 899.8,167.1 899.9,165.3 900.0,167.3 900.2,167.3 900.3,156.8 900.5,172.8 900.6,157.5 900.7,152.5 900.9,166.9 901.0,166.6"/>
<line x1="38" y1="287.4" x2="440.5" y2="287.4" stroke="#959595" stroke-width="1.7"/>
<text x="33.8" y="289.59999999999997" text-anchor="end" font-size="9.3" fill="#1e1e1e">0.002</text>
<line x1="38" y1="342.7" x2="440.5" y2="342.7" stroke="#959595" stroke-width="1.7"/>
<text x="33.8" y="344.9" text-anchor="end" font-size="9.3" fill="#1e1e1e">0.0015</text>
<line x1="38" y1="398.0" x2="440.5" y2="398.0" stroke="#959595" stroke-width="1.7"/>
<text x="33.8" y="400.2" text-anchor="end" font-size="9.3" fill="#1e1e1e">0.001</text>
<line x1="38" y1="453.25" x2="440.5" y2="453.25" stroke="#959595" stroke-width="1.7"/>
<text x="33.8" y="455.45" text-anchor="end" font-size="9.3" fill="#1e1e1e">0.0005</text>
<line x1="42.1" y1="287.4" x2="42.1" y2="456.25" stroke="#8a8a8a" stroke-width="1.2"/>
<line x1="42.1" y1="453.25" x2="440.5" y2="453.25" stroke="#8a8a8a" stroke-width="1.3"/>
<line x1="175.4" y1="453.25" x2="175.4" y2="456.25" stroke="#8a8a8a" stroke-width="1"/>
<text x="175.4" y="468.3" text-anchor="middle" font-size="9.3" fill="#1e1e1e">1,000</text>
<line x1="311.1" y1="453.25" x2="311.1" y2="456.25" stroke="#8a8a8a" stroke-width="1"/>
<text x="311.1" y="468.3" text-anchor="middle" font-size="9.3" fill="#1e1e1e">2,000</text>
<polyline fill="none" stroke="#4f81bd" stroke-width="1.9" stroke-linejoin="bevel" points="42.1,365.2 42.2,428.0 42.4,387.7 42.5,401.3 42.6,399.7 42.8,396.4 42.9,421.3 43.0,396.6 43.2,405.4 43.3,358.9 43.5,390.3 43.6,398.3 43.7,397.3 43.9,402.7 44.0,408.0 44.1,398.8 44.3,386.8 44.4,396.7 44.5,380.2 44.7,396.2 44.8,393.1 44.9,372.1 45.1,385.9 45.2,400.4 45.4,396.0 45.5,386.0 45.6,366.7 45.8,397.1 45.9,396.7 46.0,379.5 46.2,405.6 46.3,397.4 46.4,381.2 46.6,385.3 46.7,392.1 46.8,384.1 47.0,427.9 47.1,379.3 47.3,406.7 47.4,416.5 47.5,389.6 47.7,383.7 47.8,399.5 47.9,345.4 48.1,393.0 48.2,394.1 48.3,373.9 48.5,383.0 48.6,390.7 48.7,378.0 48.9,396.2 49.0,406.1 49.1,385.2 49.3,385.2 49.4,396.2 49.6,404.1 49.7,390.1 49.8,427.7 50.0,383.7 50.1,386.4 50.2,415.8 50.4,392.3 50.5,406.5 50.6,382.7 50.8,421.2 50.9,405.7 51.0,383.3 51.2,377.1 51.3,422.9 51.5,399.9 51.6,388.5 51.7,401.4 51.9,371.0 52.0,409.4 52.1,388.0 52.3,407.4 52.4,373.4 52.5,393.1 52.7,398.0 52.8,416.6 52.9,369.6 53.1,382.4 53.2,382.4 53.4,377.0 53.5,387.9 53.6,401.5 53.8,403.8 53.9,403.8 54.0,373.8 54.2,412.9 54.3,400.9 54.4,397.1 54.6,389.6 54.7,384.7 54.8,409.9 55.0,416.5 55.1,392.7 55.2,375.8 55.4,382.2 55.5,389.6 55.7,397.0 55.8,388.5 55.9,395.9 56.1,381.2 56.2,403.5 56.3,390.6 56.5,394.0 56.6,384.9 56.7,389.3 56.9,357.9 57.0,371.7 57.1,371.7 57.3,420.5 57.4,397.0 57.6,400.7 57.7,384.9 57.8,423.8 58.0,376.1 58.1,377.5 58.2,410.3 58.4,405.8 58.5,403.4 58.6,391.7 58.8,383.4 58.9,364.0 59.0,395.0 59.2,381.6 59.3,390.1 59.5,367.9 59.6,381.9 59.7,373.3 59.9,433.2 60.0,394.9 60.1,403.5 60.3,371.4 60.4,383.1 60.5,396.4 60.7,398.4 60.8,385.5 60.9,401.9 61.1,405.0 61.2,385.5 61.3,358.1 61.5,395.5 61.6,399.8 61.8,408.3 61.9,410.5 62.0,384.8 62.2,380.3 62.3,391.9 62.4,387.4 62.6,390.4 62.7,390.1 62.8,413.1 63.0,398.3 63.1,390.5 63.2,402.8 63.4,398.6 63.5,403.3 63.7,396.6 63.8,380.2 63.9,397.6 64.1,394.1 64.2,380.8 64.3,383.1 64.5,368.6 64.6,420.8 64.7,380.1 64.9,398.6 65.0,390.1 65.1,380.3 65.3,376.9 65.4,377.5 65.6,389.7 65.7,369.6 65.8,395.8 66.0,438.6 66.1,380.8 66.2,399.4 66.4,361.9 66.5,377.7 66.6,361.7 66.8,392.2 66.9,397.1 67.0,389.5 67.2,381.6 67.3,399.9 67.4,386.5 67.6,392.0 67.7,369.4 67.9,400.9 68.0,377.3 68.1,400.7 68.3,405.0 68.4,401.6 68.5,408.2 68.7,389.7 68.8,377.5 68.9,389.5 69.1,383.1 69.2,369.2 69.3,388.1 69.5,389.1 69.6,395.6 69.8,414.0 69.9,381.3 70.0,416.1 70.2,382.8 70.3,392.0 70.4,376.2 70.6,392.7 70.7,403.1 70.8,386.8 71.0,399.5 71.1,394.2 71.2,391.1 71.4,393.6 71.5,394.4 71.7,403.3 71.8,394.4 71.9,421.3 72.1,393.9 72.2,408.3 72.3,376.3 72.5,374.2 72.6,418.7 72.7,389.7 72.9,393.5 73.0,406.2 73.1,384.4 73.3,398.1 73.4,416.2 73.5,395.4 73.7,393.8 73.8,390.3 74.0,408.8 74.1,383.2 74.2,381.6 74.4,407.6 74.5,400.9 74.6,392.9 74.8,399.6 74.9,367.7 75.0,388.9 75.2,405.8 75.3,402.7 75.4,392.6 75.6,360.1 75.7,394.3 75.9,390.1 76.0,384.7 76.1,392.4 76.3,360.3 76.4,399.2 76.5,381.6 76.7,389.6 76.8,383.3 76.9,408.1 77.1,367.4 77.2,393.5 77.3,391.4 77.5,404.8 77.6,402.0 77.8,384.1 77.9,378.3 78.0,443.7 78.2,375.2 78.3,382.0 78.4,391.5 78.6,380.4 78.7,383.7 78.8,393.3 79.0,381.9 79.1,374.2 79.2,388.7 79.4,396.9 79.5,382.0 79.6,365.7 79.8,394.9 79.9,393.2 80.1,393.9 80.2,375.1 80.3,417.4 80.5,386.9 80.6,375.5 80.7,403.3 80.9,371.4 81.0,384.6 81.1,399.6 81.3,389.2 81.4,413.3 81.5,399.9 81.7,366.8 81.8,404.5 82.0,366.6 82.1,393.3 82.2,437.0 82.4,391.6 82.5,423.2 82.6,400.1 82.8,389.6 82.9,408.1 83.0,410.9 83.2,387.2 83.3,401.3 83.4,415.7 83.6,401.7 83.7,380.4 83.9,398.9 84.0,379.4 84.1,371.2 84.3,391.9 84.4,408.0 84.5,410.4 84.7,392.7 84.8,380.2 84.9,388.7 85.1,384.9 85.2,398.6 85.3,388.3 85.5,398.9 85.6,397.0 85.7,410.3 85.9,414.2 86.0,399.2 86.2,407.8 86.3,405.8 86.4,383.2 86.6,394.0 86.7,358.0 86.8,379.7 87.0,401.3 87.1,381.8 87.2,387.6 87.4,402.1 87.5,377.3 87.6,403.3 87.8,427.1 87.9,381.6 88.1,401.1 88.2,372.1 88.3,401.6 88.5,409.0 88.6,371.2 88.7,407.5 88.9,389.9 89.0,372.6 89.1,391.1 89.3,393.8 89.4,391.3 89.5,381.1 89.7,403.9 89.8,384.3 90.0,384.8 90.1,360.5 90.2,397.4 90.4,405.4 90.5,382.6 90.6,398.2 90.8,388.7 90.9,390.9 91.0,376.6 91.2,401.8 91.3,394.0 91.4,427.3 91.6,405.0 91.7,371.5 91.8,402.2 92.0,402.5 92.1,409.6 92.3,384.8 92.4,390.3 92.5,409.2 92.7,383.6 92.8,389.2 92.9,382.4 93.1,401.7 93.2,368.8 93.3,387.2 93.5,394.4 93.6,400.0 93.7,396.2 93.9,380.9 94.0,396.5 94.2,377.9 94.3,384.8 94.4,374.2 94.6,381.6 94.7,393.7 94.8,419.2 95.0,388.6 95.1,381.9 95.2,390.5 95.4,385.1 95.5,399.3 95.6,398.0 95.8,405.8 95.9,374.0 96.1,390.6 96.2,399.6 96.3,411.2 96.5,394.9 96.6,372.8 96.7,386.3 96.9,402.8 97.0,373.0 97.1,373.0 97.3,379.2 97.4,381.8 97.5,376.8 97.7,385.2 97.8,382.0 97.9,403.5 98.1,372.0 98.2,389.5 98.4,364.7 98.5,421.0 98.6,383.0 98.8,351.0 98.9,397.5 99.0,386.5 99.2,382.4 99.3,384.7 99.4,400.2 99.6,394.7 99.7,378.6 99.8,375.0 100.0,391.3 100.1,391.6 100.3,389.9 100.4,378.4 100.5,407.3 100.7,411.1 100.8,391.0 100.9,408.0 101.1,400.8 101.2,391.5 101.3,386.0 101.5,407.4 101.6,381.5 101.7,417.1 101.9,385.1 102.0,414.4 102.2,410.2 102.3,383.7 102.4,398.2 102.6,403.6 102.7,398.7 102.8,386.2 103.0,393.3 103.1,393.0 103.2,378.0 103.4,402.5 103.5,399.1 103.6,399.8 103.8,376.5 103.9,378.9 104.0,374.8 104.2,393.1 104.3,394.7 104.5,380.8 104.6,398.0 104.7,381.1 104.9,382.5 105.0,402.2 105.1,393.7 105.3,394.2 105.4,368.6 105.5,358.0 105.7,393.9 105.8,392.3 105.9,424.1 106.1,389.6 106.2,392.7 106.4,407.4 106.5,381.7 106.6,414.2 106.8,395.5 106.9,390.6 107.0,409.8 107.2,380.7 107.3,377.9 107.4,411.7 107.6,412.0 107.7,384.2 107.8,392.9 108.0,409.3 108.1,396.6 108.3,394.0 108.4,394.5 108.5,381.1 108.7,387.2 108.8,368.1 108.9,373.5 109.1,383.1 109.2,377.6 109.3,374.2 109.5,382.8 109.6,409.5 109.7,380.6 109.9,391.5 110.0,370.2 110.1,391.2 110.3,385.3 110.4,388.0 110.6,369.3 110.7,390.1 110.8,396.3 111.0,388.3 111.1,398.6 111.2,390.3 111.4,392.7 111.5,388.8 111.6,366.0 111.8,398.2 111.9,392.1 112.0,395.3 112.2,383.3 112.3,408.9 112.5,402.2 112.6,393.2 112.7,385.0 112.9,393.2 113.0,399.5 113.1,404.6 113.3,385.5 113.4,372.6 113.5,388.1 113.7,390.0 113.8,386.4 113.9,405.6 114.1,396.9 114.2,396.3 114.4,388.5 114.5,393.0 114.6,409.4 114.8,377.0 114.9,356.4 115.0,396.2 115.2,387.1 115.3,388.9 115.4,381.7 115.6,413.0 115.7,370.3 115.8,399.0 116.0,375.1 116.1,391.4 116.2,397.9 116.4,394.5 116.5,380.1 116.7,404.5 116.8,397.8 116.9,399.3 117.1,355.1 117.2,374.6 117.3,384.6 117.5,392.9 117.6,376.5 117.7,405.8 117.9,393.6 118.0,368.8 118.1,379.1 118.3,423.3 118.4,427.1 118.6,406.9 118.7,377.9 118.8,399.1 119.0,395.6 119.1,384.2 119.2,404.8 119.4,389.6 119.5,381.6 119.6,386.1 119.8,387.1 119.9,400.9 120.0,385.4 120.2,398.5 120.3,374.5 120.5,358.0 120.6,402.8 120.7,422.6 120.9,398.4 121.0,387.4 121.1,378.0 121.3,377.6 121.4,403.4 121.5,403.5 121.7,375.0 121.8,407.7 121.9,441.8 122.1,395.7 122.2,382.0 122.3,382.8 122.5,381.8 122.6,381.2 122.8,406.2 122.9,388.4 123.0,392.4 123.2,388.3 123.3,375.5 123.4,396.3 123.6,402.4 123.7,402.6 123.8,396.8 124.0,382.1 124.1,403.8 124.2,376.5 124.4,388.5 124.5,395.7 124.7,411.0 124.8,389.2 124.9,383.0 125.1,417.0 125.2,376.1 125.3,369.8 125.5,387.9 125.6,385.8 125.7,359.2 125.9,375.5 126.0,404.9 126.1,392.8 126.3,394.7 126.4,394.7 126.6,425.2 126.7,382.1 126.8,401.4 127.0,390.3 127.1,394.5 127.2,380.5 127.4,396.7 127.5,403.6 127.6,385.3 127.8,373.2 127.9,397.1 128.0,373.7 128.2,389.0 128.3,400.0 128.4,371.6 128.6,404.0 128.7,378.7 128.9,399.6 129.0,386.5 129.1,409.8 129.3,404.3 129.4,378.0 129.5,390.1 129.7,392.2 129.8,398.9 129.9,386.6 130.1,412.1 130.2,408.3 130.3,395.0 130.5,404.4 130.6,402.5 130.8,393.9 130.9,394.8 131.0,396.0 131.2,369.9 131.3,378.9 131.4,375.9 131.6,393.3 131.7,399.9 131.8,413.0 132.0,397.7 132.1,421.7 132.2,401.0 132.4,382.4 132.5,370.6 132.7,379.6 132.8,404.9 132.9,386.2 133.1,403.9 133.2,381.6 133.3,394.5 133.5,381.2 133.6,358.5 133.7,380.3 133.9,360.8 134.0,390.6 134.1,397.7 134.3,374.7 134.4,369.3 134.5,400.9 134.7,392.1 134.8,413.0 135.0,396.0 135.1,380.9 135.2,394.4 135.4,401.1 135.5,412.7 135.6,388.2 135.8,382.2 135.9,385.0 136.0,389.8 136.2,410.9 136.3,369.0 136.4,394.1 136.6,395.3 136.7,383.2 136.9,423.2 137.0,394.2 137.1,436.6 137.3,388.3 137.4,374.8 137.5,386.9 137.7,418.7 137.8,398.1 137.9,390.6 138.1,391.4 138.2,411.1 138.3,416.4 138.5,385.9 138.6,388.7 138.8,393.7 138.9,417.3 139.0,368.9 139.2,428.0 139.3,398.5 139.4,364.6 139.6,395.7 139.7,390.3 139.8,409.8 140.0,374.7 140.1,411.4 140.2,390.0 140.4,391.6 140.5,408.0 140.6,381.2 140.8,413.1 140.9,402.9 141.1,393.8 141.2,399.1 141.3,387.0 141.5,380.7 141.6,397.5 141.7,401.0 141.9,400.6 142.0,398.5 142.1,382.3 142.3,396.4 142.4,387.8 142.5,394.7 142.7,405.1 142.8,381.5 143.0,407.8 143.1,393.3 143.2,372.8 143.4,408.5 143.5,394.1 143.6,415.2 143.8,400.4 143.9,414.0 144.0,398.3 144.2,400.7 144.3,391.5 144.4,371.4 144.6,389.3 144.7,384.2 144.9,393.9 145.0,396.6 145.1,404.8 145.3,418.1 145.4,392.3 145.5,370.7 145.7,386.6 145.8,400.6 145.9,370.4 146.1,399.1 146.2,401.7 146.3,409.9 146.5,406.4 146.6,396.5 146.7,365.4 146.9,395.8 147.0,407.3 147.2,401.4 147.3,396.0 147.4,416.6 147.6,391.2 147.7,383.2 147.8,388.5 148.0,384.6 148.1,410.7 148.2,416.3 148.4,375.1 148.5,377.7 148.6,414.1 148.8,389.9 148.9,392.4 149.1,385.2 149.2,389.8 149.3,399.6 149.5,389.9 149.6,390.4 149.7,393.2 149.9,418.1 150.0,427.1 150.1,403.4 150.3,415.1 150.4,388.9 150.5,382.5 150.7,388.8 150.8,397.5 151.0,391.4 151.1,376.2 151.2,402.4 151.4,379.5 151.5,382.4 151.6,388.6 151.8,372.1 151.9,402.0 152.0,379.1 152.2,404.9 152.3,402.7 152.4,406.7 152.6,385.9 152.7,405.0 152.8,391.3 153.0,407.7 153.1,377.2 153.3,366.5 153.4,388.8 153.5,369.2 153.7,384.1 153.8,361.8 153.9,390.4 154.1,413.4 154.2,371.1 154.3,393.4 154.5,406.0 154.6,400.7 154.7,414.1 154.9,393.9 155.0,406.4 155.2,371.0 155.3,382.3 155.4,414.5 155.6,412.3 155.7,399.3 155.8,418.0 156.0,392.9 156.1,392.0 156.2,402.0 156.4,398.9 156.5,384.4 156.6,371.7 156.8,370.6 156.9,390.8 157.1,379.4 157.2,401.4 157.3,385.5 157.5,404.5 157.6,381.1 157.7,408.3 157.9,404.5 158.0,391.2 158.1,383.4 158.3,411.0 158.4,398.5 158.5,389.2 158.7,387.9 158.8,402.7 158.9,389.7 159.1,394.7 159.2,371.6 159.4,383.3 159.5,409.3 159.6,421.5 159.8,389.6 159.9,374.6 160.0,388.6 160.2,378.7 160.3,397.6 160.4,409.8 160.6,380.5 160.7,389.5 160.8,381.4 161.0,410.0 161.1,388.3 161.3,399.5 161.4,379.7 161.5,398.9 161.7,399.2 161.8,398.9 161.9,373.4 162.1,390.4 162.2,401.4 162.3,405.0 162.5,405.3 162.6,370.6 162.7,415.9 162.9,402.6 163.0,382.0 163.2,374.5 163.3,392.9 163.4,380.0 163.6,380.3 163.7,377.2 163.8,390.2 164.0,368.0 164.1,387.9 164.2,369.5 164.4,405.8 164.5,377.6 164.6,408.0 164.8,411.3 164.9,383.6 165.0,402.0 165.2,384.3 165.3,405.3 165.5,368.2 165.6,390.3 165.7,406.1 165.9,388.0 166.0,378.2 166.1,401.0 166.3,383.2 166.4,362.1 166.5,378.4 166.7,390.5 166.8,398.2 166.9,382.4 167.1,411.3 167.2,425.6 167.4,399.6 167.5,405.3 167.6,366.2 167.8,388.4 167.9,404.0 168.0,406.5 168.2,383.5 168.3,401.9 168.4,398.4 168.6,391.6 168.7,389.2 168.8,389.0 169.0,388.8 169.1,372.4 169.3,366.9 169.4,413.3 169.5,356.8 169.7,388.6 169.8,373.2 169.9,400.7 170.1,356.2 170.2,387.5 170.3,388.9 170.5,378.7 170.6,381.7 170.7,404.4 170.9,392.1 171.0,380.4 171.1,381.0 171.3,431.4 171.4,394.4 171.6,392.7 171.7,405.9 171.8,408.4 172.0,369.0 172.1,396.1 172.2,389.4 172.4,401.0 172.5,372.8 172.6,366.5 172.8,393.8 172.9,383.7 173.0,401.3 173.2,366.4 173.3,378.0 173.5,402.4 173.6,373.6 173.7,385.9 173.9,385.2 174.0,386.0 174.1,400.2 174.3,398.4 174.4,382.4 174.5,391.7 174.7,404.2 174.8,363.0 174.9,394.0 175.1,398.9 175.2,400.8 175.4,381.6 175.5,377.7 175.6,387.8 175.8,379.2 175.9,411.9 176.0,396.4 176.2,397.8 176.3,391.2 176.4,384.5 176.6,419.5 176.7,357.7 176.8,403.3 177.0,386.6 177.1,380.0 177.2,379.7 177.4,388.2 177.5,426.9 177.7,406.6 177.8,381.1 177.9,404.4 178.1,406.2 178.2,424.2 178.3,374.9 178.5,384.7 178.6,404.2 178.7,393.7 178.9,393.3 179.0,407.4 179.1,395.8 179.3,388.5 179.4,384.4 179.6,374.6 179.7,391.7 179.8,398.5 180.0,386.6 180.1,400.9 180.2,409.5 180.4,376.5 180.5,397.6 180.6,390.7 180.8,383.4 180.9,407.7 181.0,383.5 181.2,386.1 181.3,393.8 181.5,387.0 181.6,402.9 181.7,422.9 181.9,396.4 182.0,405.1 182.1,380.5 182.3,388.9 182.4,399.9 182.5,391.9 182.7,373.8 182.8,376.9 182.9,387.5 183.1,386.6 183.2,396.4 183.3,394.4 183.5,384.5 183.6,394.3 183.8,388.5 183.9,408.1 184.0,415.7 184.2,416.2 184.3,398.7 184.4,374.3 184.6,376.3 184.7,406.5 184.8,414.2 185.0,381.7 185.1,386.3 185.2,411.6 185.4,378.1 185.5,390.3 185.7,374.4 185.8,388.0 185.9,380.4 186.1,388.3 186.2,405.9 186.3,396.0 186.5,402.2 186.6,381.4 186.7,406.6 186.9,414.1 187.0,383.4 187.1,377.0 187.3,372.9 187.4,377.8 187.6,413.8 187.7,402.6 187.8,400.5 188.0,393.3 188.1,422.7 188.2,393.1 188.4,389.1 188.5,406.1 188.6,391.4 188.8,376.6 188.9,392.4 189.0,378.4 189.2,379.1 189.3,387.4 189.4,387.8 189.6,398.2 189.7,375.9 189.9,399.6 190.0,402.7 190.1,383.3 190.3,403.1 190.4,387.2 190.5,378.5 190.7,392.0 190.8,391.6 190.9,380.4 191.1,382.7 191.2,414.4 191.3,411.2 191.5,374.7 191.6,387.7 191.8,421.9 191.9,411.7 192.0,345.4 192.2,406.6 192.3,386.6 192.4,392.0 192.6,386.3 192.7,409.3 192.8,384.6 193.0,366.0 193.1,404.1 193.2,374.9 193.4,379.5 193.5,384.2 193.7,394.0 193.8,409.1 193.9,405.2 194.1,382.5 194.2,379.5 194.3,376.2 194.5,379.8 194.6,380.6 194.7,399.1 194.9,409.7 195.0,390.2 195.1,386.1 195.3,391.9 195.4,414.1 195.5,400.3 195.7,413.5 195.8,391.1 196.0,407.6 196.1,395.4 196.2,388.6 196.4,391.1 196.5,374.1 196.6,408.3 196.8,423.2 196.9,380.0 197.0,373.7 197.2,373.3 197.3,389.1 197.4,385.6 197.6,391.3 197.7,410.9 197.9,400.9 198.0,386.1 198.1,400.9 198.3,366.6 198.4,414.3 198.5,399.0 198.7,377.6 198.8,401.4 198.9,408.6 199.1,411.8 199.2,403.0 199.3,372.1 199.5,387.3 199.6,385.8 199.8,400.1 199.9,381.3 200.0,391.5 200.2,405.7 200.3,399.2 200.4,390.1 200.6,376.7 200.7,393.7 200.8,386.0 201.0,365.0 201.1,403.9 201.2,410.0 201.4,379.3 201.5,386.8 201.6,394.2 201.8,389.2 201.9,397.4 202.1,385.7 202.2,397.5 202.3,381.8 202.5,409.0 202.6,404.1 202.7,391.2 202.9,399.3 203.0,383.2 203.1,393.4 203.3,400.3 203.4,389.9 203.5,400.0 203.7,414.3 203.8,408.4 204.0,403.8 204.1,399.2 204.2,391.3 204.4,440.0 204.5,385.0 204.6,368.0 204.8,374.9 204.9,395.2 205.0,369.7 205.2,376.2 205.3,398.8 205.4,388.2 205.6,377.4 205.7,389.1 205.9,378.4 206.0,387.0 206.1,382.7 206.3,396.9 206.4,387.2 206.5,397.4 206.7,383.1 206.8,415.7 206.9,387.8 207.1,375.1 207.2,384.4 207.3,392.7 207.5,384.9 207.6,404.0 207.7,403.8 207.9,397.3 208.0,394.4 208.2,379.0 208.3,404.7 208.4,378.5 208.6,414.1 208.7,403.2 208.8,392.9 209.0,376.3 209.1,400.8 209.2,421.9 209.4,386.5 209.5,392.7 209.6,407.3 209.8,406.7 209.9,401.9 210.1,391.0 210.2,383.1 210.3,412.7 210.5,360.7 210.6,392.8 210.7,397.4 210.9,383.0 211.0,390.8 211.1,360.0 211.3,377.1 211.4,397.4 211.5,397.7 211.7,399.1 211.8,397.0 212.0,383.0 212.1,401.2 212.2,370.0 212.4,393.4 212.5,394.3 212.6,379.2 212.8,419.6 212.9,405.2 213.0,384.0 213.2,392.2 213.3,392.5 213.4,386.8 213.6,400.6 213.7,394.7 213.8,411.1 214.0,418.2 214.1,374.8 214.3,405.2 214.4,402.2 214.5,373.0 214.7,377.7 214.8,399.6 214.9,399.6 215.1,393.4 215.2,405.5 215.3,384.8 215.5,390.4 215.6,390.6 215.7,382.0 215.9,382.5 216.0,366.9 216.2,371.5 216.3,416.1 216.4,380.0 216.6,407.9 216.7,412.2 216.8,382.6 217.0,402.2 217.1,396.8 217.2,377.7 217.4,401.6 217.5,404.8 217.6,387.9 217.8,375.6 217.9,385.1 218.1,414.0 218.2,401.5 218.3,394.6 218.5,365.8 218.6,380.2 218.7,380.8 218.9,375.9 219.0,396.8 219.1,385.9 219.3,385.8 219.4,343.4 219.5,392.8 219.7,384.8 219.8,407.5 219.9,381.4 220.1,382.1 220.2,378.3 220.4,403.3 220.5,391.1 220.6,372.5 220.8,381.7 220.9,403.5 221.0,389.6 221.2,373.0 221.3,393.7 221.4,387.4 221.6,358.6 221.7,393.2 221.8,394.2 222.0,406.6 222.1,401.8 222.3,372.2 222.4,394.7 222.5,409.2 222.7,405.7 222.8,392.8 222.9,382.3 223.1,403.1 223.2,383.0 223.3,399.6 223.5,388.0 223.6,385.8 223.7,384.6 223.9,399.0 224.0,395.4 224.2,386.1 224.3,411.0 224.4,390.8 224.6,386.1 224.7,378.8 224.8,393.8 225.0,395.8 225.1,391.3 225.2,403.4 225.4,428.2 225.5,387.7 225.6,389.5 225.8,407.8 225.9,397.9 226.0,422.7 226.2,382.4 226.3,400.8 226.5,390.2 226.6,408.8 226.7,394.8 226.9,387.5 227.0,380.1 227.1,412.5 227.3,382.0 227.4,396.0 227.5,404.4 227.7,387.1 227.8,397.8 227.9,397.8 228.1,403.5 228.2,390.7 228.4,393.3 228.5,396.2 228.6,407.0 228.8,400.9 228.9,388.3 229.0,376.2 229.2,394.3 229.3,374.3 229.4,394.0 229.6,409.0 229.7,385.2 229.8,407.3 230.0,388.4 230.1,379.1 230.3,398.2 230.4,395.2 230.5,359.8 230.7,390.6 230.8,390.3 230.9,383.2 231.1,395.3 231.2,395.1 231.3,388.6 231.5,426.9 231.6,374.4 231.7,408.7 231.9,408.8 232.0,386.5 232.1,393.5 232.3,411.2 232.4,391.0 232.6,409.6 232.7,403.5 232.8,414.6 233.0,405.3 233.1,388.4 233.2,392.2 233.4,389.7 233.5,381.2 233.6,394.5 233.8,403.1 233.9,397.8 234.0,371.2 234.2,393.5 234.3,389.5 234.5,395.3 234.6,390.6 234.7,388.0 234.9,394.1 235.0,396.1 235.1,404.7 235.3,405.6 235.4,388.3 235.5,383.6 235.7,381.2 235.8,431.0 235.9,405.3 236.1,385.2 236.2,385.4 236.4,414.7 236.5,382.8 236.6,385.9 236.8,370.9 236.9,409.5 237.0,411.6 237.2,383.0 237.3,418.6 237.4,403.9 237.6,408.9 237.7,407.8 237.8,420.1 238.0,397.0 238.1,380.3 238.2,387.6 238.4,387.6 238.5,398.6 238.7,373.7 238.8,386.4 238.9,379.1 239.1,414.9 239.2,388.8 239.3,409.3 239.5,388.7 239.6,390.8 239.7,409.0 239.9,391.0 240.0,377.5 240.1,386.5 240.3,385.3 240.4,405.3 240.6,402.7 240.7,408.7 240.8,391.5 241.0,377.0 241.1,387.3 241.2,393.3 241.4,408.7 241.5,387.1 241.6,396.5 241.8,419.4 241.9,417.0 242.0,397.8 242.2,405.4 242.3,370.4 242.5,392.6 242.6,407.4 242.7,399.8 242.9,371.1 243.0,406.1 243.1,382.4 243.3,386.9 243.4,372.7 243.5,385.6 243.7,398.4 243.8,385.6 243.9,391.9 244.1,379.4 244.2,393.6 244.4,365.6 244.5,394.1 244.6,386.7 244.8,401.7 244.9,390.9 245.0,392.3 245.2,390.3 245.3,380.2 245.4,399.9 245.6,404.2 245.7,377.2 245.8,396.4 246.0,401.6 246.1,376.5 246.2,381.6 246.4,427.1 246.5,397.5 246.7,381.4 246.8,380.7 246.9,399.2 247.1,370.6 247.2,403.0 247.3,395.2 247.5,390.3 247.6,392.1 247.7,380.9 247.9,377.9 248.0,392.5 248.1,372.6 248.3,401.3 248.4,394.7 248.6,368.1 248.7,390.4 248.8,377.0 249.0,397.6 249.1,395.3 249.2,393.1 249.4,389.2 249.5,396.2 249.6,391.3 249.8,382.3 249.9,374.9 250.0,390.0 250.2,382.6 250.3,378.9 250.5,406.2 250.6,413.0 250.7,369.1 250.9,373.2 251.0,390.5 251.1,386.4 251.3,404.1 251.4,410.2 251.5,386.8 251.7,411.6 251.8,378.5 251.9,400.5 252.1,387.1 252.2,364.4 252.3,365.1 252.5,394.8 252.6,376.3 252.8,405.2 252.9,399.0 253.0,385.8 253.2,371.9 253.3,398.8 253.4,383.5 253.6,389.5 253.7,408.3 253.8,392.7 254.0,370.3 254.1,392.2 254.2,384.0 254.4,379.4 254.5,401.0 254.7,373.9 254.8,370.1 254.9,368.8 255.1,372.7 255.2,397.2 255.3,398.8 255.5,401.6 255.6,403.2 255.7,401.7 255.9,377.1 256.0,370.6 256.1,399.6 256.3,379.6 256.4,408.2 256.6,395.2 256.7,404.5 256.8,413.2 257.0,390.0 257.1,389.7 257.2,396.4 257.4,398.0 257.5,404.4 257.6,392.6 257.8,399.1 257.9,387.5 258.0,407.4 258.2,387.7 258.3,383.8 258.4,373.7 258.6,376.3 258.7,388.2 258.9,400.2 259.0,416.1 259.1,390.9 259.3,371.3 259.4,367.9 259.5,425.5 259.7,401.2 259.8,395.7 259.9,405.2 260.1,427.7 260.2,390.3 260.3,398.0 260.5,391.3 260.6,412.8 260.8,404.2 260.9,403.2 261.0,378.5 261.2,413.3 261.3,393.8 261.4,380.1 261.6,391.6 261.7,379.6 261.8,399.8 262.0,384.8 262.1,378.3 262.2,360.0 262.4,380.8 262.5,371.1 262.7,390.7 262.8,389.5 262.9,369.1 263.1,382.7 263.2,371.2 263.3,381.0 263.5,361.5 263.6,357.9 263.7,402.3 263.9,365.1 264.0,384.8 264.1,384.2 264.3,392.4 264.4,380.8 264.5,406.1 264.7,400.8 264.8,401.3 265.0,386.7 265.1,378.0 265.2,380.5 265.4,385.6 265.5,398.9 265.6,415.1 265.8,385.2 265.9,388.7 266.0,385.8 266.2,371.0 266.3,393.2 266.4,393.5 266.6,422.7 266.7,383.0 266.9,391.4 267.0,400.9 267.1,385.4 267.3,405.2 267.4,398.2 267.5,363.6 267.7,380.4 267.8,378.0 267.9,355.7 268.1,381.9 268.2,388.2 268.3,359.3 268.5,391.9 268.6,380.7 268.8,393.9 268.9,395.8 269.0,424.6 269.2,417.5 269.3,369.6 269.4,370.4 269.6,397.0 269.7,391.5 269.8,382.6 270.0,404.8 270.1,366.6 270.2,405.4 270.4,401.0 270.5,425.9 270.6,370.2 270.8,390.4 270.9,368.7 271.1,405.0 271.2,386.5 271.3,390.2 271.5,388.5 271.6,362.5 271.7,359.9 271.9,372.2 272.0,396.8 272.1,378.9 272.3,372.6 272.4,383.5 272.5,383.4 272.7,384.5 272.8,403.7 273.0,387.8 273.1,369.1 273.2,405.0 273.4,390.1 273.5,379.7 273.6,410.1 273.8,393.2 273.9,414.7 274.0,399.7 274.2,410.8 274.3,403.7 274.4,398.1 274.6,395.2 274.7,394.2 274.9,424.7 275.0,369.5 275.1,395.2 275.3,406.6 275.4,400.1 275.5,387.2 275.7,405.3 275.8,397.2 275.9,397.9 276.1,384.0 276.2,401.8 276.3,385.2 276.5,386.6 276.6,393.5 276.7,374.3 276.9,391.2 277.0,407.7 277.2,387.4 277.3,356.7 277.4,392.0 277.6,388.2 277.7,359.0 277.8,388.2 278.0,385.1 278.1,394.9 278.2,373.3 278.4,392.2 278.5,402.5 278.6,408.3 278.8,384.1 278.9,381.2 279.1,413.4 279.2,401.4 279.3,382.6 279.5,377.3 279.6,409.7 279.7,397.1 279.9,380.0 280.0,398.9 280.1,397.7 280.3,399.0 280.4,409.6 280.5,390.9 280.7,387.3 280.8,410.9 281.0,390.1 281.1,376.1 281.2,388.6 281.4,378.4 281.5,399.1 281.6,372.5 281.8,402.3 281.9,365.4 282.0,397.7 282.2,401.4 282.3,403.8 282.4,397.2 282.6,398.3 282.7,401.0 282.8,396.0 283.0,382.3 283.1,379.3 283.3,396.2 283.4,374.5 283.5,405.3 283.7,405.7 283.8,407.1 283.9,383.2 284.1,413.0 284.2,410.9 284.3,373.9 284.5,367.9 284.6,373.0 284.7,412.2 284.9,391.5 285.0,380.1 285.2,390.3 285.3,414.0 285.4,396.4 285.6,415.1 285.7,408.7 285.8,361.9 286.0,382.3 286.1,412.0 286.2,412.4 286.4,385.4 286.5,400.1 286.6,383.7 286.8,400.6 286.9,394.5 287.1,388.4 287.2,406.0 287.3,418.3 287.5,408.3 287.6,401.4 287.7,394.6 287.9,392.6 288.0,392.8 288.1,384.7 288.3,404.2 288.4,372.6 288.5,364.3 288.7,386.9 288.8,389.4 288.9,374.7 289.1,383.0 289.2,389.4 289.4,394.3 289.5,402.2 289.6,408.2 289.8,382.9 289.9,375.6 290.0,406.7 290.2,393.1 290.3,389.1 290.4,398.0 290.6,402.7 290.7,397.6 290.8,419.4 291.0,393.0 291.1,396.3 291.3,362.9 291.4,379.3 291.5,397.0 291.7,392.4 291.8,368.5 291.9,370.1 292.1,389.7 292.2,394.1 292.3,412.3 292.5,396.9 292.6,394.7 292.7,402.6 292.9,368.5 293.0,418.3 293.2,394.3 293.3,386.8 293.4,386.4 293.6,369.2 293.7,411.8 293.8,402.8 294.0,391.2 294.1,390.7 294.2,397.9 294.4,403.1 294.5,377.7 294.6,407.1 294.8,400.5 294.9,372.7 295.0,368.6 295.2,380.6 295.3,404.5 295.5,404.4 295.6,405.1 295.7,408.4 295.9,398.5 296.0,375.2 296.1,389.7 296.3,403.2 296.4,403.6 296.5,409.1 296.7,376.2 296.8,420.8 296.9,389.1 297.1,412.8 297.2,407.6 297.4,413.6 297.5,379.7 297.6,394.2 297.8,358.1 297.9,338.4 298.0,408.2 298.2,385.0 298.3,385.4 298.4,397.1 298.6,421.2 298.7,373.3 298.8,385.4 299.0,387.8 299.1,401.6 299.3,384.5 299.4,401.2 299.5,392.9 299.7,396.1 299.8,376.1 299.9,400.0 300.1,398.3 300.2,378.3 300.3,390.5 300.5,393.9 300.6,397.0 300.7,380.5 300.9,402.7 301.0,387.2 301.1,365.7 301.3,388.3 301.4,404.6 301.6,410.4 301.7,391.8 301.8,410.8 302.0,415.8 302.1,404.3 302.2,409.0 302.4,381.7 302.5,413.9 302.6,372.0 302.8,404.3 302.9,392.3 303.0,384.6 303.2,390.9 303.3,384.0 303.5,407.6 303.6,425.4 303.7,396.8 303.9,417.3 304.0,402.1 304.1,381.0 304.3,396.8 304.4,402.3 304.5,409.8 304.7,398.2 304.8,396.6 304.9,416.1 305.1,390.1 305.2,409.1 305.4,391.2 305.5,400.4 305.6,380.5 305.8,382.4 305.9,394.1 306.0,395.7 306.2,388.1 306.3,375.0 306.4,379.4 306.6,391.9 306.7,389.6 306.8,372.1 307.0,416.4 307.1,386.3 307.2,406.2 307.4,375.0 307.5,400.5 307.7,395.2 307.8,408.6 307.9,393.3 308.1,382.5 308.2,370.3 308.3,410.9 308.5,399.5 308.6,358.5 308.7,380.3 308.9,393.4 309.0,386.0 309.1,427.5 309.3,370.8 309.4,390.9 309.6,412.9 309.7,376.9 309.8,401.7 310.0,407.2 310.1,385.8 310.2,387.5 310.4,399.3 310.5,394.0 310.6,411.6 310.8,413.0 310.9,380.5 311.0,374.8 311.2,387.0 311.3,387.8 311.5,398.5 311.6,394.8 311.7,405.9 311.9,368.6 312.0,400.8 312.1,387.2 312.3,392.9 312.4,412.2 312.5,366.0 312.7,398.0 312.8,403.5 312.9,391.2 313.1,405.2 313.2,392.4 313.3,406.1 313.5,385.0 313.6,392.0 313.8,411.7 313.9,378.4 314.0,390.1 314.2,408.0 314.3,387.7 314.4,386.7 314.6,366.9 314.7,349.3 314.8,380.8 315.0,393.9 315.1,351.0 315.2,396.2 315.4,393.4 315.5,385.7 315.7,409.1 315.8,421.7 315.9,392.7 316.1,398.7 316.2,391.3 316.3,383.6 316.5,395.5 316.6,375.9 316.7,393.0 316.9,390.9 317.0,380.9 317.1,384.2 317.3,393.5 317.4,390.5 317.6,402.7 317.7,400.7 317.8,390.8 318.0,380.9 318.1,398.2 318.2,380.5 318.4,365.2 318.5,362.3 318.6,391.7 318.8,377.4 318.9,383.6 319.0,381.1 319.2,380.4 319.3,384.7 319.4,380.5 319.6,389.3 319.7,395.5 319.9,388.3 320.0,385.0 320.1,374.9 320.3,386.7 320.4,381.5 320.5,372.1 320.7,404.7 320.8,395.4 320.9,384.3 321.1,391.4 321.2,405.8 321.3,378.1 321.5,392.8 321.6,405.6 321.8,365.5 321.9,409.6 322.0,392.0 322.2,401.1 322.3,390.3 322.4,384.0 322.6,403.1 322.7,393.3 322.8,393.6 323.0,405.7 323.1,375.7 323.2,389.5 323.4,395.9 323.5,401.1 323.7,396.5 323.8,389.9 323.9,398.3 324.1,374.6 324.2,427.1 324.3,421.6 324.5,395.5 324.6,417.5 324.7,429.6 324.9,401.0 325.0,383.9 325.1,386.2 325.3,373.8 325.4,379.2 325.5,374.6 325.7,384.6 325.8,377.2 326.0,385.0 326.1,400.1 326.2,409.3 326.4,408.7 326.5,385.3 326.6,425.0 326.8,389.6 326.9,402.4 327.0,381.8 327.2,389.2 327.3,402.4 327.4,391.8 327.6,423.5 327.7,388.3 327.9,385.6 328.0,417.5 328.1,380.1 328.3,393.6 328.4,389.6 328.5,411.6 328.7,383.6 328.8,383.9 328.9,392.1 329.1,405.6 329.2,381.3 329.3,374.6 329.5,386.3 329.6,378.0 329.8,399.9 329.9,389.7 330.0,386.6 330.2,389.8 330.3,358.1 330.4,385.9 330.6,399.4 330.7,380.2 330.8,406.7 331.0,386.5 331.1,380.9 331.2,398.4 331.4,396.0 331.5,404.5 331.6,389.6 331.8,400.8 331.9,367.4 332.1,382.4 332.2,394.5 332.3,410.9 332.5,363.2 332.6,373.3 332.7,384.7 332.9,388.5 333.0,388.9 333.1,397.7 333.3,365.2 333.4,388.4 333.5,411.2 333.7,400.3 333.8,427.0 334.0,382.1 334.1,380.7 334.2,366.8 334.4,362.3 334.5,402.1 334.6,385.1 334.8,377.6 334.9,380.4 335.0,398.4 335.2,380.3 335.3,384.5 335.4,372.6 335.6,391.9 335.7,394.8 335.9,398.5 336.0,396.7 336.1,402.1 336.3,396.2 336.4,384.6 336.5,385.2 336.7,373.3 336.8,376.4 336.9,383.0 337.1,407.6 337.2,383.7 337.3,375.5 337.5,409.7 337.6,407.2 337.7,405.0 337.9,406.2 338.0,395.8 338.2,404.8 338.3,386.6 338.4,408.7 338.6,393.7 338.7,398.9 338.8,447.0 339.0,377.7 339.1,391.7 339.2,384.6 339.4,396.7 339.5,382.4 339.6,350.5 339.8,394.3 339.9,416.7 340.1,380.8 340.2,382.6 340.3,389.7 340.5,388.8 340.6,390.5 340.7,389.5 340.9,406.1 341.0,393.0 341.1,387.8 341.3,400.7 341.4,405.6 341.5,366.5 341.7,383.8 341.8,396.5 342.0,399.0 342.1,427.6 342.2,411.9 342.4,395.7 342.5,374.4 342.6,420.7 342.8,401.9 342.9,365.8 343.0,383.0 343.2,386.5 343.3,375.7 343.4,393.9 343.6,394.7 343.7,382.3 343.8,380.5 344.0,406.9 344.1,371.1 344.3,416.3 344.4,401.8 344.5,358.5 344.7,399.3 344.8,383.2 344.9,406.1 345.1,396.7 345.2,402.2 345.3,397.7 345.5,383.1 345.6,368.0 345.7,380.1 345.9,370.7 346.0,399.2 346.2,371.9 346.3,384.4 346.4,373.3 346.6,398.0 346.7,395.5 346.8,373.4 347.0,383.8 347.1,390.8 347.2,401.8 347.4,393.7 347.5,385.7 347.6,382.4 347.8,400.1 347.9,397.1 348.1,386.5 348.2,407.8 348.3,379.5 348.5,392.7 348.6,394.5 348.7,426.1 348.9,414.8 349.0,407.2 349.1,401.0 349.3,408.2 349.4,387.9 349.5,391.2 349.7,396.8 349.8,421.2 349.9,373.8 350.1,397.0 350.2,385.0 350.4,402.4 350.5,393.2 350.6,383.5 350.8,389.9 350.9,379.9 351.0,395.7 351.2,365.7 351.3,419.4 351.4,400.9 351.6,379.7 351.7,396.7 351.8,399.4 352.0,417.8 352.1,376.7 352.3,419.5 352.4,386.3 352.5,390.6 352.7,381.2 352.8,373.2 352.9,403.1 353.1,404.6 353.2,397.7 353.3,417.1 353.5,382.0 353.6,398.9 353.7,391.2 353.9,409.0 354.0,393.3 354.2,402.1 354.3,394.5 354.4,408.6 354.6,379.4 354.7,402.6 354.8,427.7 355.0,384.7 355.1,397.8 355.2,405.8 355.4,359.0 355.5,394.4 355.6,412.2 355.8,402.2 355.9,388.4 356.0,396.8 356.2,376.5 356.3,379.0 356.5,404.6 356.6,393.1 356.7,348.8 356.9,399.4 357.0,400.1 357.1,381.5 357.3,387.4 357.4,413.0 357.5,401.3 357.7,399.4 357.8,395.3 357.9,403.5 358.1,375.1 358.2,407.0 358.4,408.6 358.5,390.7 358.6,424.7 358.8,407.8 358.9,384.9 359.0,411.9 359.2,405.3 359.3,378.5 359.4,387.2 359.6,392.7 359.7,390.1 359.8,402.8 360.0,389.2 360.1,396.3 360.3,358.9 360.4,386.0 360.5,398.1 360.7,394.1 360.8,392.6 360.9,412.4 361.1,404.7 361.2,353.6 361.3,412.7 361.5,401.4 361.6,379.2 361.7,372.5 361.9,407.5 362.0,373.1 362.1,398.3 362.3,370.4 362.4,386.3 362.6,397.1 362.7,383.1 362.8,385.4 363.0,403.8 363.1,363.4 363.2,397.9 363.4,377.2 363.5,399.8 363.6,418.4 363.8,408.6 363.9,394.5 364.0,383.6 364.2,368.7 364.3,391.9 364.5,397.0 364.6,410.1 364.7,393.7 364.9,388.9 365.0,423.7 365.1,375.0 365.3,377.4 365.4,361.6 365.5,405.6 365.7,392.5 365.8,392.8 365.9,411.4 366.1,404.8 366.2,406.6 366.4,385.9 366.5,387.0 366.6,374.4 366.8,398.6 366.9,412.3 367.0,386.9 367.2,387.9 367.3,383.8 367.4,375.8 367.6,349.6 367.7,382.0 367.8,406.9 368.0,390.8 368.1,383.4 368.2,394.5 368.4,389.9 368.5,412.2 368.7,401.9 368.8,390.8 368.9,409.6 369.1,404.7 369.2,359.2 369.3,389.3 369.5,404.3 369.6,407.2 369.7,373.9 369.9,427.1 370.0,398.1 370.1,384.9 370.3,401.5 370.4,386.5 370.6,408.3 370.7,394.1 370.8,393.3 371.0,393.7 371.1,391.9 371.2,393.4 371.4,378.5 371.5,397.6 371.6,402.1 371.8,397.9 371.9,398.2 372.0,415.0 372.2,420.4 372.3,412.7 372.5,390.0 372.6,403.2 372.7,399.6 372.9,357.5 373.0,378.4 373.1,396.8 373.3,402.6 373.4,374.9 373.5,404.7 373.7,376.8 373.8,385.7 373.9,374.6 374.1,403.8 374.2,381.2 374.3,418.8 374.5,396.1 374.6,378.8 374.8,384.1 374.9,419.1 375.0,384.2 375.2,387.4 375.3,394.5 375.4,403.7 375.6,335.5 375.7,401.6 375.8,380.5 376.0,387.2 376.1,378.8 376.2,384.0 376.4,411.3 376.5,391.7 376.7,363.9 376.8,408.9 376.9,389.6 377.1,404.3 377.2,405.8 377.3,390.5 377.5,380.7 377.6,382.8 377.7,387.0 377.9,380.2 378.0,415.9 378.1,382.1 378.3,387.8 378.4,395.9 378.6,393.5 378.7,405.1 378.8,377.2 379.0,403.7 379.1,413.6 379.2,393.3 379.4,401.2 379.5,394.1 379.6,372.2 379.8,395.0 379.9,391.4 380.0,361.7 380.2,412.5 380.3,387.9 380.4,376.8 380.6,372.0 380.7,361.9 380.9,402.0 381.0,384.4 381.1,394.2 381.3,399.1 381.4,402.8 381.5,413.0 381.7,388.0 381.8,382.2 381.9,407.3 382.1,382.0 382.2,400.3 382.3,406.7 382.5,425.3 382.6,377.2 382.8,382.6 382.9,396.8 383.0,397.9 383.2,410.6 383.3,385.3 383.4,393.3 383.6,384.9 383.7,389.9 383.8,411.9 384.0,414.0 384.1,386.5 384.2,415.8 384.4,388.4 384.5,379.6 384.7,410.0 384.8,382.7 384.9,391.4 385.1,384.6 385.2,400.8 385.3,392.1 385.5,385.9 385.6,366.3 385.7,381.5 385.9,384.7 386.0,409.6 386.1,386.9 386.3,401.0 386.4,392.5 386.5,387.7 386.7,377.9 386.8,383.1 387.0,388.7 387.1,392.1 387.2,372.4 387.4,403.6 387.5,390.7 387.6,372.1 387.8,393.9 387.9,379.6 388.0,378.8 388.2,363.6 388.3,375.4 388.4,414.1 388.6,391.2 388.7,387.1 388.9,379.7 389.0,385.8 389.1,365.0 389.3,376.0 389.4,407.8 389.5,400.2 389.7,420.2 389.8,367.4 389.9,393.3 390.1,393.6 390.2,413.8 390.3,398.0 390.5,386.0 390.6,397.8 390.8,397.7 390.9,400.9 391.0,364.7 391.2,400.1 391.3,412.8 391.4,399.9 391.6,397.6 391.7,394.1 391.8,396.3 392.0,408.6 392.1,395.8 392.2,387.7 392.4,412.8 392.5,365.5 392.6,369.4 392.8,418.6 392.9,398.4 393.1,379.1 393.2,374.4 393.3,368.2 393.5,419.2 393.6,408.9 393.7,400.5 393.9,385.6 394.0,408.3 394.1,387.2 394.3,386.8 394.4,383.0 394.5,411.2 394.7,390.3 394.8,392.1 395.0,398.9 395.1,374.7 395.2,397.1 395.4,372.6 395.5,401.2 395.6,368.9 395.8,369.6 395.9,404.3 396.0,388.0 396.2,388.2 396.3,406.3 396.4,381.6 396.6,384.2 396.7,404.7 396.9,391.1 397.0,379.9 397.1,394.6 397.3,402.4 397.4,369.3 397.5,406.0 397.7,387.4 397.8,376.4 397.9,381.0 398.1,417.9 398.2,396.7 398.3,393.9 398.5,395.0 398.6,383.2 398.7,384.3 398.9,390.0 399.0,388.1 399.2,377.6 399.3,374.2 399.4,418.3 399.6,361.1 399.7,399.4 399.8,380.7 400.0,346.4 400.1,398.8 400.2,409.2 400.4,376.3 400.5,379.1 400.6,391.4 400.8,393.9 400.9,386.1 401.1,404.7 401.2,400.1 401.3,402.3 401.5,380.1 401.6,391.2 401.7,409.5 401.9,386.8 402.0,384.3 402.1,372.2 402.3,399.5 402.4,346.3 402.5,362.5 402.7,396.3 402.8,396.9 403.0,384.6 403.1,398.8 403.2,391.8 403.4,398.9 403.5,402.9 403.6,379.6 403.8,397.2 403.9,427.0 404.0,396.0 404.2,394.0 404.3,387.9 404.4,379.0 404.6,367.3 404.7,409.3 404.8,395.7 405.0,417.8 405.1,389.2 405.3,446.6 405.4,401.6 405.5,405.3 405.7,406.4 405.8,413.5 405.9,383.8 406.1,365.9 406.2,408.7 406.3,369.9 406.5,394.4 406.6,412.4 406.7,385.1 406.9,382.4 407.0,387.6 407.2,396.8 407.3,369.8 407.4,397.2 407.6,384.4 407.7,384.2 407.8,405.9 408.0,431.9 408.1,417.7 408.2,399.0 408.4,388.5 408.5,418.5 408.6,403.7 408.8,372.2 408.9,418.9 409.1,387.3 409.2,388.8 409.3,382.8 409.5,414.5 409.6,389.2 409.7,413.4 409.9,375.3 410.0,406.1 410.1,388.7 410.3,405.3 410.4,392.2 410.5,415.7 410.7,390.2 410.8,385.7 410.9,394.4 411.1,371.6 411.2,389.1 411.4,383.3 411.5,387.2 411.6,368.1 411.8,403.6 411.9,398.2 412.0,397.5 412.2,385.8 412.3,390.8 412.4,382.7 412.6,390.3 412.7,401.7 412.8,395.3 413.0,388.3 413.1,426.5 413.3,374.9 413.4,402.4 413.5,399.4 413.7,390.7 413.8,397.9 413.9,414.8 414.1,397.6 414.2,374.9 414.3,379.7 414.5,377.0 414.6,402.1 414.7,397.4 414.9,379.5 415.0,373.4 415.2,393.8 415.3,407.8 415.4,421.4 415.6,374.2 415.7,415.6 415.8,388.1 416.0,381.5 416.1,359.0 416.2,391.3 416.4,395.6 416.5,387.5 416.6,386.7 416.8,374.9 416.9,384.2 417.0,404.7 417.2,423.8 417.3,389.7 417.5,403.5 417.6,373.9 417.7,412.5 417.9,391.0 418.0,404.2 418.1,406.3 418.3,370.1 418.4,391.4 418.5,396.4 418.7,383.4 418.8,405.1 418.9,399.1 419.1,403.0 419.2,365.7 419.4,389.2 419.5,385.0 419.6,378.1 419.8,396.6 419.9,396.2 420.0,417.3 420.2,387.1 420.3,390.3 420.4,399.9 420.6,376.8 420.7,419.6 420.8,388.1 421.0,413.8 421.1,343.6 421.3,397.1 421.4,375.1 421.5,411.2 421.7,408.5 421.8,411.5 421.9,365.4 422.1,386.7 422.2,388.4 422.3,364.6 422.5,390.6 422.6,424.3 422.7,401.5 422.9,411.4 423.0,365.2 423.1,414.5 423.3,389.9 423.4,401.6 423.6,400.6 423.7,394.0 423.8,396.2 424.0,404.1 424.1,412.0 424.2,403.6 424.4,409.2 424.5,407.3 424.6,392.6 424.8,396.5 424.9,387.4 425.0,397.7 425.2,366.7 425.3,404.8 425.5,408.7 425.6,379.6 425.7,404.4 425.9,392.5 426.0,380.2 426.1,395.7 426.3,399.4 426.4,380.4 426.5,389.5 426.7,402.0 426.8,411.5 426.9,399.8 427.1,418.1 427.2,406.9 427.4,410.1 427.5,390.1 427.6,383.4 427.8,403.7 427.9,400.7 428.0,410.1 428.2,414.2 428.3,400.6 428.4,386.2 428.6,387.6 428.7,385.9 428.8,398.2 429.0,428.6 429.1,381.0 429.2,375.3 429.4,381.2 429.5,381.3 429.7,378.5 429.8,359.5 429.9,389.6 430.1,371.9 430.2,382.5 430.3,384.4 430.5,396.0 430.6,399.1 430.7,410.2 430.9,385.7 431.0,398.6 431.1,411.3 431.3,405.0 431.4,411.1 431.6,371.1 431.7,397.6 431.8,392.5 432.0,411.4 432.1,408.9 432.2,379.0 432.4,397.4 432.5,390.8 432.6,367.7 432.8,364.0 432.9,384.1 433.0,386.9 433.2,390.5 433.3,398.0 433.5,364.8 433.6,411.4 433.7,395.2 433.9,421.5 434.0,412.0 434.1,388.0 434.3,387.3 434.4,389.0 434.5,398.5 434.7,403.9 434.8,401.5 434.9,399.3 435.1,378.0 435.2,372.8 435.3,387.4 435.5,401.5 435.6,407.2 435.8,389.4 435.9,397.0 436.0,419.9 436.2,374.0 436.3,393.8 436.4,398.2 436.6,406.2 436.7,406.2 436.8,380.7 437.0,407.2 437.1,392.2 437.2,384.5 437.4,367.1 437.5,384.9 437.7,394.1 437.8,399.9 437.9,381.3 438.1,379.1 438.2,399.7 438.3,385.1 438.5,395.5 438.6,416.8 438.7,408.0 438.9,381.8 439.0,372.7 439.1,383.7 439.3,396.3 439.4,403.7 439.6,385.7 439.7,388.7 439.8,416.7 440.0,384.1 440.1,403.6 440.2,383.8 440.4,385.7 440.5,383.0"/>
<line x1="484.6" y1="287.3" x2="900.7" y2="287.3" stroke="#959595" stroke-width="1.7"/>
<text x="479.8" y="289.5" text-anchor="end" font-size="9.3" fill="#1e1e1e">0.1</text>
<line x1="484.6" y1="342.9" x2="900.7" y2="342.9" stroke="#959595" stroke-width="1.7"/>
<text x="479.8" y="345.09999999999997" text-anchor="end" font-size="9.3" fill="#1e1e1e">0</text>
<line x1="484.6" y1="398.6" x2="900.7" y2="398.6" stroke="#959595" stroke-width="1.7"/>
<text x="479.8" y="400.8" text-anchor="end" font-size="9.3" fill="#1e1e1e">-0.1</text>
<line x1="484.6" y1="454.2" x2="900.7" y2="454.2" stroke="#959595" stroke-width="1.7"/>
<text x="479.8" y="456.4" text-anchor="end" font-size="9.3" fill="#1e1e1e">-0.2</text>
<line x1="488.8" y1="287.3" x2="488.8" y2="457.2" stroke="#8a8a8a" stroke-width="1.2"/>
<line x1="488.8" y1="454.2" x2="900.7" y2="454.2" stroke="#8a8a8a" stroke-width="1.3"/>
<line x1="617.3" y1="454.2" x2="617.3" y2="457.2" stroke="#8a8a8a" stroke-width="1"/>
<text x="617.3" y="469.3" text-anchor="middle" font-size="9.3" fill="#1e1e1e">1,000</text>
<line x1="747.3" y1="454.2" x2="747.3" y2="457.2" stroke="#8a8a8a" stroke-width="1"/>
<text x="747.3" y="469.3" text-anchor="middle" font-size="9.3" fill="#1e1e1e">2,000</text>
<line x1="877.7" y1="454.2" x2="877.7" y2="457.2" stroke="#8a8a8a" stroke-width="1"/>
<text x="877.7" y="469.3" text-anchor="middle" font-size="9.3" fill="#1e1e1e">3,000</text>
<polyline fill="none" stroke="#4f81bd" stroke-width="1.9" stroke-linejoin="bevel" points="488.8,376.7 488.9,369.3 489.1,340.7 489.2,356.3 489.3,392.1 489.4,366.7 489.6,376.3 489.7,364.2 489.8,391.6 490.0,362.8 490.1,362.8 490.2,342.0 490.4,361.5 490.5,358.5 490.6,389.7 490.7,331.4 490.9,396.3 491.0,349.3 491.1,371.6 491.3,380.2 491.4,376.7 491.5,376.9 491.7,360.5 491.8,368.2 491.9,343.4 492.0,394.9 492.2,366.5 492.3,380.3 492.4,354.4 492.6,399.4 492.7,371.8 492.8,363.2 492.9,389.6 493.1,351.1 493.2,363.7 493.3,350.8 493.5,351.6 493.6,381.8 493.7,378.9 493.9,369.7 494.0,354.9 494.1,353.3 494.2,377.6 494.4,376.0 494.5,378.9 494.6,375.6 494.8,370.2 494.9,368.5 495.0,334.4 495.1,374.4 495.3,371.0 495.4,359.3 495.5,381.3 495.7,372.2 495.8,366.2 495.9,354.4 496.1,387.0 496.2,345.1 496.3,372.0 496.4,363.8 496.6,353.3 496.7,356.2 496.8,349.9 497.0,363.7 497.1,366.7 497.2,361.5 497.4,382.0 497.5,347.6 497.6,378.5 497.7,386.1 497.9,334.4 498.0,368.6 498.1,384.8 498.3,337.6 498.4,371.6 498.5,349.9 498.6,379.4 498.8,370.3 498.9,392.8 499.0,396.2 499.2,381.6 499.3,367.6 499.4,354.0 499.6,328.6 499.7,382.4 499.8,350.6 499.9,375.8 500.1,368.8 500.2,389.4 500.3,389.4 500.5,378.5 500.6,385.0 500.7,366.4 500.8,377.3 501.0,346.9 501.1,364.0 501.2,363.8 501.4,348.7 501.5,358.3 501.6,367.0 501.8,367.8 501.9,368.3 502.0,349.7 502.1,354.3 502.3,360.8 502.4,354.0 502.5,374.9 502.7,358.5 502.8,388.4 502.9,345.4 503.1,365.0 503.2,363.6 503.3,357.1 503.4,366.6 503.6,370.4 503.7,347.9 503.8,364.6 504.0,380.7 504.1,359.6 504.2,393.0 504.3,340.7 504.5,369.2 504.6,365.8 504.7,331.3 504.9,332.9 505.0,364.7 505.1,356.8 505.3,349.5 505.4,340.3 505.5,368.5 505.6,364.3 505.8,347.4 505.9,362.3 506.0,354.7 506.2,356.9 506.3,384.1 506.4,379.8 506.6,405.4 506.7,370.5 506.8,345.6 506.9,383.7 507.1,347.2 507.2,350.9 507.3,367.3 507.5,366.5 507.6,365.2 507.7,379.8 507.8,370.8 508.0,367.2 508.1,356.9 508.2,354.1 508.4,378.0 508.5,353.6 508.6,378.5 508.8,369.1 508.9,360.7 509.0,366.8 509.1,368.4 509.3,362.2 509.4,375.0 509.5,376.6 509.7,369.6 509.8,351.5 509.9,368.0 510.0,336.8 510.2,363.1 510.3,405.4 510.4,373.3 510.6,340.5 510.7,366.3 510.8,373.2 511.0,320.0 511.1,345.8 511.2,350.8 511.3,355.9 511.5,359.7 511.6,344.0 511.7,353.6 511.9,427.0 512.0,354.5 512.1,363.8 512.3,368.1 512.4,354.5 512.5,366.0 512.6,405.4 512.8,342.2 512.9,350.2 513.0,368.3 513.2,372.2 513.3,362.9 513.4,386.4 513.5,361.6 513.7,370.0 513.8,371.9 513.9,380.8 514.1,377.0 514.2,349.1 514.3,345.6 514.5,358.5 514.6,367.1 514.7,380.0 514.8,355.2 515.0,341.2 515.1,391.5 515.2,348.1 515.4,400.1 515.5,371.6 515.6,360.4 515.8,387.6 515.9,390.0 516.0,363.5 516.1,352.7 516.3,373.7 516.4,345.4 516.5,378.5 516.7,339.0 516.8,364.5 516.9,362.7 517.0,356.8 517.2,361.4 517.3,337.6 517.4,332.0 517.6,357.8 517.7,368.9 517.8,384.6 518.0,378.1 518.1,366.2 518.2,367.9 518.3,367.0 518.5,366.3 518.6,358.7 518.7,387.4 518.9,382.3 519.0,348.9 519.1,353.3 519.2,374.7 519.4,346.1 519.5,376.8 519.6,370.2 519.8,394.8 519.9,353.1 520.0,366.4 520.2,349.6 520.3,355.2 520.4,364.7 520.5,363.7 520.7,347.5 520.8,368.7 520.9,368.5 521.1,365.0 521.2,353.5 521.3,351.6 521.5,336.1 521.6,367.2 521.7,346.2 521.8,376.0 522.0,356.3 522.1,363.7 522.2,338.6 522.4,356.1 522.5,372.5 522.6,356.5 522.7,360.1 522.9,370.4 523.0,370.0 523.1,380.1 523.3,327.2 523.4,363.3 523.5,350.2 523.7,383.5 523.8,382.3 523.9,367.7 524.0,367.7 524.2,352.8 524.3,381.0 524.4,356.9 524.6,341.7 524.7,379.5 524.8,351.1 524.9,380.2 525.1,359.9 525.2,359.6 525.3,338.2 525.5,376.0 525.6,362.6 525.7,349.0 525.9,383.5 526.0,365.4 526.1,378.8 526.2,376.2 526.4,354.6 526.5,354.3 526.6,327.1 526.8,343.8 526.9,345.1 527.0,367.8 527.2,369.9 527.3,363.0 527.4,415.8 527.5,339.4 527.7,375.7 527.8,381.7 527.9,372.4 528.1,351.6 528.2,345.9 528.3,371.2 528.4,358.5 528.6,366.2 528.7,380.8 528.8,362.7 529.0,364.9 529.1,389.3 529.2,348.2 529.4,389.9 529.5,361.8 529.6,381.8 529.7,378.1 529.9,376.4 530.0,354.4 530.1,384.9 530.3,368.4 530.4,341.2 530.5,376.2 530.7,365.9 530.8,355.1 530.9,374.6 531.0,358.1 531.2,375.8 531.3,354.6 531.4,364.5 531.6,380.1 531.7,343.5 531.8,367.0 531.9,369.9 532.1,379.9 532.2,372.8 532.3,367.0 532.5,362.8 532.6,348.3 532.7,386.0 532.9,370.9 533.0,346.8 533.1,362.6 533.2,359.1 533.4,340.6 533.5,360.2 533.6,358.1 533.8,410.8 533.9,337.9 534.0,349.1 534.1,325.2 534.3,356.9 534.4,383.3 534.5,348.4 534.7,354.9 534.8,367.9 534.9,371.6 535.1,393.4 535.2,353.5 535.3,367.2 535.4,370.2 535.6,354.1 535.7,375.7 535.8,374.5 536.0,376.2 536.1,386.5 536.2,327.9 536.4,368.4 536.5,370.9 536.6,351.4 536.7,404.3 536.9,365.9 537.0,365.2 537.1,380.6 537.3,358.3 537.4,397.1 537.5,365.5 537.6,351.9 537.8,400.5 537.9,388.6 538.0,368.6 538.2,366.7 538.3,376.7 538.4,361.1 538.6,363.1 538.7,388.1 538.8,368.8 538.9,387.2 539.1,399.8 539.2,404.2 539.3,351.7 539.5,369.8 539.6,337.3 539.7,390.7 539.9,373.4 540.0,362.7 540.1,370.2 540.2,360.1 540.4,365.6 540.5,377.4 540.6,404.2 540.8,382.6 540.9,340.9 541.0,355.8 541.1,346.1 541.3,376.7 541.4,370.5 541.5,381.1 541.7,361.3 541.8,366.3 541.9,360.2 542.1,339.7 542.2,380.2 542.3,355.6 542.4,388.9 542.6,349.9 542.7,374.0 542.8,368.2 543.0,364.9 543.1,341.4 543.2,367.5 543.3,374.8 543.5,385.5 543.6,362.7 543.7,380.3 543.9,374.8 544.0,367.3 544.1,356.4 544.3,378.0 544.4,356.4 544.5,339.3 544.6,390.1 544.8,345.6 544.9,333.3 545.0,376.0 545.2,357.2 545.3,388.2 545.4,361.5 545.6,371.8 545.7,362.0 545.8,381.1 545.9,379.6 546.1,373.8 546.2,377.9 546.3,376.5 546.5,370.0 546.6,384.2 546.7,369.2 546.8,359.5 547.0,403.0 547.1,363.9 547.2,378.6 547.4,384.5 547.5,388.1 547.6,380.4 547.8,378.8 547.9,361.8 548.0,386.9 548.1,351.0 548.3,380.0 548.4,356.5 548.5,350.2 548.7,386.2 548.8,350.3 548.9,332.8 549.0,373.6 549.2,357.4 549.3,368.3 549.4,364.8 549.6,368.9 549.7,373.6 549.8,354.3 550.0,351.8 550.1,320.4 550.2,341.7 550.3,348.2 550.5,354.1 550.6,376.2 550.7,335.3 550.9,344.3 551.0,398.3 551.1,382.1 551.3,372.2 551.4,350.2 551.5,345.3 551.6,369.2 551.8,360.8 551.9,353.8 552.0,384.5 552.2,355.4 552.3,369.3 552.4,361.6 552.5,365.2 552.7,382.9 552.8,379.9 552.9,363.8 553.1,362.4 553.2,368.5 553.3,347.9 553.5,370.0 553.6,383.3 553.7,369.8 553.8,367.1 554.0,366.4 554.1,346.2 554.2,356.4 554.4,347.9 554.5,354.6 554.6,366.9 554.8,348.2 554.9,368.4 555.0,360.5 555.1,379.9 555.3,362.7 555.4,369.3 555.5,358.4 555.7,335.9 555.8,327.3 555.9,348.3 556.0,364.6 556.2,351.3 556.3,412.4 556.4,373.7 556.6,365.2 556.7,368.1 556.8,373.6 557.0,342.7 557.1,372.6 557.2,372.0 557.3,353.2 557.5,375.0 557.6,382.1 557.7,377.5 557.9,356.7 558.0,358.3 558.1,359.5 558.2,371.4 558.4,378.4 558.5,350.1 558.6,386.7 558.8,367.5 558.9,384.8 559.0,370.5 559.2,366.5 559.3,345.1 559.4,403.4 559.5,342.9 559.7,378.0 559.8,359.6 559.9,351.7 560.1,376.1 560.2,365.6 560.3,356.5 560.5,366.1 560.6,375.7 560.7,361.3 560.8,362.5 561.0,387.5 561.1,343.0 561.2,360.7 561.4,401.9 561.5,377.1 561.6,337.4 561.7,339.5 561.9,360.0 562.0,390.4 562.1,367.9 562.3,347.7 562.4,358.0 562.5,369.3 562.7,375.6 562.8,351.3 562.9,367.5 563.0,359.1 563.2,356.5 563.3,338.6 563.4,361.3 563.6,360.1 563.7,392.0 563.8,346.9 564.0,350.4 564.1,364.5 564.2,399.7 564.3,373.1 564.5,363.2 564.6,331.7 564.7,355.2 564.9,352.1 565.0,351.7 565.1,343.7 565.2,382.2 565.4,377.8 565.5,383.0 565.6,369.1 565.8,370.2 565.9,363.1 566.0,380.7 566.2,363.3 566.3,378.1 566.4,331.8 566.5,373.1 566.7,326.4 566.8,339.4 566.9,383.6 567.1,350.0 567.2,355.5 567.3,388.9 567.4,355.5 567.6,366.4 567.7,359.6 567.8,378.4 568.0,366.1 568.1,358.7 568.2,368.0 568.4,374.7 568.5,367.7 568.6,380.5 568.7,359.9 568.9,404.7 569.0,341.8 569.1,364.3 569.3,357.9 569.4,352.0 569.5,384.7 569.7,329.9 569.8,382.9 569.9,358.1 570.0,360.4 570.2,344.9 570.3,365.6 570.4,387.5 570.6,360.4 570.7,404.0 570.8,368.7 570.9,372.7 571.1,341.2 571.2,370.0 571.3,372.6 571.5,377.4 571.6,379.0 571.7,374.3 571.9,356.3 572.0,386.3 572.1,369.0 572.2,388.6 572.4,368.4 572.5,363.3 572.6,385.1 572.8,374.8 572.9,364.3 573.0,353.9 573.1,351.1 573.3,367.7 573.4,381.6 573.5,391.4 573.7,353.8 573.8,344.2 573.9,360.3 574.1,341.5 574.2,373.0 574.3,372.1 574.4,341.4 574.6,381.7 574.7,356.5 574.8,359.9 575.0,363.6 575.1,338.9 575.2,379.7 575.4,372.7 575.5,398.7 575.6,382.4 575.7,374.0 575.9,372.1 576.0,369.2 576.1,361.3 576.3,376.4 576.4,396.9 576.5,363.6 576.6,359.4 576.8,384.1 576.9,378.2 577.0,338.3 577.2,349.8 577.3,348.8 577.4,355.4 577.6,363.5 577.7,373.8 577.8,356.8 577.9,368.9 578.1,372.6 578.2,365.9 578.3,367.0 578.5,351.8 578.6,380.7 578.7,326.7 578.9,381.4 579.0,372.3 579.1,350.8 579.2,378.7 579.4,373.1 579.5,365.1 579.6,404.4 579.8,373.4 579.9,380.6 580.0,369.3 580.1,357.6 580.3,355.4 580.4,341.8 580.5,342.8 580.7,349.2 580.8,365.9 580.9,349.0 581.1,380.9 581.2,366.8 581.3,342.7 581.4,352.8 581.6,387.1 581.7,374.5 581.8,350.9 582.0,355.4 582.1,348.1 582.2,392.8 582.3,384.9 582.5,368.9 582.6,380.2 582.7,365.4 582.9,364.7 583.0,359.4 583.1,366.8 583.3,355.9 583.4,352.5 583.5,362.3 583.6,383.8 583.8,344.4 583.9,361.2 584.0,357.9 584.2,361.9 584.3,389.8 584.4,355.4 584.6,374.8 584.7,383.7 584.8,344.4 584.9,369.3 585.1,360.0 585.2,350.5 585.3,339.1 585.5,393.0 585.6,376.2 585.7,353.9 585.8,375.0 586.0,403.7 586.1,362.2 586.2,360.9 586.4,352.0 586.5,360.8 586.6,371.3 586.8,361.0 586.9,364.9 587.0,372.3 587.1,360.3 587.3,358.8 587.4,380.2 587.5,348.2 587.7,351.3 587.8,352.0 587.9,403.5 588.0,362.5 588.2,366.3 588.3,380.0 588.4,355.2 588.6,387.9 588.7,345.0 588.8,358.2 589.0,372.2 589.1,342.0 589.2,357.1 589.3,359.1 589.5,384.8 589.6,356.1 589.7,342.3 589.9,347.1 590.0,384.7 590.1,342.6 590.3,339.3 590.4,414.4 590.5,370.5 590.6,388.1 590.8,378.8 590.9,373.7 591.0,360.3 591.2,321.8 591.3,376.3 591.4,390.4 591.5,371.2 591.7,385.6 591.8,343.9 591.9,384.2 592.1,357.4 592.2,352.1 592.3,380.4 592.5,349.3 592.6,367.4 592.7,377.7 592.8,380.2 593.0,363.6 593.1,348.5 593.2,395.3 593.4,355.8 593.5,367.9 593.6,377.4 593.8,367.2 593.9,365.8 594.0,366.5 594.1,352.8 594.3,379.7 594.4,334.6 594.5,351.5 594.7,374.9 594.8,395.8 594.9,365.9 595.0,371.9 595.2,353.8 595.3,354.1 595.4,335.3 595.6,367.4 595.7,352.9 595.8,371.9 596.0,371.1 596.1,341.1 596.2,367.4 596.3,366.9 596.5,370.8 596.6,360.1 596.7,355.8 596.9,367.0 597.0,383.1 597.1,359.8 597.2,378.1 597.4,370.7 597.5,361.7 597.6,361.2 597.8,401.6 597.9,338.4 598.0,352.5 598.2,334.7 598.3,326.2 598.4,379.9 598.5,374.1 598.7,361.4 598.8,350.6 598.9,373.4 599.1,370.4 599.2,348.6 599.3,379.4 599.5,362.2 599.6,348.5 599.7,369.8 599.8,353.5 600.0,367.6 600.1,390.7 600.2,374.4 600.4,369.2 600.5,371.3 600.6,365.7 600.7,360.0 600.9,361.7 601.0,363.5 601.1,373.2 601.3,369.9 601.4,372.4 601.5,375.9 601.7,345.2 601.8,396.6 601.9,363.2 602.0,392.7 602.2,376.5 602.3,354.6 602.4,371.7 602.6,345.4 602.7,382.3 602.8,372.2 603.0,377.5 603.1,367.5 603.2,372.7 603.3,373.8 603.5,366.6 603.6,350.7 603.7,365.7 603.9,367.3 604.0,372.9 604.1,379.5 604.2,391.1 604.4,385.0 604.5,368.2 604.6,398.8 604.8,358.6 604.9,375.5 605.0,383.7 605.2,377.5 605.3,358.7 605.4,363.3 605.5,364.9 605.7,341.3 605.8,332.0 605.9,388.5 606.1,354.4 606.2,379.9 606.3,389.3 606.4,375.8 606.6,351.5 606.7,372.0 606.8,374.4 607.0,344.7 607.1,358.5 607.2,367.5 607.4,337.7 607.5,358.2 607.6,377.1 607.7,382.6 607.9,372.0 608.0,362.7 608.1,350.5 608.3,351.9 608.4,363.3 608.5,383.4 608.7,350.4 608.8,363.6 608.9,382.2 609.0,384.4 609.2,361.7 609.3,359.7 609.4,352.5 609.6,384.4 609.7,335.2 609.8,393.8 609.9,366.0 610.1,344.3 610.2,349.1 610.3,380.4 610.5,355.9 610.6,346.2 610.7,353.9 610.9,380.9 611.0,339.4 611.1,391.1 611.2,365.0 611.4,382.5 611.5,372.5 611.6,371.0 611.8,358.0 611.9,385.7 612.0,362.5 612.1,345.5 612.3,364.7 612.4,357.4 612.5,359.2 612.7,377.7 612.8,371.8 612.9,365.2 613.1,358.5 613.2,334.1 613.3,340.4 613.4,373.3 613.6,372.8 613.7,382.0 613.8,402.4 614.0,345.4 614.1,357.7 614.2,396.7 614.4,365.8 614.5,328.9 614.6,358.3 614.7,358.0 614.9,362.7 615.0,378.0 615.1,384.3 615.3,379.0 615.4,363.6 615.5,369.7 615.6,354.9 615.8,338.1 615.9,356.3 616.0,352.4 616.2,371.2 616.3,386.0 616.4,331.4 616.6,354.1 616.7,346.9 616.8,371.4 616.9,392.3 617.1,344.7 617.2,399.5 617.3,368.2 617.5,374.0 617.6,362.1 617.7,352.9 617.9,352.7 618.0,398.8 618.1,350.1 618.2,395.8 618.4,355.0 618.5,372.6 618.6,383.6 618.8,374.1 618.9,386.5 619.0,365.9 619.1,350.8 619.3,406.0 619.4,365.0 619.5,348.3 619.7,357.7 619.8,331.6 619.9,357.5 620.1,375.1 620.2,370.3 620.3,377.8 620.4,370.4 620.6,368.0 620.7,354.9 620.8,353.4 621.0,364.9 621.1,359.1 621.2,377.4 621.3,374.5 621.5,404.2 621.6,378.1 621.7,373.7 621.9,326.4 622.0,387.3 622.1,364.8 622.3,371.2 622.4,390.9 622.5,361.8 622.6,365.8 622.8,389.1 622.9,402.9 623.0,366.9 623.2,388.7 623.3,355.3 623.4,370.4 623.6,357.5 623.7,370.8 623.8,341.5 623.9,354.9 624.1,341.6 624.2,363.9 624.3,382.0 624.5,388.2 624.6,373.7 624.7,361.1 624.8,375.6 625.0,326.7 625.1,366.6 625.2,358.3 625.4,364.2 625.5,385.5 625.6,348.7 625.8,355.2 625.9,319.5 626.0,380.2 626.1,365.1 626.3,365.9 626.4,346.7 626.5,387.2 626.7,354.5 626.8,345.0 626.9,371.9 627.1,378.1 627.2,344.1 627.3,361.2 627.4,347.1 627.6,353.0 627.7,347.9 627.8,367.8 628.0,398.7 628.1,355.4 628.2,375.8 628.3,355.0 628.5,373.2 628.6,338.8 628.7,368.7 628.9,351.6 629.0,347.1 629.1,366.0 629.3,359.5 629.4,365.0 629.5,379.5 629.6,341.3 629.8,379.4 629.9,389.8 630.0,372.9 630.2,362.8 630.3,363.8 630.4,370.3 630.5,372.1 630.7,399.1 630.8,354.9 630.9,337.2 631.1,376.6 631.2,393.7 631.3,353.1 631.5,367.7 631.6,404.5 631.7,377.1 631.8,388.3 632.0,383.8 632.1,333.1 632.2,349.1 632.4,367.4 632.5,364.6 632.6,339.6 632.8,382.4 632.9,352.9 633.0,375.0 633.1,351.3 633.3,361.1 633.4,376.6 633.5,347.5 633.7,355.9 633.8,335.1 633.9,371.1 634.0,362.3 634.2,375.7 634.3,344.9 634.4,376.8 634.6,364.8 634.7,343.6 634.8,356.1 635.0,359.9 635.1,360.3 635.2,359.2 635.3,354.2 635.5,369.5 635.6,396.6 635.7,343.1 635.9,381.7 636.0,335.0 636.1,360.1 636.2,326.5 636.4,345.7 636.5,357.9 636.6,349.8 636.8,387.2 636.9,361.9 637.0,370.6 637.2,364.5 637.3,397.8 637.4,400.3 637.5,353.3 637.7,364.2 637.8,372.1 637.9,366.5 638.1,375.6 638.2,372.8 638.3,354.1 638.5,368.9 638.6,353.9 638.7,376.6 638.8,394.4 639.0,375.9 639.1,367.5 639.2,383.3 639.4,371.5 639.5,373.4 639.6,350.3 639.7,351.7 639.9,347.6 640.0,377.7 640.1,359.8 640.3,344.5 640.4,362.5 640.5,366.5 640.7,377.7 640.8,351.8 640.9,362.5 641.0,349.1 641.2,367.7 641.3,331.9 641.4,365.7 641.6,385.1 641.7,361.9 641.8,357.4 642.0,344.5 642.1,372.9 642.2,374.0 642.3,369.6 642.5,371.6 642.6,399.5 642.7,353.6 642.9,345.0 643.0,377.5 643.1,381.2 643.2,367.5 643.4,378.4 643.5,352.4 643.6,375.2 643.8,355.2 643.9,385.2 644.0,387.9 644.2,390.2 644.3,388.0 644.4,358.2 644.5,351.4 644.7,362.7 644.8,361.6 644.9,400.7 645.1,347.1 645.2,385.0 645.3,344.1 645.4,326.1 645.6,364.0 645.7,355.0 645.8,355.0 646.0,386.2 646.1,383.2 646.2,376.1 646.4,362.6 646.5,351.5 646.6,363.1 646.7,347.3 646.9,373.2 647.0,387.8 647.1,364.5 647.3,365.9 647.4,387.8 647.5,348.5 647.7,380.3 647.8,376.6 647.9,361.4 648.0,382.3 648.2,355.0 648.3,358.7 648.4,357.6 648.6,364.9 648.7,372.5 648.8,377.1 648.9,359.9 649.1,342.9 649.2,352.2 649.3,358.8 649.5,348.7 649.6,343.4 649.7,384.8 649.9,365.3 650.0,345.0 650.1,375.0 650.2,372.0 650.4,354.6 650.5,368.0 650.6,345.1 650.8,369.4 650.9,354.8 651.0,326.0 651.2,345.9 651.3,386.0 651.4,380.9 651.5,380.4 651.7,365.0 651.8,386.7 651.9,355.3 652.1,336.7 652.2,339.3 652.3,376.5 652.4,368.8 652.6,369.2 652.7,377.7 652.8,337.3 653.0,375.5 653.1,382.4 653.2,358.8 653.4,359.2 653.5,340.2 653.6,340.1 653.7,367.6 653.9,398.1 654.0,353.9 654.1,351.8 654.3,336.0 654.4,389.9 654.5,383.4 654.6,340.0 654.8,338.9 654.9,344.2 655.0,365.3 655.2,344.4 655.3,373.9 655.4,385.0 655.6,366.1 655.7,363.5 655.8,352.3 655.9,347.8 656.1,393.4 656.2,360.8 656.3,357.6 656.5,385.6 656.6,369.7 656.7,364.6 656.9,358.4 657.0,379.2 657.1,375.1 657.2,383.1 657.4,360.1 657.5,370.9 657.6,374.9 657.8,355.4 657.9,368.3 658.0,384.7 658.1,347.5 658.3,350.1 658.4,358.3 658.5,382.1 658.7,348.0 658.8,375.0 658.9,395.4 659.1,367.7 659.2,337.0 659.3,372.7 659.4,356.3 659.6,343.8 659.7,362.6 659.8,370.5 660.0,365.3 660.1,356.3 660.2,373.6 660.3,360.1 660.5,356.7 660.6,371.5 660.7,354.1 660.9,356.6 661.0,370.6 661.1,368.4 661.3,363.7 661.4,367.9 661.5,368.8 661.6,381.6 661.8,363.8 661.9,353.9 662.0,355.4 662.2,378.4 662.3,356.6 662.4,355.8 662.6,379.9 662.7,357.2 662.8,368.1 662.9,371.2 663.1,361.7 663.2,368.6 663.3,400.3 663.5,362.1 663.6,382.9 663.7,366.8 663.8,354.7 664.0,369.0 664.1,372.3 664.2,363.2 664.4,357.6 664.5,378.4 664.6,375.2 664.8,357.5 664.9,340.4 665.0,365.4 665.1,351.7 665.3,376.9 665.4,365.2 665.5,364.3 665.7,385.5 665.8,365.7 665.9,368.3 666.1,403.6 666.2,366.9 666.3,360.9 666.4,361.8 666.6,360.6 666.7,382.9 666.8,377.1 667.0,368.7 667.1,379.2 667.2,373.0 667.3,346.8 667.5,379.5 667.6,371.1 667.7,337.3 667.9,367.8 668.0,381.2 668.1,361.6 668.3,362.7 668.4,363.3 668.5,391.1 668.6,360.9 668.8,359.3 668.9,333.2 669.0,354.5 669.2,371.6 669.3,359.9 669.4,354.3 669.5,366.8 669.7,365.1 669.8,343.3 669.9,356.8 670.1,356.2 670.2,379.0 670.3,357.4 670.5,393.2 670.6,344.8 670.7,370.9 670.8,353.9 671.0,342.0 671.1,380.2 671.2,345.6 671.4,359.9 671.5,345.5 671.6,368.8 671.8,373.8 671.9,343.2 672.0,356.6 672.1,362.3 672.3,380.6 672.4,342.6 672.5,368.1 672.7,366.3 672.8,373.5 672.9,362.7 673.0,353.7 673.2,363.8 673.3,364.2 673.4,371.4 673.6,340.0 673.7,338.0 673.8,367.4 674.0,376.5 674.1,358.9 674.2,387.8 674.3,359.2 674.5,358.8 674.6,360.4 674.7,338.5 674.9,334.8 675.0,356.0 675.1,368.4 675.2,347.1 675.4,345.4 675.5,381.2 675.6,374.0 675.8,366.8 675.9,388.3 676.0,379.9 676.2,337.7 676.3,382.1 676.4,349.8 676.5,375.1 676.7,347.6 676.8,357.8 676.9,349.0 677.1,384.0 677.2,358.3 677.3,371.5 677.5,351.0 677.6,351.8 677.7,360.1 677.8,364.7 678.0,362.9 678.1,358.9 678.2,370.5 678.4,369.4 678.5,372.6 678.6,378.9 678.7,346.8 678.9,383.0 679.0,342.9 679.1,321.4 679.3,389.0 679.4,390.9 679.5,362.4 679.7,379.1 679.8,360.7 679.9,348.2 680.0,357.3 680.2,366.1 680.3,365.6 680.4,340.2 680.6,368.3 680.7,336.1 680.8,331.4 681.0,368.2 681.1,358.0 681.2,336.3 681.3,373.1 681.5,355.9 681.6,346.3 681.7,378.2 681.9,356.6 682.0,360.3 682.1,370.3 682.2,338.6 682.4,364.3 682.5,327.3 682.6,351.2 682.8,372.9 682.9,358.1 683.0,373.8 683.2,349.6 683.3,352.0 683.4,380.2 683.5,368.4 683.7,354.8 683.8,361.1 683.9,377.0 684.1,345.4 684.2,341.2 684.3,384.8 684.4,339.6 684.6,393.4 684.7,364.4 684.8,372.5 685.0,370.9 685.1,359.7 685.2,380.3 685.4,364.1 685.5,336.9 685.6,355.7 685.7,339.9 685.9,349.4 686.0,387.4 686.1,335.5 686.3,349.6 686.4,352.6 686.5,368.3 686.7,370.5 686.8,378.6 686.9,364.9 687.0,360.9 687.2,365.0 687.3,364.9 687.4,392.3 687.6,374.2 687.7,374.7 687.8,358.1 687.9,369.6 688.1,369.7 688.2,361.5 688.3,370.1 688.5,367.2 688.6,346.3 688.7,365.5 688.9,376.8 689.0,353.9 689.1,350.8 689.2,353.5 689.4,383.1 689.5,348.7 689.6,362.4 689.8,361.1 689.9,408.0 690.0,356.1 690.2,355.7 690.3,340.8 690.4,359.4 690.5,364.4 690.7,353.3 690.8,364.7 690.9,346.6 691.1,360.8 691.2,351.9 691.3,370.9 691.4,348.1 691.6,353.7 691.7,375.9 691.8,368.8 692.0,361.9 692.1,383.1 692.2,379.6 692.4,355.9 692.5,355.7 692.6,343.0 692.7,382.7 692.9,368.9 693.0,393.9 693.1,337.0 693.3,383.3 693.4,367.1 693.5,334.4 693.6,342.0 693.8,376.6 693.9,329.5 694.0,356.8 694.2,379.1 694.3,359.8 694.4,354.1 694.6,354.3 694.7,395.9 694.8,336.2 694.9,388.1 695.1,367.2 695.2,342.4 695.3,358.1 695.5,364.6 695.6,373.2 695.7,355.4 695.9,343.3 696.0,372.4 696.1,357.7 696.2,369.7 696.4,370.4 696.5,395.4 696.6,360.2 696.8,349.9 696.9,366.3 697.0,348.2 697.1,361.4 697.3,345.5 697.4,361.7 697.5,369.4 697.7,371.3 697.8,362.4 697.9,359.4 698.1,375.6 698.2,366.1 698.3,383.9 698.4,384.1 698.6,354.2 698.7,358.4 698.8,350.5 699.0,361.7 699.1,360.2 699.2,336.3 699.3,376.5 699.5,359.6 699.6,340.4 699.7,333.5 699.9,355.6 700.0,365.7 700.1,379.9 700.3,366.5 700.4,361.9 700.5,363.9 700.6,356.7 700.8,355.7 700.9,371.4 701.0,377.7 701.2,368.7 701.3,357.9 701.4,340.0 701.6,388.9 701.7,348.5 701.8,368.8 701.9,348.2 702.1,336.5 702.2,357.2 702.3,381.8 702.5,371.0 702.6,359.4 702.7,369.7 702.8,365.9 703.0,376.4 703.1,368.2 703.2,374.2 703.4,352.2 703.5,360.5 703.6,354.0 703.8,389.4 703.9,371.8 704.0,376.2 704.1,371.6 704.3,378.2 704.4,376.0 704.5,341.7 704.7,369.2 704.8,383.9 704.9,369.6 705.1,331.8 705.2,354.7 705.3,379.1 705.4,369.0 705.6,366.4 705.7,364.9 705.8,393.0 706.0,379.6 706.1,368.0 706.2,391.1 706.3,368.3 706.5,364.5 706.6,354.1 706.7,349.9 706.9,368.4 707.0,362.3 707.1,355.6 707.3,350.6 707.4,364.6 707.5,376.8 707.6,356.9 707.8,353.0 707.9,363.5 708.0,357.2 708.2,342.0 708.3,373.1 708.4,376.1 708.5,381.8 708.7,360.4 708.8,351.5 708.9,373.1 709.1,338.7 709.2,374.3 709.3,361.6 709.5,367.3 709.6,345.0 709.7,375.0 709.8,341.1 710.0,368.2 710.1,385.5 710.2,374.0 710.4,368.0 710.5,340.7 710.6,372.8 710.8,365.8 710.9,334.8 711.0,363.4 711.1,375.1 711.3,376.7 711.4,388.9 711.5,360.5 711.7,347.8 711.8,371.3 711.9,381.6 712.0,361.8 712.2,365.9 712.3,368.1 712.4,359.4 712.6,365.6 712.7,371.6 712.8,351.3 713.0,393.8 713.1,383.0 713.2,370.4 713.3,386.5 713.5,343.9 713.6,399.0 713.7,355.9 713.9,358.0 714.0,361.4 714.1,360.1 714.3,375.0 714.4,377.2 714.5,345.4 714.6,368.8 714.8,388.4 714.9,385.0 715.0,389.6 715.2,362.6 715.3,349.6 715.4,371.3 715.5,364.5 715.7,374.1 715.8,353.3 715.9,353.4 716.1,352.5 716.2,339.5 716.3,384.6 716.5,354.2 716.6,389.2 716.7,355.2 716.8,353.8 717.0,355.0 717.1,353.8 717.2,367.7 717.4,375.1 717.5,354.2 717.6,374.9 717.7,355.0 717.9,378.1 718.0,360.4 718.1,361.1 718.3,377.8 718.4,370.1 718.5,351.8 718.7,364.9 718.8,357.6 718.9,373.5 719.0,363.6 719.2,387.1 719.3,376.7 719.4,346.7 719.6,357.1 719.7,365.0 719.8,363.1 720.0,385.1 720.1,359.0 720.2,383.4 720.3,376.1 720.5,355.0 720.6,376.2 720.7,373.0 720.9,366.7 721.0,363.9 721.1,345.6 721.2,390.7 721.4,371.6 721.5,356.9 721.6,372.8 721.8,371.5 721.9,377.7 722.0,319.3 722.2,356.1 722.3,347.3 722.4,360.5 722.5,345.3 722.7,364.2 722.8,390.1 722.9,354.5 723.1,395.4 723.2,366.5 723.3,365.7 723.4,382.4 723.6,368.7 723.7,373.6 723.8,363.5 724.0,370.1 724.1,356.6 724.2,371.2 724.4,356.6 724.5,365.6 724.6,362.0 724.7,363.8 724.9,372.6 725.0,349.1 725.1,356.9 725.3,398.9 725.4,383.4 725.5,340.4 725.7,369.5 725.8,326.7 725.9,359.0 726.0,358.7 726.2,372.2 726.3,368.6 726.4,363.0 726.6,352.0 726.7,363.9 726.8,366.0 726.9,379.9 727.1,372.3 727.2,371.7 727.3,367.5 727.5,376.4 727.6,321.5 727.7,370.3 727.9,402.0 728.0,388.1 728.1,378.1 728.2,360.4 728.4,376.5 728.5,382.4 728.6,356.6 728.8,368.5 728.9,346.8 729.0,369.9 729.2,377.3 729.3,372.4 729.4,341.0 729.5,344.5 729.7,364.8 729.8,351.9 729.9,387.5 730.1,348.8 730.2,405.3 730.3,368.5 730.4,366.9 730.6,363.6 730.7,373.9 730.8,373.0 731.0,385.3 731.1,344.8 731.2,380.8 731.4,370.2 731.5,353.0 731.6,350.3 731.7,347.3 731.9,377.0 732.0,375.0 732.1,369.6 732.3,395.7 732.4,356.0 732.5,392.8 732.6,371.0 732.8,355.9 732.9,356.9 733.0,375.7 733.2,355.9 733.3,353.5 733.4,393.9 733.6,373.1 733.7,359.7 733.8,362.9 733.9,372.4 734.1,370.9 734.2,335.5 734.3,374.6 734.5,353.7 734.6,386.6 734.7,361.4 734.9,353.8 735.0,375.0 735.1,377.8 735.2,341.5 735.4,371.3 735.5,353.3 735.6,389.2 735.8,343.0 735.9,396.8 736.0,381.1 736.1,376.1 736.3,313.6 736.4,364.2 736.5,343.5 736.7,336.3 736.8,339.1 736.9,354.4 737.1,363.3 737.2,396.6 737.3,367.5 737.4,374.7 737.6,357.0 737.7,380.9 737.8,378.3 738.0,376.9 738.1,356.5 738.2,363.5 738.3,381.0 738.5,391.3 738.6,374.3 738.7,375.3 738.9,413.0 739.0,364.8 739.1,355.3 739.3,354.4 739.4,375.8 739.5,377.1 739.6,343.6 739.8,369.4 739.9,355.2 740.0,362.9 740.2,360.0 740.3,342.2 740.4,369.0 740.6,349.2 740.7,357.5 740.8,367.5 740.9,372.1 741.1,372.9 741.2,348.2 741.3,350.5 741.5,377.5 741.6,359.2 741.7,391.7 741.8,364.2 742.0,334.8 742.1,382.5 742.2,360.5 742.4,374.0 742.5,363.7 742.6,380.6 742.8,362.2 742.9,399.3 743.0,368.8 743.1,369.7 743.3,366.4 743.4,335.2 743.5,382.2 743.7,375.3 743.8,385.3 743.9,357.8 744.1,365.0 744.2,382.6 744.3,351.4 744.4,361.2 744.6,344.2 744.7,354.1 744.8,364.1 745.0,377.0 745.1,397.3 745.2,374.3 745.3,348.7 745.5,369.0 745.6,378.0 745.7,361.9 745.9,354.6 746.0,325.8 746.1,380.2 746.3,370.8 746.4,382.5 746.5,376.5 746.6,352.2 746.8,367.4 746.9,387.5 747.0,325.0 747.2,339.5 747.3,354.1 747.4,380.7 747.5,381.8 747.7,346.8 747.8,381.0 747.9,374.4 748.1,387.7 748.2,337.5 748.3,376.0 748.5,368.5 748.6,377.2 748.7,376.2 748.8,383.5 749.0,349.6 749.1,376.4 749.2,344.5 749.4,385.3 749.5,359.1 749.6,351.8 749.8,383.5 749.9,362.7 750.0,374.8 750.1,382.8 750.3,372.7 750.4,394.5 750.5,370.9 750.7,389.6 750.8,356.6 750.9,343.8 751.0,345.5 751.2,377.5 751.3,368.6 751.4,336.9 751.6,347.3 751.7,357.0 751.8,398.4 752.0,371.4 752.1,333.0 752.2,359.3 752.3,373.0 752.5,365.0 752.6,330.1 752.7,346.8 752.9,385.6 753.0,383.4 753.1,365.6 753.3,346.6 753.4,377.6 753.5,374.8 753.6,403.3 753.8,375.7 753.9,357.2 754.0,357.2 754.2,388.7 754.3,354.5 754.4,379.3 754.5,388.4 754.7,359.3 754.8,391.9 754.9,374.3 755.1,380.5 755.2,369.6 755.3,364.1 755.5,374.2 755.6,380.3 755.7,375.4 755.8,403.2 756.0,369.4 756.1,336.0 756.2,361.7 756.4,349.3 756.5,366.6 756.6,366.3 756.7,359.5 756.9,356.0 757.0,356.4 757.1,378.9 757.3,365.8 757.4,388.9 757.5,350.2 757.7,366.5 757.8,370.3 757.9,385.3 758.0,358.7 758.2,350.6 758.3,358.0 758.4,348.9 758.6,377.6 758.7,351.5 758.8,365.7 759.0,403.2 759.1,361.2 759.2,380.8 759.3,367.7 759.5,375.6 759.6,378.8 759.7,349.1 759.9,373.7 760.0,362.4 760.1,354.4 760.2,370.9 760.4,384.0 760.5,363.8 760.6,366.2 760.8,378.5 760.9,362.8 761.0,319.3 761.2,349.5 761.3,340.5 761.4,342.9 761.5,361.1 761.7,363.9 761.8,380.8 761.9,345.8 762.1,372.8 762.2,355.2 762.3,338.4 762.4,362.1 762.6,386.9 762.7,380.0 762.8,369.4 763.0,343.5 763.1,369.1 763.2,366.2 763.4,380.7 763.5,358.8 763.6,362.7 763.7,351.8 763.9,378.9 764.0,355.0 764.1,386.3 764.3,374.9 764.4,373.1 764.5,367.8 764.7,358.7 764.8,400.8 764.9,366.2 765.0,371.1 765.2,385.6 765.3,369.8 765.4,358.1 765.6,372.1 765.7,372.6 765.8,354.5 765.9,376.6 766.1,348.7 766.2,359.0 766.3,358.2 766.5,355.7 766.6,345.5 766.7,375.8 766.9,347.0 767.0,378.3 767.1,358.9 767.2,355.3 767.4,362.3 767.5,381.8 767.6,383.4 767.8,381.7 767.9,365.3 768.0,361.9 768.2,356.0 768.3,388.2 768.4,359.7 768.5,348.8 768.7,362.0 768.8,364.7 768.9,351.9 769.1,340.1 769.2,341.5 769.3,340.7 769.4,383.9 769.6,342.0 769.7,369.0 769.8,351.2 770.0,373.4 770.1,358.4 770.2,373.0 770.4,368.6 770.5,334.4 770.6,382.6 770.7,349.0 770.9,363.1 771.0,381.2 771.1,343.8 771.3,363.6 771.4,372.6 771.5,358.9 771.6,376.4 771.8,338.3 771.9,386.9 772.0,371.9 772.2,394.9 772.3,360.2 772.4,351.3 772.6,349.7 772.7,340.1 772.8,364.0 772.9,370.9 773.1,349.6 773.2,373.1 773.3,358.6 773.5,371.0 773.6,375.0 773.7,364.6 773.9,346.5 774.0,349.7 774.1,361.5 774.2,404.0 774.4,363.4 774.5,357.7 774.6,355.2 774.8,374.6 774.9,348.0 775.0,358.4 775.1,392.8 775.3,352.0 775.4,338.3 775.5,359.4 775.7,375.6 775.8,335.4 775.9,347.9 776.1,391.7 776.2,347.2 776.3,357.2 776.4,359.1 776.6,390.8 776.7,389.6 776.8,361.0 777.0,334.1 777.1,361.2 777.2,362.4 777.4,373.5 777.5,370.1 777.6,348.1 777.7,376.1 777.9,335.2 778.0,357.0 778.1,359.6 778.3,366.6 778.4,375.9 778.5,368.8 778.6,387.5 778.8,364.1 778.9,394.7 779.0,331.3 779.2,366.6 779.3,389.5 779.4,362.0 779.6,364.3 779.7,374.8 779.8,362.4 779.9,378.9 780.1,368.5 780.2,369.4 780.3,405.9 780.5,375.2 780.6,362.2 780.7,404.3 780.8,349.9 781.0,406.3 781.1,358.0 781.2,370.3 781.4,352.7 781.5,366.9 781.6,363.1 781.8,365.0 781.9,374.5 782.0,380.2 782.1,357.7 782.3,356.2 782.4,366.7 782.5,346.5 782.7,363.8 782.8,358.2 782.9,348.7 783.1,354.6 783.2,368.5 783.3,382.5 783.4,377.4 783.6,381.9 783.7,353.4 783.8,404.4 784.0,334.5 784.1,379.4 784.2,348.9 784.3,360.9 784.5,357.2 784.6,385.7 784.7,349.4 784.9,367.0 785.0,355.8 785.1,380.0 785.3,366.0 785.4,376.4 785.5,360.5 785.6,354.8 785.8,368.9 785.9,358.5 786.0,357.4 786.2,366.4 786.3,369.7 786.4,395.4 786.5,349.1 786.7,362.9 786.8,369.4 786.9,362.3 787.1,373.6 787.2,370.4 787.3,357.8 787.5,388.9 787.6,370.3 787.7,361.8 787.8,389.7 788.0,382.3 788.1,346.0 788.2,331.6 788.4,360.7 788.5,355.0 788.6,378.6 788.8,344.4 788.9,366.1 789.0,363.8 789.1,358.9 789.3,374.0 789.4,376.1 789.5,365.7 789.7,381.7 789.8,374.3 789.9,404.9 790.0,381.0 790.2,358.3 790.3,348.4 790.4,356.1 790.6,378.5 790.7,364.4 790.8,380.3 791.0,382.2 791.1,350.5 791.2,371.5 791.3,370.8 791.5,362.9 791.6,351.4 791.7,363.8 791.9,369.4 792.0,360.4 792.1,366.8 792.3,370.2 792.4,399.5 792.5,378.8 792.6,367.3 792.8,380.9 792.9,336.6 793.0,329.7 793.2,338.6 793.3,378.6 793.4,357.1 793.5,358.2 793.7,359.1 793.8,389.0 793.9,350.2 794.1,338.3 794.2,351.8 794.3,331.7 794.5,368.9 794.6,353.6 794.7,344.2 794.8,378.3 795.0,366.0 795.1,375.6 795.2,350.5 795.4,381.4 795.5,359.3 795.6,372.2 795.7,350.2 795.9,371.9 796.0,366.4 796.1,360.1 796.3,375.6 796.4,370.7 796.5,367.8 796.7,371.9 796.8,360.3 796.9,376.1 797.0,363.2 797.2,369.4 797.3,374.7 797.4,382.0 797.6,394.2 797.7,376.3 797.8,357.3 798.0,371.2 798.1,343.0 798.2,381.2 798.3,372.3 798.5,390.8 798.6,349.3 798.7,387.4 798.9,360.1 799.0,362.5 799.1,327.9 799.2,346.5 799.4,354.8 799.5,364.7 799.6,338.0 799.8,372.3 799.9,385.6 800.0,353.2 800.2,367.6 800.3,377.4 800.4,361.4 800.5,358.8 800.7,390.4 800.8,351.7 800.9,336.1 801.1,372.5 801.2,389.6 801.3,362.5 801.5,368.4 801.6,354.5 801.7,352.3 801.8,368.3 802.0,343.0 802.1,396.0 802.2,377.2 802.4,363.5 802.5,360.2 802.6,367.7 802.7,359.3 802.9,386.2 803.0,401.8 803.1,353.5 803.3,345.6 803.4,366.1 803.5,384.0 803.7,376.9 803.8,356.7 803.9,362.7 804.0,345.6 804.2,340.4 804.3,346.8 804.4,369.3 804.6,349.5 804.7,357.9 804.8,362.4 804.9,362.9 805.1,367.1 805.2,381.5 805.3,360.1 805.5,377.7 805.6,366.6 805.7,353.5 805.9,353.9 806.0,394.5 806.1,376.4 806.2,382.9 806.4,361.8 806.5,377.4 806.6,351.6 806.8,373.1 806.9,359.0 807.0,381.2 807.2,377.6 807.3,370.5 807.4,359.5 807.5,398.0 807.7,365.1 807.8,388.7 807.9,363.7 808.1,394.0 808.2,373.1 808.3,348.0 808.4,344.1 808.6,382.1 808.7,340.3 808.8,373.1 809.0,366.0 809.1,358.7 809.2,364.9 809.4,361.1 809.5,363.6 809.6,353.3 809.7,363.2 809.9,373.4 810.0,382.2 810.1,382.8 810.3,368.0 810.4,355.8 810.5,361.9 810.6,371.5 810.8,360.1 810.9,375.5 811.0,364.9 811.2,359.7 811.3,372.4 811.4,346.2 811.6,349.5 811.7,371.1 811.8,357.0 811.9,363.6 812.1,361.5 812.2,361.6 812.3,346.2 812.5,361.3 812.6,361.6 812.7,351.8 812.9,352.3 813.0,339.6 813.1,378.2 813.2,355.4 813.4,393.5 813.5,364.9 813.6,384.9 813.8,385.4 813.9,367.1 814.0,381.6 814.1,369.7 814.3,404.0 814.4,344.3 814.5,404.0 814.7,375.5 814.8,339.4 814.9,386.1 815.1,339.2 815.2,348.3 815.3,366.3 815.4,370.6 815.6,369.4 815.7,360.8 815.8,350.1 816.0,344.7 816.1,397.1 816.2,351.6 816.4,355.4 816.5,383.6 816.6,351.2 816.7,350.7 816.9,350.9 817.0,365.9 817.1,352.8 817.3,346.3 817.4,374.8 817.5,372.4 817.6,373.7 817.8,346.7 817.9,364.4 818.0,375.9 818.2,380.5 818.3,384.3 818.4,361.4 818.6,351.9 818.7,345.4 818.8,380.1 818.9,379.7 819.1,379.5 819.2,378.2 819.3,388.1 819.5,341.6 819.6,358.0 819.7,373.0 819.8,403.8 820.0,344.5 820.1,353.5 820.2,363.5 820.4,354.5 820.5,375.9 820.6,355.6 820.8,373.9 820.9,358.6 821.0,367.9 821.1,385.7 821.3,382.1 821.4,349.2 821.5,350.5 821.7,368.6 821.8,376.6 821.9,372.8 822.1,360.0 822.2,386.9 822.3,351.1 822.4,378.4 822.6,383.2 822.7,366.4 822.8,336.6 823.0,376.7 823.1,371.8 823.2,383.8 823.3,362.2 823.5,361.9 823.6,366.2 823.7,372.1 823.9,360.5 824.0,353.9 824.1,373.1 824.3,370.1 824.4,376.2 824.5,374.9 824.6,348.1 824.8,381.9 824.9,363.9 825.0,350.7 825.2,374.4 825.3,357.9 825.4,355.5 825.5,389.2 825.7,411.7 825.8,382.5 825.9,365.1 826.1,390.5 826.2,391.9 826.3,371.0 826.5,342.3 826.6,327.8 826.7,326.9 826.8,346.1 827.0,348.6 827.1,408.8 827.2,356.5 827.4,372.3 827.5,373.7 827.6,360.2 827.8,359.5 827.9,376.2 828.0,385.0 828.1,377.9 828.3,327.1 828.4,377.5 828.5,344.3 828.7,347.8 828.8,350.0 828.9,376.1 829.0,426.0 829.2,362.1 829.3,375.9 829.4,377.7 829.6,368.9 829.7,334.0 829.8,386.7 830.0,377.2 830.1,366.6 830.2,359.2 830.3,383.3 830.5,382.2 830.6,375.5 830.7,356.6 830.9,369.6 831.0,370.5 831.1,364.0 831.3,365.4 831.4,352.5 831.5,378.4 831.6,367.1 831.8,377.1 831.9,355.9 832.0,354.4 832.2,370.9 832.3,348.9 832.4,370.1 832.5,345.5 832.7,373.1 832.8,373.9 832.9,390.1 833.1,382.8 833.2,373.1 833.3,324.9 833.5,367.5 833.6,353.9 833.7,358.8 833.8,364.2 834.0,356.8 834.1,376.0 834.2,374.6 834.4,424.3 834.5,369.3 834.6,351.8 834.7,374.6 834.9,356.6 835.0,347.9 835.1,368.5 835.3,340.9 835.4,343.0 835.5,404.6 835.7,327.6 835.8,392.1 835.9,328.9 836.0,381.0 836.2,399.9 836.3,388.1 836.4,360.0 836.6,382.9 836.7,376.0 836.8,348.3 837.0,382.8 837.1,359.5 837.2,347.4 837.3,395.9 837.5,385.4 837.6,363.7 837.7,367.2 837.9,362.6 838.0,398.3 838.1,380.2 838.2,360.9 838.4,357.8 838.5,347.2 838.6,372.9 838.8,378.2 838.9,382.1 839.0,381.4 839.2,398.8 839.3,340.6 839.4,373.9 839.5,378.1 839.7,377.0 839.8,358.5 839.9,365.6 840.1,379.4 840.2,351.6 840.3,363.1 840.5,370.3 840.6,367.4 840.7,349.0 840.8,356.4 841.0,368.8 841.1,351.1 841.2,401.0 841.4,356.1 841.5,380.4 841.6,377.0 841.7,371.0 841.9,338.0 842.0,369.8 842.1,369.4 842.3,357.9 842.4,398.5 842.5,370.8 842.7,356.5 842.8,382.6 842.9,358.0 843.0,378.9 843.2,390.5 843.3,353.2 843.4,365.7 843.6,355.0 843.7,364.1 843.8,383.5 843.9,350.8 844.1,359.9 844.2,360.0 844.3,372.4 844.5,383.4 844.6,343.8 844.7,353.8 844.9,363.1 845.0,375.2 845.1,345.0 845.2,379.0 845.4,377.7 845.5,332.5 845.6,356.2 845.8,351.3 845.9,354.4 846.0,332.7 846.2,359.2 846.3,357.7 846.4,379.0 846.5,364.7 846.7,389.1 846.8,371.3 846.9,365.7 847.1,354.2 847.2,344.4 847.3,376.0 847.4,382.1 847.6,361.2 847.7,379.0 847.8,339.1 848.0,345.9 848.1,380.7 848.2,362.0 848.4,345.5 848.5,379.7 848.6,373.1 848.7,366.7 848.9,344.4 849.0,358.2 849.1,369.3 849.3,360.5 849.4,365.0 849.5,362.9 849.6,358.2 849.8,362.0 849.9,355.6 850.0,365.6 850.2,370.1 850.3,370.6 850.4,390.6 850.6,373.5 850.7,338.2 850.8,366.9 850.9,358.1 851.1,352.8 851.2,373.7 851.3,371.5 851.5,358.2 851.6,380.6 851.7,352.3 851.9,355.8 852.0,362.6 852.1,362.4 852.2,355.0 852.4,313.6 852.5,404.4 852.6,358.2 852.8,380.6 852.9,373.7 853.0,372.6 853.1,372.5 853.3,391.9 853.4,395.3 853.5,367.0 853.7,365.1 853.8,359.2 853.9,385.3 854.1,370.3 854.2,353.3 854.3,371.2 854.4,374.5 854.6,334.0 854.7,391.1 854.8,377.8 855.0,382.3 855.1,373.0 855.2,326.3 855.4,381.3 855.5,369.5 855.6,373.5 855.7,377.1 855.9,352.3 856.0,372.1 856.1,348.4 856.3,343.0 856.4,372.4 856.5,343.0 856.6,383.2 856.8,359.6 856.9,348.6 857.0,380.4 857.2,365.4 857.3,357.0 857.4,355.4 857.6,359.0 857.7,333.4 857.8,366.5 857.9,345.6 858.1,331.3 858.2,373.8 858.3,370.7 858.5,380.3 858.6,353.2 858.7,342.2 858.8,391.3 859.0,378.6 859.1,373.8 859.2,329.7 859.4,370.0 859.5,358.3 859.6,382.9 859.8,350.6 859.9,380.5 860.0,365.2 860.1,380.2 860.3,365.6 860.4,366.4 860.5,360.7 860.7,360.9 860.8,336.1 860.9,375.5 861.1,343.5 861.2,359.2 861.3,366.8 861.4,359.3 861.6,360.1 861.7,350.9 861.8,351.4 862.0,354.5 862.1,359.9 862.2,388.6 862.3,350.7 862.5,346.7 862.6,358.1 862.7,359.2 862.9,377.0 863.0,359.6 863.1,350.5 863.3,384.3 863.4,371.3 863.5,372.3 863.6,344.9 863.8,371.2 863.9,392.3 864.0,362.1 864.2,344.0 864.3,367.0 864.4,371.3 864.6,361.2 864.7,338.4 864.8,368.6 864.9,368.7 865.1,358.2 865.2,376.7 865.3,390.9 865.5,362.4 865.6,370.3 865.7,359.2 865.8,362.7 866.0,356.6 866.1,325.3 866.2,359.8 866.4,378.9 866.5,359.4 866.6,371.5 866.8,338.9 866.9,378.6 867.0,399.9 867.1,363.0 867.3,372.1 867.4,379.3 867.5,361.8 867.7,339.8 867.8,367.8 867.9,376.1 868.0,343.5 868.2,348.1 868.3,365.2 868.4,374.0 868.6,354.6 868.7,376.4 868.8,375.4 869.0,378.4 869.1,357.6 869.2,342.7 869.3,365.1 869.5,338.7 869.6,396.3 869.7,366.6 869.9,392.5 870.0,352.6 870.1,346.6 870.3,393.9 870.4,378.3 870.5,365.7 870.6,389.6 870.8,380.4 870.9,382.5 871.0,366.2 871.2,379.0 871.3,385.2 871.4,380.0 871.5,369.6 871.7,366.8 871.8,371.0 871.9,349.6 872.1,373.8 872.2,366.7 872.3,359.1 872.5,373.6 872.6,347.8 872.7,356.5 872.8,356.1 873.0,381.6 873.1,370.2 873.2,359.4 873.4,351.9 873.5,377.5 873.6,375.8 873.7,388.0 873.9,390.8 874.0,351.2 874.1,367.9 874.3,359.3 874.4,351.1 874.5,367.9 874.7,365.8 874.8,383.2 874.9,376.6 875.0,360.8 875.2,346.1 875.3,351.7 875.4,377.7 875.6,378.8 875.7,356.5 875.8,359.8 876.0,358.8 876.1,363.1 876.2,347.6 876.3,362.7 876.5,344.9 876.6,358.6 876.7,366.4 876.9,383.6 877.0,361.8 877.1,353.0 877.2,363.9 877.4,381.3 877.5,394.7 877.6,370.8 877.8,339.9 877.9,383.5 878.0,373.6 878.2,364.0 878.3,351.9 878.4,381.3 878.5,365.9 878.7,362.1 878.8,384.3 878.9,360.4 879.1,382.1 879.2,364.0 879.3,357.1 879.5,365.2 879.6,385.3 879.7,356.0 879.8,355.6 880.0,364.2 880.1,354.1 880.2,373.4 880.4,379.0 880.5,369.3 880.6,359.2 880.7,353.1 880.9,377.0 881.0,363.4 881.1,364.1 881.3,374.0 881.4,397.1 881.5,392.4 881.7,352.6 881.8,389.7 881.9,394.0 882.0,388.8 882.2,372.2 882.3,347.8 882.4,361.5 882.6,374.4 882.7,372.0 882.8,360.7 882.9,366.5 883.1,393.7 883.2,348.8 883.3,353.3 883.5,383.3 883.6,370.7 883.7,360.5 883.9,362.9 884.0,372.1 884.1,365.9 884.2,339.6 884.4,371.4 884.5,352.0 884.6,362.9 884.8,384.1 884.9,357.0 885.0,361.2 885.2,349.0 885.3,342.3 885.4,350.5 885.5,326.5 885.7,358.2 885.8,353.6 885.9,378.3 886.1,381.3 886.2,354.5 886.3,383.1 886.4,370.4 886.6,339.3 886.7,352.5 886.8,347.5 887.0,366.8 887.1,348.9 887.2,378.9 887.4,378.5 887.5,369.0 887.6,377.0 887.7,347.0 887.9,369.0 888.0,384.2 888.1,353.1 888.3,355.8 888.4,348.7 888.5,384.6 888.7,379.6 888.8,400.8 888.9,361.2 889.0,368.1 889.2,375.6 889.3,346.7 889.4,378.5 889.6,374.8 889.7,380.5 889.8,382.7 889.9,368.1 890.1,370.3 890.2,372.9 890.3,384.5 890.5,388.0 890.6,377.0 890.7,368.9 890.9,381.2 891.0,374.5 891.1,373.4 891.2,382.3 891.4,390.8 891.5,370.4 891.6,344.0 891.8,360.7 891.9,369.7 892.0,378.4 892.1,377.4 892.3,351.6 892.4,384.9 892.5,340.4 892.7,366.4 892.8,362.4 892.9,372.2 893.1,352.3 893.2,352.5 893.3,377.8 893.4,338.9 893.6,363.7 893.7,389.1 893.8,359.0 894.0,361.5 894.1,363.6 894.2,353.3 894.4,349.8 894.5,384.4 894.6,369.5 894.7,368.5 894.9,365.7 895.0,393.6 895.1,362.6 895.3,365.5 895.4,337.3 895.5,379.4 895.6,373.9 895.8,359.6 895.9,366.6 896.0,353.1 896.2,348.1 896.3,380.0 896.4,364.9 896.6,356.6 896.7,377.9 896.8,332.6 896.9,361.9 897.1,364.0 897.2,389.7 897.3,376.9 897.5,397.0 897.6,356.4 897.7,427.7 897.8,365.7 898.0,361.1 898.1,363.9 898.2,373.2 898.4,355.7 898.5,384.1 898.6,395.7 898.8,389.7 898.9,355.8 899.0,345.9 899.1,377.7 899.3,375.8 899.4,361.4 899.5,388.1 899.7,375.4 899.8,389.8 899.9,367.0 900.1,406.1 900.2,391.3 900.3,394.8 900.4,369.4 900.6,360.9 900.7,368.9"/>
<rect x="21" y="7" width="89" height="17" fill="#ffff00"/>
<path d="M3.6 0.4 L1.0 3.6 M2.6 1.9 H11.2 M2.9 4.1 H9.6 M2.9 4.1 L2.3 9.7 M9.6 4.1 L9.3 10.6 L8.1 11.3 M0.4 7.0 H11.6 M2.0 9.7 H10.8 M5.4 4.9 L6.2 6.0 M5.3 7.9 L6.1 9.0" transform="translate(21.7 10.8) scale(0.97)" fill="none" stroke="#000" stroke-width="1.0" stroke-linecap="square"/>
<path d="M6.0 0.4 L0.5 5.8 M6.0 0.4 L11.5 5.8 M6.0 4.4 V11.9" transform="translate(34.2 10.9) scale(0.97)" fill="none" stroke="#000" stroke-width="1.0" stroke-linecap="square"/>
<text x="47.2" y="21.6" font-size="13" fill="#000" textLength="25.6" lengthAdjust="spacingAndGlyphs">step</text>
<path d="M3.1 0.2 L2.3 2.0 M0.9 2.7 V11.6 M0.9 2.7 H4.9 V11.6 M0.9 6.9 H4.9 M0.9 10.9 H4.9 M7.6 0.3 L6.2 4.2 M6.8 2.9 H11.0 L10.8 10.6 L9.4 11.6 M7.4 5.9 L8.6 7.7" transform="translate(74.0 10.7) scale(0.97)" fill="none" stroke="#000" stroke-width="1.0" stroke-linecap="square"/>
<text x="86.4" y="21.6" font-size="13" fill="#000" textLength="23.2" lengthAdjust="spacingAndGlyphs">loss</text>
<rect x="481" y="6" width="140" height="17" fill="#ffff00"/>
<path d="M3.6 0.4 L1.0 3.6 M2.6 1.9 H11.2 M2.9 4.1 H9.6 M2.9 4.1 L2.3 9.7 M9.6 4.1 L9.3 10.6 L8.1 11.3 M0.4 7.0 H11.6 M2.0 9.7 H10.8 M5.4 4.9 L6.2 6.0 M5.3 7.9 L6.1 9.0" transform="translate(481.0 9.6) scale(0.97)" fill="none" stroke="#000" stroke-width="1.0" stroke-linecap="square"/>
<path d="M6.0 0.4 L0.5 5.8 M6.0 0.4 L11.5 5.8 M6.0 4.4 V11.9" transform="translate(493.6 9.7) scale(0.97)" fill="none" stroke="#000" stroke-width="1.0" stroke-linecap="square"/>
<text x="506.4" y="20.6" font-size="13" fill="#000" textLength="25.6" lengthAdjust="spacingAndGlyphs">step</text>
<path d="M3.1 0.2 L2.3 2.0 M0.9 2.7 V11.6 M0.9 2.7 H4.9 V11.6 M0.9 6.9 H4.9 M0.9 10.9 H4.9 M7.6 0.3 L6.2 4.2 M6.8 2.9 H11.0 L10.8 10.6 L9.4 11.6 M7.4 5.9 L8.6 7.7" transform="translate(532.9 9.6) scale(0.97)" fill="none" stroke="#000" stroke-width="1.0" stroke-linecap="square"/>
<text x="545.3" y="20.6" font-size="13" fill="#000" textLength="75.2" lengthAdjust="spacingAndGlyphs">global norm</text>
<text x="226.2" y="23.6" text-anchor="middle" font-size="21" font-weight="bold" fill="#262626" transform="translate(226.2 0) scale(0.728 1) translate(-226.2 0)" stroke="#262626" stroke-width="1.0">Loss Chart</text>
<text x="685" y="22" text-anchor="middle" font-size="22.2" font-weight="bold" fill="#262626" transform="translate(685 0) scale(0.72 1) translate(-685 0)" stroke="#262626" stroke-width="1.0">Loss Chart</text>
<text x="226.7" y="276" text-anchor="middle" font-size="21" font-weight="bold" fill="#262626" transform="translate(226.7 0) scale(0.77 1) translate(-226.7 0)" stroke="#262626" stroke-width="1.0">Comparison Chart</text>
<text x="685" y="276" text-anchor="middle" font-size="21" font-weight="bold" fill="#262626" transform="translate(685 0) scale(0.77 1) translate(-685 0)" stroke="#262626" stroke-width="1.0">Comparison Chart</text>
<line x1="96" y1="233" x2="105.5" y2="233" stroke="#4f81bd" stroke-width="1.7"/>
<text x="108.3" y="236.4" font-size="9.5" fill="#1e1e1e" textLength="94.3" lengthAdjust="spacingAndGlyphs">npu_1p_fp32_lr_0.txt</text>
<line x1="209" y1="233" x2="219" y2="233" stroke="#c0504d" stroke-width="1.7"/>
<text x="221.3" y="236.4" font-size="9.5" fill="#1e1e1e" textLength="135.3" lengthAdjust="spacingAndGlyphs">gpu_1p_fp32_emb_lr0_final.txt</text>
<line x1="553" y1="232.5" x2="563" y2="232.5" stroke="#4f81bd" stroke-width="1.7"/>
<text x="565.4" y="235.9" font-size="9.5" fill="#1e1e1e" textLength="94.4" lengthAdjust="spacingAndGlyphs">npu_1p_fp32_lr_0.txt</text>
<line x1="668" y1="232.5" x2="677" y2="232.5" stroke="#c0504d" stroke-width="1.7"/>
<text x="679.8" y="235.9" font-size="9.5" fill="#1e1e1e" textLength="135.7" lengthAdjust="spacingAndGlyphs">gpu_1p_fp32_emb_lr0_final.txt</text>
<line x1="209.6" y1="486" x2="219.7" y2="486" stroke="#4f81bd" stroke-width="1.7"/>
<text x="221.7" y="489.4" font-size="9.5" fill="#1e1e1e" textLength="23" lengthAdjust="spacingAndGlyphs">Error</text>
<line x1="668.3" y1="486.7" x2="678" y2="486.7" stroke="#4f81bd" stroke-width="1.7"/>
<text x="680.7" y="490.09999999999997" font-size="9.5" fill="#1e1e1e" textLength="22.3" lengthAdjust="spacingAndGlyphs">Error</text>
</svg>
</body></html>
